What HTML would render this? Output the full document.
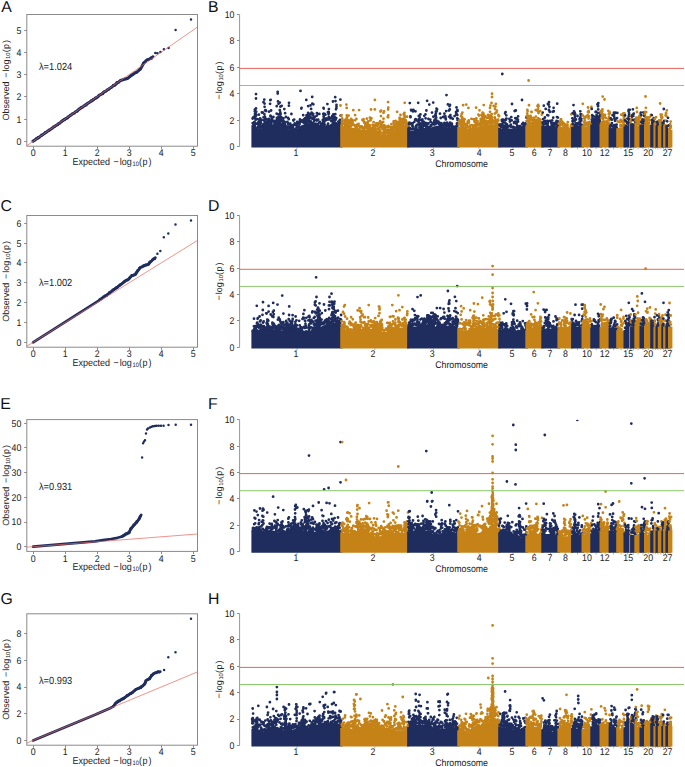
<!DOCTYPE html>
<html><head><meta charset="utf-8"><style>
html,body{margin:0;padding:0;background:#fff;}
svg{display:block;font-family:"Liberation Sans", sans-serif;}
text{text-rendering:geometricPrecision;}
</style></head><body>
<svg width="685" height="767" viewBox="0 0 685 767">
<rect width="685" height="767" fill="#fff"/>
<text x="1.2" y="12.35" font-size="15.8" fill="#111">A</text>
<text x="207.9" y="12.35" font-size="15.8" fill="#111">B</text>
<text x="0.6" y="210.6" font-size="15.8" fill="#111">C</text>
<text x="207.9" y="210.6" font-size="15.8" fill="#111">D</text>
<text x="0.2" y="408.8" font-size="15.8" fill="#111">E</text>
<text x="207.9" y="408.8" font-size="15.8" fill="#111">F</text>
<text x="0.5" y="603.6" font-size="15.8" fill="#111">G</text>
<text x="207.9" y="603.7" font-size="15.8" fill="#111">H</text>
<rect x="26.8" y="14.5" width="170.7" height="131.7" fill="none" stroke="#8a8a8a" stroke-width="1"/>
<line x1="24.2" y1="141.5" x2="26.8" y2="141.5" stroke="#8a8a8a" stroke-width="1"/>
<text transform="translate(21.3,144.7) scale(1,1.1)" font-size="8.8" text-anchor="end" fill="#222">0</text>
<line x1="24.2" y1="119.5" x2="26.8" y2="119.5" stroke="#8a8a8a" stroke-width="1"/>
<text transform="translate(21.3,122.5) scale(1,1.1)" font-size="8.8" text-anchor="end" fill="#222">1</text>
<line x1="24.2" y1="96.5" x2="26.8" y2="96.5" stroke="#8a8a8a" stroke-width="1"/>
<text transform="translate(21.3,100.2) scale(1,1.1)" font-size="8.8" text-anchor="end" fill="#222">2</text>
<line x1="24.2" y1="74.5" x2="26.8" y2="74.5" stroke="#8a8a8a" stroke-width="1"/>
<text transform="translate(21.3,78) scale(1,1.1)" font-size="8.8" text-anchor="end" fill="#222">3</text>
<line x1="24.2" y1="52.5" x2="26.8" y2="52.5" stroke="#8a8a8a" stroke-width="1"/>
<text transform="translate(21.3,55.8) scale(1,1.1)" font-size="8.8" text-anchor="end" fill="#222">4</text>
<line x1="24.2" y1="30.5" x2="26.8" y2="30.5" stroke="#8a8a8a" stroke-width="1"/>
<text transform="translate(21.3,33.5) scale(1,1.1)" font-size="8.8" text-anchor="end" fill="#222">5</text>
<line x1="33.5" y1="146.2" x2="33.5" y2="148.8" stroke="#8a8a8a" stroke-width="1"/>
<text transform="translate(33.1,156.4) scale(1,1.1)" font-size="8.8" text-anchor="middle" fill="#222">0</text>
<line x1="65.5" y1="146.2" x2="65.5" y2="148.8" stroke="#8a8a8a" stroke-width="1"/>
<text transform="translate(65.1,156.4) scale(1,1.1)" font-size="8.8" text-anchor="middle" fill="#222">1</text>
<line x1="97.5" y1="146.2" x2="97.5" y2="148.8" stroke="#8a8a8a" stroke-width="1"/>
<text transform="translate(97.1,156.4) scale(1,1.1)" font-size="8.8" text-anchor="middle" fill="#222">2</text>
<line x1="129.5" y1="146.2" x2="129.5" y2="148.8" stroke="#8a8a8a" stroke-width="1"/>
<text transform="translate(129.1,156.4) scale(1,1.1)" font-size="8.8" text-anchor="middle" fill="#222">3</text>
<line x1="161.5" y1="146.2" x2="161.5" y2="148.8" stroke="#8a8a8a" stroke-width="1"/>
<text transform="translate(161.1,156.4) scale(1,1.1)" font-size="8.8" text-anchor="middle" fill="#222">4</text>
<line x1="193.5" y1="146.2" x2="193.5" y2="148.8" stroke="#8a8a8a" stroke-width="1"/>
<text transform="translate(193.1,156.4) scale(1,1.1)" font-size="8.8" text-anchor="middle" fill="#222">5</text>
<text transform="translate(72.5,164.6) scale(1,1.1)" fill="#222"><tspan x="0" y="0" font-size="9.0">Expected</tspan><tspan x="41.1" y="0" font-size="9.0">&#8722;</tspan><tspan x="47.3" y="0" font-size="9.0">log</tspan><tspan x="60" y="1.3" font-size="5.8">10</tspan><tspan x="66.6" y="0" font-size="9.0">(</tspan><tspan x="70" y="0" font-size="9.0">p</tspan><tspan x="76" y="0" font-size="9.0">)</tspan></text>
<text transform="translate(8.7,120.6) rotate(-90)" fill="#222"><tspan x="0" y="0" font-size="9.0">Observed</tspan><tspan x="42.8" y="0" font-size="9.0">&#8722;</tspan><tspan x="49" y="0" font-size="9.0">log</tspan><tspan x="61.7" y="1.3" font-size="5.8">10</tspan><tspan x="68.3" y="0" font-size="9.0">(</tspan><tspan x="71.7" y="0" font-size="9.0">p</tspan><tspan x="77.7" y="0" font-size="9.0">)</tspan></text>
<text transform="translate(38.9,69.6) scale(1,1.1)" font-size="9.3" fill="#222">&#955;=1.024</text>
<path d="M33.1 141.3 115 84.7 120.3 80.7 123.8 79.4 128.1 78.1 132.5 74.6 136.9 72 140.4 68.9 142.1 65.8 143.9 63.2 146.1 60.6 148.3 59.4 150.9 58.4 153.1 56.6" fill="none" stroke="#1e2d5e" stroke-width="2.7" stroke-linecap="round" stroke-linejoin="round"/>
<path d="M32.9 141h0M34 140.4h0M34.6 140.2h0M34.9 139.8h0M35.7 139.2h0M36.4 138.4h0M37.5 138.5h0M38 137.4h0M39.2 137.6h0M39.9 136.6h0M41 135.7h0M41.6 135.5h0M41.7 134.8h0M42.6 134.9h0M43.2 134.2h0M44.4 133.5h0M45.1 132.7h0M45.4 132.3h0M46.7 132h0M47.1 131.6h0M47.9 130.8h0M49 130.7h0M49.2 130h0M50.2 129.8h0M51.2 128.8h0M52.1 128.1h0M52.4 128.2h0M52.9 127.4h0M53.5 127h0M54.9 126.4h0M55.8 125.7h0M56.4 125.4h0M57 124.8h0M58 124.7h0M58.4 124h0M58.8 123.5h0M60 123.2h0M60.9 122.1h0M61.3 121.9h0M61.7 121.2h0M62.6 120.4h0M63.2 120.4h0M64 119.5h0M65 119.5h0M65.5 118.6h0M66.6 118.5h0M67.6 118h0M67.9 117h0M68.7 116.9h0M70 115.8h0M70 115.3h0M70.8 115h0M71.9 114.3h0M72.1 114h0M73.2 113.6h0M74.5 113.2h0M74.8 112.6h0M75.7 111.6h0M76.6 111.7h0M77.4 111.2h0M77.7 110.3h0M78.2 110h0M78.9 109h0M79.7 108.6h0M80.6 108h0M81 107.5h0M81.9 107.2h0M82.6 107.2h0M83.8 106h0M84.3 105.7h0M85.1 104.9h0M86.3 105.2h0M86.7 104.2h0M87.1 103.4h0M88.1 103h0M89.2 102.4h0M89.3 102.6h0M90.5 101.4h0M91.2 100.7h0M91.9 101.1h0M93 100.3h0M93.2 99.5h0M93.9 99.4h0M94.9 98.8h0M95.5 97.8h0M96.7 98h0M97.4 97.3h0M98.2 96.8h0M98.4 96h0M99.2 95.1h0M99.7 94.8h0M100.6 94.6h0M102 93.9h0M102.7 93.9h0M103.5 92.8h0M103.6 92.2h0M104.3 91.6h0M105.4 91.7h0M106.4 90.9h0M106.9 90.6h0M107.2 90h0M108.7 89.6h0M109.3 88.8h0M109.5 88.6h0M110.4 88.1h0M111.7 87.2h0M111.9 87.2h0M113 85.9h0M113.2 85.4h0M114.6 85.5h0M114.7 85h0M116.2 84.3h0M116.4 83.6h0M116.9 82.5h0M118.5 82.5h0M118.8 82.2h0M119.5 81.6h0M120.6 80.4h0M121 80.2h0M121.8 80.1h0M122.7 79.7h0M123.5 79.8h0M124.7 79h0M126 79.1h0M127 78.8h0M128.1 78.1h0M128.9 77.1h0M129.5 76.6h0M129.9 76.6h0M130.7 75.7h0M132 75.2h0M132.3 74.6h0M133.4 74.3h0M133.9 73.6h0M134.9 72.8h0M136.3 72.5h0M137 72.2h0M138 71.3h0M138.4 70.8h0M139 70.3h0M139.7 69.5h0M140.4 69.3h0M141.1 68.2h0M141.9 66.6h0M142.2 66.2h0M143 64.6h0M143 64h0M143.5 63h0M144.2 62.5h0M145.6 61.8h0M145.8 60.8h0M147.3 59.7h0M148.6 59.8h0M148.9 59.5h0M149.9 58.7h0M151.3 58.7h0M151.3 57.7h0M152.4 57.1h0" stroke="#1e2d5e" stroke-width="2.8" stroke-linecap="round"/>
<path d="M155.3 53.1h0M157.5 53.3h0M160.4 52.1h0M163.9 49.2h0M168.6 48.1h0M175.6 30.1h0M191 19.5h0" stroke="#1e2d5e" stroke-width="2.5" stroke-linecap="round"/>
<line x1="26.8" y1="145.7" x2="197.5" y2="27" stroke="#e8645a" stroke-width="0.7"/>
<rect x="26.8" y="215.5" width="170.7" height="131.7" fill="none" stroke="#8a8a8a" stroke-width="1"/>
<line x1="24.2" y1="342.5" x2="26.8" y2="342.5" stroke="#8a8a8a" stroke-width="1"/>
<text transform="translate(21.3,345.7) scale(1,1.1)" font-size="8.8" text-anchor="end" fill="#222">0</text>
<line x1="24.2" y1="322.5" x2="26.8" y2="322.5" stroke="#8a8a8a" stroke-width="1"/>
<text transform="translate(21.3,325.9) scale(1,1.1)" font-size="8.8" text-anchor="end" fill="#222">1</text>
<line x1="24.2" y1="302.5" x2="26.8" y2="302.5" stroke="#8a8a8a" stroke-width="1"/>
<text transform="translate(21.3,306.1) scale(1,1.1)" font-size="8.8" text-anchor="end" fill="#222">2</text>
<line x1="24.2" y1="282.5" x2="26.8" y2="282.5" stroke="#8a8a8a" stroke-width="1"/>
<text transform="translate(21.3,286.2) scale(1,1.1)" font-size="8.8" text-anchor="end" fill="#222">3</text>
<line x1="24.2" y1="262.5" x2="26.8" y2="262.5" stroke="#8a8a8a" stroke-width="1"/>
<text transform="translate(21.3,266.4) scale(1,1.1)" font-size="8.8" text-anchor="end" fill="#222">4</text>
<line x1="24.2" y1="243.5" x2="26.8" y2="243.5" stroke="#8a8a8a" stroke-width="1"/>
<text transform="translate(21.3,246.6) scale(1,1.1)" font-size="8.8" text-anchor="end" fill="#222">5</text>
<line x1="24.2" y1="223.5" x2="26.8" y2="223.5" stroke="#8a8a8a" stroke-width="1"/>
<text transform="translate(21.3,226.7) scale(1,1.1)" font-size="8.8" text-anchor="end" fill="#222">6</text>
<line x1="33.5" y1="347.2" x2="33.5" y2="349.8" stroke="#8a8a8a" stroke-width="1"/>
<text transform="translate(33.1,357.4) scale(1,1.1)" font-size="8.8" text-anchor="middle" fill="#222">0</text>
<line x1="65.5" y1="347.2" x2="65.5" y2="349.8" stroke="#8a8a8a" stroke-width="1"/>
<text transform="translate(65.1,357.4) scale(1,1.1)" font-size="8.8" text-anchor="middle" fill="#222">1</text>
<line x1="97.5" y1="347.2" x2="97.5" y2="349.8" stroke="#8a8a8a" stroke-width="1"/>
<text transform="translate(97.1,357.4) scale(1,1.1)" font-size="8.8" text-anchor="middle" fill="#222">2</text>
<line x1="129.5" y1="347.2" x2="129.5" y2="349.8" stroke="#8a8a8a" stroke-width="1"/>
<text transform="translate(129.1,357.4) scale(1,1.1)" font-size="8.8" text-anchor="middle" fill="#222">3</text>
<line x1="161.5" y1="347.2" x2="161.5" y2="349.8" stroke="#8a8a8a" stroke-width="1"/>
<text transform="translate(161.1,357.4) scale(1,1.1)" font-size="8.8" text-anchor="middle" fill="#222">4</text>
<line x1="193.5" y1="347.2" x2="193.5" y2="349.8" stroke="#8a8a8a" stroke-width="1"/>
<text transform="translate(193.1,357.4) scale(1,1.1)" font-size="8.8" text-anchor="middle" fill="#222">5</text>
<text transform="translate(72.5,365.6) scale(1,1.1)" fill="#222"><tspan x="0" y="0" font-size="9.0">Expected</tspan><tspan x="41.1" y="0" font-size="9.0">&#8722;</tspan><tspan x="47.3" y="0" font-size="9.0">log</tspan><tspan x="60" y="1.3" font-size="5.8">10</tspan><tspan x="66.6" y="0" font-size="9.0">(</tspan><tspan x="70" y="0" font-size="9.0">p</tspan><tspan x="76" y="0" font-size="9.0">)</tspan></text>
<text transform="translate(8.7,321.7) rotate(-90)" fill="#222"><tspan x="0" y="0" font-size="9.0">Observed</tspan><tspan x="42.8" y="0" font-size="9.0">&#8722;</tspan><tspan x="49" y="0" font-size="9.0">log</tspan><tspan x="61.7" y="1.3" font-size="5.8">10</tspan><tspan x="68.3" y="0" font-size="9.0">(</tspan><tspan x="71.7" y="0" font-size="9.0">p</tspan><tspan x="77.7" y="0" font-size="9.0">)</tspan></text>
<text transform="translate(38.9,285.8) scale(1,1.1)" font-size="9.3" fill="#222">&#955;=1.002</text>
<path d="M33.1 342.3 100 299.8 107.3 294.7 113.9 289.6 121.9 283.7 125 280.9 128.5 279.2 132 275.7 135.2 274.5 136.7 272.2 138.4 270.1 140.5 267.2 142.5 266.6 144.9 265.1 148.4 264.6 150.7 261.7 153.6 259.1 155.4 257.6" fill="none" stroke="#1e2d5e" stroke-width="2.7" stroke-linecap="round" stroke-linejoin="round"/>
<path d="M99.8 299.5h0M100.9 298.8h0M101.7 298.5h0M102 298.1h0M102.8 297.5h0M103.7 296.6h0M104.8 296.7h0M105.3 295.6h0M106.6 295.7h0M107.4 294.6h0M108.5 293.7h0M109.1 293.4h0M109.2 292.7h0M110.1 292.7h0M110.7 291.9h0M111.8 291.2h0M112.5 290.3h0M112.8 289.9h0M114.1 289.5h0M114.5 289.1h0M115.3 288.3h0M116.3 288.2h0M116.6 287.5h0M117.6 287.3h0M118.5 286.2h0M119.4 285.5h0M119.6 285.5h0M120.1 284.8h0M120.8 284.4h0M122.1 283.8h0M123 282.8h0M123.6 282.4h0M124.3 281.6h0M125.3 281.3h0M125.9 280.6h0M126.4 280.2h0M127.8 280.1h0M128.8 279h0M129.1 278.7h0M129.5 277.8h0M130.3 276.8h0M130.9 276.6h0M131.7 275.5h0M133 275.6h0M133.8 274.9h0M135.2 274.8h0M136 274.1h0M136 272.9h0M136.6 272.5h0M137.7 271.2h0M137.5 270.6h0M138.2 270.1h0M139.2 268.9h0M139.4 268.1h0M140.4 267.3h0M141.9 267.1h0M142.5 266.7h0M143.5 265.7h0M144.5 265.9h0M145.2 265.4h0M146 264.8h0M146.9 264.9h0M148 264.2h0M148.7 263.6h0M149.4 262.7h0M149.7 262.1h0M150.3 261.6h0M151 261.4h0M152.3 260.1h0M152.7 259.6h0M153.5 258.8h0M154.8 258.8h0" stroke="#1e2d5e" stroke-width="2.8" stroke-linecap="round"/>
<path d="M157.4 253.8h0M160.3 250.9h0M163.8 237.3h0M168.3 233.4h0M175.5 224.6h0M191 220.5h0" stroke="#1e2d5e" stroke-width="2.5" stroke-linecap="round"/>
<line x1="26.8" y1="346.2" x2="197.5" y2="240.4" stroke="#e8645a" stroke-width="0.7"/>
<rect x="26.8" y="419.6" width="170.7" height="131.8" fill="none" stroke="#8a8a8a" stroke-width="1"/>
<line x1="24.2" y1="546.5" x2="26.8" y2="546.5" stroke="#8a8a8a" stroke-width="1"/>
<text transform="translate(21.3,550.1) scale(1,1.1)" font-size="8.8" text-anchor="end" fill="#222">0</text>
<line x1="24.2" y1="522.5" x2="26.8" y2="522.5" stroke="#8a8a8a" stroke-width="1"/>
<text transform="translate(21.3,525.4) scale(1,1.1)" font-size="8.8" text-anchor="end" fill="#222">10</text>
<line x1="24.2" y1="497.5" x2="26.8" y2="497.5" stroke="#8a8a8a" stroke-width="1"/>
<text transform="translate(21.3,500.8) scale(1,1.1)" font-size="8.8" text-anchor="end" fill="#222">20</text>
<line x1="24.2" y1="472.5" x2="26.8" y2="472.5" stroke="#8a8a8a" stroke-width="1"/>
<text transform="translate(21.3,476.1) scale(1,1.1)" font-size="8.8" text-anchor="end" fill="#222">30</text>
<line x1="24.2" y1="447.5" x2="26.8" y2="447.5" stroke="#8a8a8a" stroke-width="1"/>
<text transform="translate(21.3,451.4) scale(1,1.1)" font-size="8.8" text-anchor="end" fill="#222">40</text>
<line x1="24.2" y1="423.5" x2="26.8" y2="423.5" stroke="#8a8a8a" stroke-width="1"/>
<text transform="translate(21.3,426.7) scale(1,1.1)" font-size="8.8" text-anchor="end" fill="#222">50</text>
<line x1="33.5" y1="551.4" x2="33.5" y2="554" stroke="#8a8a8a" stroke-width="1"/>
<text transform="translate(33.1,561.6) scale(1,1.1)" font-size="8.8" text-anchor="middle" fill="#222">0</text>
<line x1="65.5" y1="551.4" x2="65.5" y2="554" stroke="#8a8a8a" stroke-width="1"/>
<text transform="translate(65.1,561.6) scale(1,1.1)" font-size="8.8" text-anchor="middle" fill="#222">1</text>
<line x1="97.5" y1="551.4" x2="97.5" y2="554" stroke="#8a8a8a" stroke-width="1"/>
<text transform="translate(97.1,561.6) scale(1,1.1)" font-size="8.8" text-anchor="middle" fill="#222">2</text>
<line x1="129.5" y1="551.4" x2="129.5" y2="554" stroke="#8a8a8a" stroke-width="1"/>
<text transform="translate(129.1,561.6) scale(1,1.1)" font-size="8.8" text-anchor="middle" fill="#222">3</text>
<line x1="161.5" y1="551.4" x2="161.5" y2="554" stroke="#8a8a8a" stroke-width="1"/>
<text transform="translate(161.1,561.6) scale(1,1.1)" font-size="8.8" text-anchor="middle" fill="#222">4</text>
<line x1="193.5" y1="551.4" x2="193.5" y2="554" stroke="#8a8a8a" stroke-width="1"/>
<text transform="translate(193.1,561.6) scale(1,1.1)" font-size="8.8" text-anchor="middle" fill="#222">5</text>
<text transform="translate(72.5,569.8) scale(1,1.1)" fill="#222"><tspan x="0" y="0" font-size="9.0">Expected</tspan><tspan x="41.1" y="0" font-size="9.0">&#8722;</tspan><tspan x="47.3" y="0" font-size="9.0">log</tspan><tspan x="60" y="1.3" font-size="5.8">10</tspan><tspan x="66.6" y="0" font-size="9.0">(</tspan><tspan x="70" y="0" font-size="9.0">p</tspan><tspan x="76" y="0" font-size="9.0">)</tspan></text>
<text transform="translate(8.7,525.8) rotate(-90)" fill="#222"><tspan x="0" y="0" font-size="9.0">Observed</tspan><tspan x="42.8" y="0" font-size="9.0">&#8722;</tspan><tspan x="49" y="0" font-size="9.0">log</tspan><tspan x="61.7" y="1.3" font-size="5.8">10</tspan><tspan x="68.3" y="0" font-size="9.0">(</tspan><tspan x="71.7" y="0" font-size="9.0">p</tspan><tspan x="77.7" y="0" font-size="9.0">)</tspan></text>
<text transform="translate(38.9,489.7) scale(1,1.1)" font-size="9.3" fill="#222">&#955;=0.931</text>
<path d="M33.1 546.7 95 541.4 103 540.2 111.1 539 117.5 537.8 122.3 536.5 125.5 534.5 129.1 532.5 130.3 529.7 132.8 526.5 136 522.9 138.8 519.3 140 517.3 141.2 514.9" fill="none" stroke="#1e2d5e" stroke-width="2.7" stroke-linecap="round" stroke-linejoin="round"/>
<path d="M122.1 536.2h0M123.2 535.6h0M123.9 535.4h0M124.3 535h0M125.1 534.4h0M126 533.6h0M127.2 533.8h0M127.9 532.8h0M129.2 532.9h0M129.6 531.5h0M130.3 530.2h0M130.6 529.5h0M130.6 528.6h0M131.4 528.4h0M131.9 527.4h0M132.9 526.4h0M133.5 525.4h0M133.7 524.8h0M134.9 524.3h0M135.2 523.7h0M136 522.7h0M136.8 522.4h0M136.9 521.5h0M137.7 521.1h0M138.4 519.8h0M139.2 519h0M139.3 518.5h0M139.7 517.3h0M140.2 516.3h0" stroke="#1e2d5e" stroke-width="2.8" stroke-linecap="round"/>
<path d="M142.1 457.4h0M143.1 443.3h0M144 441.5h0M145 440.3h0M146 433.5h0M147 429.6h0M148 428.4h0M149.9 427.6h0M151.5 426.8h0M153 426.3h0M154.8 426h0M156.5 425.8h0M158.7 425.7h0M161 425.7h0M163.6 425.7h0M168.5 425.1h0M175.7 424.7h0M191 424.7h0" stroke="#1e2d5e" stroke-width="2.5" stroke-linecap="round"/>
<line x1="26.8" y1="547.2" x2="197.5" y2="534" stroke="#e8645a" stroke-width="0.7"/>
<rect x="26.8" y="613.8" width="170.7" height="131.4" fill="none" stroke="#8a8a8a" stroke-width="1"/>
<line x1="24.2" y1="740.5" x2="26.8" y2="740.5" stroke="#8a8a8a" stroke-width="1"/>
<text transform="translate(21.3,743.8) scale(1,1.1)" font-size="8.8" text-anchor="end" fill="#222">0</text>
<line x1="24.2" y1="713.5" x2="26.8" y2="713.5" stroke="#8a8a8a" stroke-width="1"/>
<text transform="translate(21.3,717.1) scale(1,1.1)" font-size="8.8" text-anchor="end" fill="#222">2</text>
<line x1="24.2" y1="687.5" x2="26.8" y2="687.5" stroke="#8a8a8a" stroke-width="1"/>
<text transform="translate(21.3,690.4) scale(1,1.1)" font-size="8.8" text-anchor="end" fill="#222">4</text>
<line x1="24.2" y1="660.5" x2="26.8" y2="660.5" stroke="#8a8a8a" stroke-width="1"/>
<text transform="translate(21.3,663.8) scale(1,1.1)" font-size="8.8" text-anchor="end" fill="#222">6</text>
<line x1="24.2" y1="633.5" x2="26.8" y2="633.5" stroke="#8a8a8a" stroke-width="1"/>
<text transform="translate(21.3,637.1) scale(1,1.1)" font-size="8.8" text-anchor="end" fill="#222">8</text>
<line x1="33.5" y1="745.2" x2="33.5" y2="747.8" stroke="#8a8a8a" stroke-width="1"/>
<text transform="translate(33.1,755.4) scale(1,1.1)" font-size="8.8" text-anchor="middle" fill="#222">0</text>
<line x1="65.5" y1="745.2" x2="65.5" y2="747.8" stroke="#8a8a8a" stroke-width="1"/>
<text transform="translate(65.1,755.4) scale(1,1.1)" font-size="8.8" text-anchor="middle" fill="#222">1</text>
<line x1="97.5" y1="745.2" x2="97.5" y2="747.8" stroke="#8a8a8a" stroke-width="1"/>
<text transform="translate(97.1,755.4) scale(1,1.1)" font-size="8.8" text-anchor="middle" fill="#222">2</text>
<line x1="129.5" y1="745.2" x2="129.5" y2="747.8" stroke="#8a8a8a" stroke-width="1"/>
<text transform="translate(129.1,755.4) scale(1,1.1)" font-size="8.8" text-anchor="middle" fill="#222">3</text>
<line x1="161.5" y1="745.2" x2="161.5" y2="747.8" stroke="#8a8a8a" stroke-width="1"/>
<text transform="translate(161.1,755.4) scale(1,1.1)" font-size="8.8" text-anchor="middle" fill="#222">4</text>
<line x1="193.5" y1="745.2" x2="193.5" y2="747.8" stroke="#8a8a8a" stroke-width="1"/>
<text transform="translate(193.1,755.4) scale(1,1.1)" font-size="8.8" text-anchor="middle" fill="#222">5</text>
<text transform="translate(72.5,763.6) scale(1,1.1)" fill="#222"><tspan x="0" y="0" font-size="9.0">Expected</tspan><tspan x="41.1" y="0" font-size="9.0">&#8722;</tspan><tspan x="47.3" y="0" font-size="9.0">log</tspan><tspan x="60" y="1.3" font-size="5.8">10</tspan><tspan x="66.6" y="0" font-size="9.0">(</tspan><tspan x="70" y="0" font-size="9.0">p</tspan><tspan x="76" y="0" font-size="9.0">)</tspan></text>
<text transform="translate(8.7,719.8) rotate(-90)" fill="#222"><tspan x="0" y="0" font-size="9.0">Observed</tspan><tspan x="42.8" y="0" font-size="9.0">&#8722;</tspan><tspan x="49" y="0" font-size="9.0">log</tspan><tspan x="61.7" y="1.3" font-size="5.8">10</tspan><tspan x="68.3" y="0" font-size="9.0">(</tspan><tspan x="71.7" y="0" font-size="9.0">p</tspan><tspan x="77.7" y="0" font-size="9.0">)</tspan></text>
<text transform="translate(38.9,683.6) scale(1,1.1)" font-size="9.3" fill="#222">&#955;=0.993</text>
<path d="M33.1 740.4 95 714.8 110 708.2 113.5 706.4 115.5 703.6 118.8 701 123.1 698.8 127.5 695.7 131.9 692.7 136.3 689.2 140.6 687.4 145 683.9 146.3 680.4 149.4 678.6 151.6 675.6 154.7 673 157.7 672.1 160.3 671.6" fill="none" stroke="#1e2d5e" stroke-width="2.7" stroke-linecap="round" stroke-linejoin="round"/>
<path d="M113.3 706.1h0M114.3 705.1h0M114.9 704.4h0M115.1 703.6h0M115.9 702.9h0M116.8 701.9h0M117.9 701.9h0M118.5 700.8h0M119.8 701h0M120.6 700h0M121.8 699.3h0M122.6 699.1h0M122.8 698.5h0M123.8 698.5h0M124.6 697.6h0M125.9 696.8h0M126.7 695.9h0M127.1 695.4h0M128.5 695h0M129.1 694.6h0M130.1 693.7h0M131.3 693.5h0M131.7 692.8h0M132.7 692.5h0M133.6 691.3h0M134.5 690.6h0M134.8 690.6h0M135.3 689.8h0M135.9 689.4h0M137.4 688.9h0M138.4 688.3h0M139.1 688.2h0M139.8 687.7h0M140.9 687.8h0M141.3 687h0M141.7 686.4h0M142.9 686.1h0M143.8 684.9h0M144.2 684.6h0M144.6 683.9h0M145 682.7h0M145.3 682.4h0M145.6 681h0M146.2 680.7h0M147 679.8h0M148.4 679.5h0M149.7 678.9h0M149.8 677.8h0M150.4 677.4h0M151.5 676h0M151.3 675.4h0M152.1 674.9h0M153.2 674.1h0M153.5 673.6h0M154.6 673.1h0M156.1 672.9h0M156.7 672.5h0M157.9 671.7h0M159.4 672.1h0" stroke="#1e2d5e" stroke-width="2.8" stroke-linecap="round"/>
<path d="M164.1 670.1h0M168.3 657.2h0M175.5 652.3h0M191 618.8h0" stroke="#1e2d5e" stroke-width="2.5" stroke-linecap="round"/>
<line x1="26.8" y1="743" x2="197.5" y2="671.9" stroke="#e8645a" stroke-width="0.7"/>
<line x1="239.6" y1="146.4" x2="239.6" y2="14.6" stroke="#8a8a8a" stroke-width="0.9"/>
<line x1="237.0" y1="146.5" x2="239.6" y2="146.5" stroke="#8a8a8a" stroke-width="1"/>
<text transform="translate(234.5,149.8) scale(1,1.1)" font-size="8.8" text-anchor="end" fill="#222">0</text>
<line x1="237.0" y1="120.5" x2="239.6" y2="120.5" stroke="#8a8a8a" stroke-width="1"/>
<text transform="translate(234.5,123.5) scale(1,1.1)" font-size="8.8" text-anchor="end" fill="#222">2</text>
<line x1="237.0" y1="93.5" x2="239.6" y2="93.5" stroke="#8a8a8a" stroke-width="1"/>
<text transform="translate(234.5,97.1) scale(1,1.1)" font-size="8.8" text-anchor="end" fill="#222">4</text>
<line x1="237.0" y1="67.5" x2="239.6" y2="67.5" stroke="#8a8a8a" stroke-width="1"/>
<text transform="translate(234.5,70.7) scale(1,1.1)" font-size="8.8" text-anchor="end" fill="#222">6</text>
<line x1="237.0" y1="40.5" x2="239.6" y2="40.5" stroke="#8a8a8a" stroke-width="1"/>
<text transform="translate(234.5,44.4) scale(1,1.1)" font-size="8.8" text-anchor="end" fill="#222">8</text>
<line x1="237.0" y1="14.5" x2="239.6" y2="14.5" stroke="#8a8a8a" stroke-width="1"/>
<text transform="translate(234.5,18) scale(1,1.1)" font-size="8.8" text-anchor="end" fill="#222">10</text>
<text transform="translate(221.6,99.5) rotate(-90)" fill="#222"><tspan x="0" y="0" font-size="9.0">&#8722;</tspan><tspan x="6.2" y="0" font-size="9.0">log</tspan><tspan x="18.9" y="1.3" font-size="5.8">10</tspan><tspan x="25.5" y="0" font-size="9.0">(</tspan><tspan x="28.9" y="0" font-size="9.0">p</tspan><tspan x="34.9" y="0" font-size="9.0">)</tspan></text>
<line x1="297" y1="147.3" x2="297" y2="149.3" stroke="#999" stroke-width="0.7"/>
<line x1="374.9" y1="147.3" x2="374.9" y2="149.3" stroke="#999" stroke-width="0.7"/>
<line x1="433.4" y1="147.3" x2="433.4" y2="149.3" stroke="#999" stroke-width="0.7"/>
<line x1="478.9" y1="147.3" x2="478.9" y2="149.3" stroke="#999" stroke-width="0.7"/>
<line x1="513" y1="147.3" x2="513" y2="149.3" stroke="#999" stroke-width="0.7"/>
<line x1="534.5" y1="147.3" x2="534.5" y2="149.3" stroke="#999" stroke-width="0.7"/>
<line x1="550.5" y1="147.3" x2="550.5" y2="149.3" stroke="#999" stroke-width="0.7"/>
<line x1="565.4" y1="147.3" x2="565.4" y2="149.3" stroke="#999" stroke-width="0.7"/>
<line x1="577.5" y1="147.3" x2="577.5" y2="149.3" stroke="#999" stroke-width="0.7"/>
<line x1="587.1" y1="147.3" x2="587.1" y2="149.3" stroke="#999" stroke-width="0.7"/>
<line x1="596.1" y1="147.3" x2="596.1" y2="149.3" stroke="#999" stroke-width="0.7"/>
<line x1="605.2" y1="147.3" x2="605.2" y2="149.3" stroke="#999" stroke-width="0.7"/>
<line x1="613.6" y1="147.3" x2="613.6" y2="149.3" stroke="#999" stroke-width="0.7"/>
<line x1="621.1" y1="147.3" x2="621.1" y2="149.3" stroke="#999" stroke-width="0.7"/>
<line x1="627.5" y1="147.3" x2="627.5" y2="149.3" stroke="#999" stroke-width="0.7"/>
<line x1="630.8" y1="147.3" x2="630.8" y2="149.3" stroke="#999" stroke-width="0.7"/>
<line x1="633.4" y1="147.3" x2="633.4" y2="149.3" stroke="#999" stroke-width="0.7"/>
<line x1="638.1" y1="147.3" x2="638.1" y2="149.3" stroke="#999" stroke-width="0.7"/>
<line x1="643" y1="147.3" x2="643" y2="149.3" stroke="#999" stroke-width="0.7"/>
<line x1="648.3" y1="147.3" x2="648.3" y2="149.3" stroke="#999" stroke-width="0.7"/>
<line x1="653" y1="147.3" x2="653" y2="149.3" stroke="#999" stroke-width="0.7"/>
<line x1="655.7" y1="147.3" x2="655.7" y2="149.3" stroke="#999" stroke-width="0.7"/>
<line x1="657.9" y1="147.3" x2="657.9" y2="149.3" stroke="#999" stroke-width="0.7"/>
<line x1="660.8" y1="147.3" x2="660.8" y2="149.3" stroke="#999" stroke-width="0.7"/>
<line x1="663.4" y1="147.3" x2="663.4" y2="149.3" stroke="#999" stroke-width="0.7"/>
<line x1="665.5" y1="147.3" x2="665.5" y2="149.3" stroke="#999" stroke-width="0.7"/>
<line x1="667.9" y1="147.3" x2="667.9" y2="149.3" stroke="#999" stroke-width="0.7"/>
<line x1="670.2" y1="147.3" x2="670.2" y2="149.3" stroke="#999" stroke-width="0.7"/>
<text transform="translate(296,156) scale(1,1.1)" font-size="8.8" text-anchor="middle" fill="#222">1</text>
<text transform="translate(372.9,156) scale(1,1.1)" font-size="8.8" text-anchor="middle" fill="#222">2</text>
<text transform="translate(432.2,156) scale(1,1.1)" font-size="8.8" text-anchor="middle" fill="#222">3</text>
<text transform="translate(479.2,156) scale(1,1.1)" font-size="8.8" text-anchor="middle" fill="#222">4</text>
<text transform="translate(511.9,156) scale(1,1.1)" font-size="8.8" text-anchor="middle" fill="#222">5</text>
<text transform="translate(534.3,156) scale(1,1.1)" font-size="8.8" text-anchor="middle" fill="#222">6</text>
<text transform="translate(550,156) scale(1,1.1)" font-size="8.8" text-anchor="middle" fill="#222">7</text>
<text transform="translate(565.4,156) scale(1,1.1)" font-size="8.8" text-anchor="middle" fill="#222">8</text>
<text transform="translate(587,156) scale(1,1.1)" font-size="8.8" text-anchor="middle" fill="#222">10</text>
<text transform="translate(604.7,156) scale(1,1.1)" font-size="8.8" text-anchor="middle" fill="#222">12</text>
<text transform="translate(628.2,156) scale(1,1.1)" font-size="8.8" text-anchor="middle" fill="#222">15</text>
<text transform="translate(648.2,156) scale(1,1.1)" font-size="8.8" text-anchor="middle" fill="#222">20</text>
<text transform="translate(667.6,156) scale(1,1.1)" font-size="8.8" text-anchor="middle" fill="#222">27</text>
<text transform="translate(461.6,166.7) scale(1,1.1)" font-size="8.8" text-anchor="middle" fill="#222">Chromosome</text>
<path d="M251.4 147.6 251.4 125.3 252.6 125.3 253.6 125.3 254.6 126.1 255.6 126.1 256.6 126.9 257.6 127.7 258.6 128.5 259.6 129.3 260.6 128.6 261.6 128.6 262.6 127.9 263.6 127.3 264.6 126.6 265.6 126 266.6 126 267.6 126 268.6 126 269.6 125.8 270.6 125.8 271.6 125.7 272.6 125.6 273.6 124.1 274.6 124 275.6 122.7 276.6 121.4 277.6 121.1 278.6 119.8 279.6 120.8 280.6 121.9 281.6 122.9 282.6 124 283.6 125 284.6 125 285.6 126.1 286.6 127.2 287.6 128.2 288.6 129.3 289.6 129.3 290.6 129.3 291.6 129.3 292.6 129.3 293.6 129.3 294.6 129.3 295.6 129.3 296.6 128.5 297.6 128.5 298.6 127.7 299.6 126.9 300.6 126.1 301.6 125.3 302.6 124.8 303.6 124.8 304.6 124.3 305.6 123.7 306.6 123.2 307.6 122.7 308.6 123.5 309.6 123.5 310.6 124.3 311.6 125 312.6 125.8 313.6 126.6 314.6 126.6 315.6 126.6 316.6 126.6 317.6 126.6 318.6 126.6 319.6 126.6 320.6 126.6 321.6 126.4 322.6 126.4 323.6 126.1 324.6 125.8 325.6 125.6 326.6 125.3 327.6 125.3 328.6 124.7 329.6 124.7 330.6 124 331.6 123.3 332.6 122.7 333.6 122 334.6 122 335.6 122 336.6 122 337.6 122.7 338.6 122.7 339.6 123.4 340.6 124.2 341.4 124.9 342.6 124.9 342.6 147.6Z" fill="#1e2d5e"/>
<path d="M252.7 123.2h0M253 123.5h0M252.6 118.5h0M253.4 125.2h0M253.1 117.9h0M253.6 117.2h0M254.3 123.5h0M254.2 122.2h0M255 115.5h0M254.8 125.4h0M254.6 125.4h0M254.8 125.6h0M254.6 122.4h0M255.6 119.8h0M255.2 117.5h0M256.7 123.7h0M257.3 119.1h0M257.8 126.8h0M258.2 126.7h0M258.2 122.3h0M258.9 114.7h0M258.8 125.6h0M259.2 121.7h0M259.2 127.7h0M259.6 126.7h0M259.7 125.8h0M259.7 129h0M260.2 124.4h0M260.2 118.5h0M260.6 122.2h0M260.6 125.4h0M260.9 122.9h0M261.6 120.1h0M262 127.4h0M261.9 112.5h0M261.8 126.7h0M262.6 126.7h0M263 127.5h0M263 127h0M262.8 126.1h0M262.6 126h0M263.3 125.1h0M263.5 117.4h0M263.3 124.4h0M263.3 125.2h0M263.9 120.4h0M264.1 117.1h0M264.3 120.2h0M264.5 126.3h0M264.3 124.5h0M265.2 122.1h0M265.4 121.6h0M265.5 122h0M265.1 123.5h0M265.1 125.9h0M265.7 110.1h0M266 111.1h0M266.3 123.3h0M266.6 119.1h0M266.7 124.6h0M266.9 121.7h0M267 124h0M267.1 125h0M268.1 124.1h0M268 123.7h0M268.4 125.2h0M268.5 119.8h0M268.4 125.9h0M268.6 121.4h0M269 123.6h0M269 111.7h0M269.7 124.9h0M270.7 115.9h0M271 120.7h0M271 123.1h0M270.8 121h0M270.7 125.3h0M271.4 123h0M271.4 125.5h0M271.4 124.8h0M271.1 124.2h0M271.8 117.4h0M271.8 125.3h0M271.9 119.1h0M272 117.5h0M272.8 121h0M273.4 117h0M273.8 120.8h0M274.4 121.5h0M274.4 123.5h0M274.8 122.3h0M274.7 122.4h0M275.2 120.8h0M275.3 121.6h0M275.6 121.2h0M276.2 121.2h0M276.7 106.2h0M276.9 118h0M276.7 113.7h0M277.1 119.7h0M278.3 118.4h0M278.5 103.8h0M278.3 114.3h0M278.6 117h0M279 119.9h0M279.5 120.8h0M279.5 120.5h0M279.3 120h0M279.8 110.2h0M279.8 102.6h0M279.7 118.9h0M279.8 119.2h0M279.9 118.6h0M280.4 106.7h0M280.3 116.4h0M280.3 112.5h0M280.6 114h0M281 120.1h0M281 118.9h0M280.7 121.5h0M281.1 121h0M281.9 117.9h0M282 117.9h0M281.7 105.8h0M283.1 123.8h0M283.3 120.6h0M283.4 118.3h0M283.3 122.7h0M283.7 121.9h0M283.7 121.4h0M283.8 123.4h0M284.4 124h0M285 125.5h0M284.7 122h0M284.9 123.8h0M285.6 126h0M285.1 113.2h0M285.9 117h0M287.3 122h0M287.1 127.5h0M287.4 127h0M288 122.8h0M288.6 127h0M288.1 124.2h0M288.1 118h0M288.7 118.9h0M288.8 119.2h0M288.7 127.8h0M289.9 127.3h0M290.1 129h0M290.6 125.6h0M290.3 123.7h0M290.7 125.5h0M291.5 127.7h0M291.4 114h0M291.6 127h0M291.1 128.4h0M292 127.5h0M291.7 126.7h0M292.4 127.7h0M292.3 125.5h0M293.1 127.9h0M292.9 128.5h0M293 128.4h0M293.2 125.8h0M293.3 129.2h0M293.3 120.2h0M293.1 129.1h0M293.4 120.6h0M293.9 124.8h0M294.2 119.6h0M294.7 123.3h0M295.4 124.6h0M295.8 128.9h0M295.8 129.1h0M296.3 128.4h0M296.7 126.8h0M296.8 124.2h0M297.2 122h0M297.4 125.8h0M297.4 123.2h0M298.5 127h0M299.6 123.9h0M299.3 126.3h0M299.9 120.6h0M300 119.5h0M299.6 122.2h0M300.4 122h0M301.3 108.5h0M301.4 120.3h0M301.6 107.8h0M301.8 120.4h0M302.4 121.6h0M303.1 120.3h0M303.2 115.2h0M303.5 122.6h0M303.6 122.2h0M304.1 119.1h0M304.8 123.5h0M304.6 120.7h0M305.1 122.8h0M305.4 119.4h0M305.4 118.2h0M305.4 123h0M306.5 115.4h0M306.5 120.6h0M306.6 116.7h0M306.9 115.1h0M307.6 114.8h0M307.4 122.6h0M307.2 120.9h0M308 117.7h0M308 119.5h0M307.6 119.2h0M308.1 112.9h0M308.4 118.8h0M308.2 106.2h0M308.3 114.9h0M308.9 118.1h0M309.6 115.7h0M309.3 120.4h0M310 123.6h0M309.9 120.9h0M309.9 121.7h0M309.8 123.9h0M310.7 113.6h0M310.8 121.5h0M310.9 122.2h0M310.8 117.5h0M311.1 108.9h0M311.6 122.8h0M311.2 123.7h0M311.1 124.8h0M311.3 118.1h0M311.5 124.4h0M311.6 112.7h0M312.3 125.7h0M312.6 118.9h0M312.7 122.8h0M312.7 125.8h0M313.2 113.8h0M314.1 124.6h0M313.7 116.5h0M313.7 125.3h0M313.9 118.4h0M314.3 120.7h0M314.2 125h0M314.6 117h0M314.7 123.7h0M314.6 125.8h0M315.2 124.2h0M315.1 126.6h0M315.7 123.9h0M315.8 124.9h0M316.4 125.1h0M316.5 119.6h0M316.2 123.8h0M316.9 120.6h0M316.9 113.2h0M317 124.4h0M316.6 115.8h0M317.1 125.7h0M317.4 124.4h0M317.8 114h0M317.7 124.1h0M318.2 119.6h0M319.2 122.6h0M319.3 113.9h0M319.2 126.6h0M319.7 126h0M319.8 121.8h0M321.2 124.2h0M321.3 126.3h0M321.4 126.6h0M322.5 124.9h0M322.3 125.9h0M322.8 120h0M322.7 122.7h0M323.3 121.4h0M323.9 115.6h0M323.6 120.9h0M323.8 118.4h0M324.3 125.5h0M324.6 124.5h0M324.3 119.4h0M325.2 120.2h0M325.4 114.7h0M325.3 118.9h0M326 120.2h0M326.5 118.3h0M326.7 119.4h0M327.4 104.1h0M327.7 125h0M328.1 123.7h0M327.9 119.5h0M328.8 119.2h0M329.3 119.4h0M330.3 117.8h0M331.3 118h0M331.1 118.2h0M331.3 121.2h0M332 117.3h0M332.3 115.9h0M332.9 121.6h0M332.8 119.1h0M333 121.9h0M333.3 118.8h0M333.2 122.6h0M333.6 116.2h0M334.4 120.3h0M334.5 119.7h0M335 117.4h0M335.1 120.5h0M335.4 119.2h0M335.7 119.5h0M336.2 118.2h0M338.3 121.7h0M339.5 120.7h0M339.2 122.1h0M340 122.8h0M340 120h0M340.2 122.5h0M340.4 99.6h0M340.2 124h0M340.6 124.1h0M340.6 115.6h0M341.1 122.9h0M254.6 117.2h0M255.5 112.8h0M254.8 118.3h0M255.4 114.6h0M254.8 111.2h0M255 113.8h0M324.3 122h0M323.6 120.8h0M323.4 121.9h0M323.8 123h0M265.3 118.8h0M265 116.8h0M264.7 122.2h0M265.1 110.5h0M259.1 119.5h0M259.5 120.2h0M260.1 122.8h0M258.9 122.9h0M259.8 121.9h0M259.2 121.5h0M336.5 106.4h0M335.5 101.1h0M335.4 117.6h0M335.3 114.2h0M336.4 108.2h0M336 109.3h0M335.5 118.4h0M335.2 97.2h0M336.5 104.8h0M323.5 108h0M323.7 108.5h0M323.7 119.9h0M323.3 114h0M323.6 116.6h0M254.5 116.6h0M255.2 113.6h0M254.9 116.9h0M254.3 117.1h0M333.4 116.1h0M333.4 117.2h0M333.3 114.5h0M268.2 120.1h0M268.3 123.1h0M268.1 119.8h0M269.1 119h0M270.1 103.8h0M270.7 99.8h0M270.3 100.2h0M271.1 110.5h0M270.4 116h0M312.5 115.1h0M312.2 96.9h0M312.5 103.9h0M312.3 103.7h0M313.4 104.3h0M328 112.2h0M328.9 109.1h0M328.9 113.6h0M328.5 114h0M328.8 116.8h0M328.7 112.1h0M255.6 113.3h0M254.9 109.6h0M256.2 114.9h0M255.2 111.6h0M256.2 111.7h0M256 115.7h0M264.4 114.3h0M264.6 103.6h0M264.3 99.6h0M264.6 106.8h0M264.4 120.5h0M263.5 102.2h0M323.8 113.7h0M324.5 118.9h0M324.4 121.5h0M324.3 114.3h0M324.8 119.3h0M324.7 113.8h0" stroke="#1e2d5e" stroke-width="2.8" stroke-linecap="round"/>
<path d="M340.2 147.6 340.2 124.9 341.4 124.9 342.4 124.9 343.4 125.6 344.4 125.6 345.4 125.6 346.4 125.6 347.4 126 348.4 126.4 349.4 126.8 350.4 127.3 351.4 127.3 352.4 127.7 353.4 127.7 354.4 127.7 355.4 127.7 356.4 127.7 357.4 128.1 358.4 128.5 359.4 128.9 360.4 129.4 361.4 129.4 362.4 129.8 363.4 129.8 364.4 129.8 365.4 129.8 366.4 129.7 367.4 129.5 368.4 129.5 369.4 129.4 370.4 129.3 371.4 129.1 372.4 129.1 373.4 129.1 374.4 129.1 375.4 129.1 376.4 129.1 377.4 130.4 378.4 131.6 379.4 131.6 380.4 132.9 381.4 134.1 382.4 135.3 383.4 135.3 384.4 135.3 385.4 135.3 386.4 134.4 387.4 133.4 388.4 132.4 389.4 131.4 390.4 131.4 391.4 130.5 392.4 130.5 393.4 130.5 394.4 130.5 395.4 129.3 396.4 128.2 397.4 128.2 398.4 127.1 399.4 126 400.4 124.9 401.4 124.9 402.4 124.9 403.4 124.9 404.4 124.9 405.4 126 406.4 127.1 407.4 128.2 408.3 128.2 409.5 128.2 409.5 147.6Z" fill="#c58216"/>
<path d="M341.4 115.7h0M341.8 124.3h0M341.6 115.1h0M342.2 118.5h0M342 123.6h0M341.9 121.5h0M342.7 120.5h0M343.1 123.5h0M344.8 124.1h0M344.6 120.9h0M344.6 122.9h0M345.1 125.3h0M345.2 119.8h0M345.6 124h0M345.8 121.8h0M346.1 120.5h0M346.2 120.7h0M346.8 117.9h0M347.3 125.2h0M347.6 116.3h0M347.7 124.7h0M348.1 123.4h0M348.2 121.8h0M348.4 126.3h0M348.6 115.6h0M348.5 124.7h0M348.6 120.2h0M348.8 121.1h0M350.3 125.6h0M349.9 122.5h0M350.3 126.6h0M351.1 125.9h0M351.2 118.9h0M352.6 122.1h0M353.8 124.6h0M354.6 125.1h0M355.3 126.5h0M355.2 120.3h0M355.1 115.1h0M355.3 125.9h0M356.4 118.9h0M356.9 127.6h0M357 126.9h0M357.1 124.7h0M357.1 124.7h0M358.1 126.1h0M358.6 123.9h0M359.1 110.1h0M359.6 128.8h0M360.1 126.8h0M360.3 126.3h0M361.8 126.4h0M362.4 119.9h0M362.7 128.8h0M362.4 128.2h0M363.2 128.7h0M363.1 128h0M363.4 129.7h0M363.1 128.4h0M363.6 121.2h0M363.5 119.2h0M364.4 123.1h0M364 129.5h0M364.3 127.3h0M365.2 125.9h0M365.2 127h0M365.7 122.6h0M365.5 123.7h0M366.3 127.4h0M366.1 127.5h0M366.7 128.4h0M366.8 118.7h0M366.6 128.3h0M367.3 123.8h0M367.3 122.9h0M367.2 127.6h0M367 125.3h0M367.5 123.4h0M367.5 127.5h0M367.8 127.4h0M368.3 128.9h0M367.9 124h0M368 124h0M368.1 121.4h0M368.8 126.7h0M369.8 129.1h0M369.9 117.7h0M369.5 128.4h0M369.8 125.4h0M369.7 126.7h0M370.4 120.4h0M370.7 120.1h0M371.4 118.4h0M371.7 129.1h0M371.7 128.2h0M372.6 125h0M372.9 126.2h0M373.6 122.2h0M373.9 128.9h0M373.8 128.8h0M374.2 127h0M374.4 129h0M374.9 128.3h0M374.8 109.4h0M374.9 99.9h0M375.3 129h0M375.1 124.8h0M376.2 124.8h0M376.3 123.3h0M376.8 126.2h0M377.2 125h0M377.6 123.5h0M377.8 128.8h0M378 124.7h0M378.9 131.2h0M378.8 123.6h0M379.3 129.5h0M378.9 130.8h0M378.9 127.7h0M379.9 132.1h0M380 132.6h0M380.3 130.6h0M380.1 132.6h0M380.4 132.6h0M381 127.3h0M382.4 132.8h0M381.9 126.7h0M382.7 129h0M382.9 134.4h0M382.8 133.3h0M382.9 135.2h0M383.8 125.3h0M383.5 112.8h0M384.1 111.4h0M384.2 127.6h0M384.2 132.3h0M384.6 133.2h0M385.4 129.5h0M385 134.8h0M385.5 132.5h0M385.9 127h0M386.2 130.1h0M386.5 130.3h0M386.6 132.5h0M386.6 130.4h0M387 132.1h0M387 132.5h0M387.1 130.6h0M387.7 132.7h0M387.5 126.9h0M387.9 132.5h0M388 127.6h0M388.2 117.3h0M388.2 131.5h0M388.2 132.1h0M388 130.1h0M388.1 131.9h0M388.7 132.3h0M389.8 130.4h0M389.9 127.3h0M390 130.1h0M390.2 130.4h0M390 126.8h0M390.6 130.2h0M391.1 129.4h0M391.1 127.9h0M391.2 129.6h0M391 129.3h0M391.4 124.1h0M392.5 126.8h0M392.5 130.3h0M392.8 128.9h0M393.2 130.4h0M392.9 128.9h0M393 127h0M393.1 129.2h0M393.6 121.5h0M393.4 130h0M393.7 122.9h0M394.3 128.2h0M394.5 128.5h0M394.4 126.2h0M394.6 125.1h0M395.6 120.8h0M395.7 128.5h0M395.8 125.7h0M395.8 128.4h0M396.1 126.2h0M396.6 125.1h0M396.6 125.1h0M397.4 126.9h0M397.1 126.6h0M397.3 122.3h0M397.1 128.2h0M397.1 111.8h0M397.9 121.9h0M397.4 126.6h0M398.3 125.8h0M398 124.9h0M398.2 124.8h0M398.8 122.6h0M399 123.2h0M399.2 125.6h0M399.6 123.2h0M399.7 126h0M400.2 123.4h0M400 121h0M399.9 122.4h0M400.9 124.4h0M400.5 115h0M401.4 123.5h0M401.5 124.3h0M402.1 118.8h0M402.3 121.6h0M402.5 122.2h0M402.6 120.6h0M402.9 124.2h0M403 123.5h0M403.4 123h0M403.8 113.8h0M403.4 122.8h0M404.7 102.8h0M404.7 117.5h0M404.6 120.4h0M404.6 122.6h0M404.9 120.6h0M405.6 125.1h0M405.8 121.4h0M406.2 123.4h0M406.2 124.6h0M406 126.7h0M405.9 120.3h0M406.8 126.3h0M406.8 125.7h0M407.4 127.1h0M407 116.7h0M407.9 125.6h0M407.4 128.2h0M407.7 122.8h0M404.4 115.2h0M404.2 119.3h0M404.5 112.8h0M404.2 118.8h0M404 115.6h0M404.5 115.3h0M403.8 121.7h0M403.8 114.7h0M346.4 104.6h0M346.5 119.1h0M346.8 115.5h0M346.7 107.9h0M345.5 120.4h0M394.2 127.2h0M395.5 123.7h0M394.4 124.7h0M394.3 121.8h0M384 131.1h0M384.4 125.4h0M384.2 127.2h0M383.9 128.3h0M383.5 118.7h0M384.6 126.8h0M383.2 121.9h0M383.5 128.3h0M384.4 126.7h0M388.1 109.5h0M388.3 107.6h0M388.3 125.9h0M388.3 115.4h0M387.5 126.4h0M388.1 102.1h0M387.7 116.9h0M381 116.1h0M381.1 110.7h0M380.5 122.3h0M380.4 111.5h0M399.8 119.5h0M399.6 118.7h0M399.6 117.9h0M399.8 122.6h0M351.9 124h0M350.6 121.1h0M351.8 123.8h0M381.3 126h0M381 123.6h0M381.9 123.3h0M352.1 121.5h0M352.7 120.3h0M352.6 121.4h0M352.8 124.3h0M352.4 122.8h0M353.3 124.8h0M380.1 121.2h0M381 125.4h0M381 125.5h0M380 121.4h0M380.4 126.3h0M381.2 122.5h0" stroke="#c58216" stroke-width="2.8" stroke-linecap="round"/>
<path d="M407.1 147.6 407.1 128.2 408.3 128.2 409.3 129.3 410.3 130.5 411.3 130.5 412.3 130.5 413.3 130.5 414.3 130 415.3 129.5 416.3 128.9 417.3 128.4 418.3 128.4 419.3 127.9 420.3 127.9 421.3 127.9 422.3 127.9 423.3 127.9 424.3 127.9 425.3 127.9 426.3 127.9 427.3 127.9 428.3 127.9 429.3 127.9 430.3 127.9 431.3 127.5 432.3 127.1 433.3 126.6 434.3 126.2 435.3 126.2 436.3 125.7 437.3 125.7 438.3 125.7 439.3 125.7 440.3 125.7 441.3 125.7 442.3 125.7 443.3 125.7 444.3 126.4 445.3 126.4 446.3 127.1 447.3 127.8 448.3 128.4 449.3 129.1 450.3 129.1 451.3 129.1 452.3 129.1 453.3 129.1 454.3 129.1 455.3 128.4 456.3 128.4 457.3 127.8 458.3 127.1 458.4 127.1 459.6 127.1 459.6 147.6Z" fill="#1e2d5e"/>
<path d="M408.7 128.7h0M408.7 129.2h0M409.3 128.9h0M409.3 127.7h0M409.1 124.2h0M408.8 127.9h0M409.5 122.7h0M409.4 129.3h0M410.1 124h0M409.8 103.1h0M410.8 128.6h0M411.7 129.2h0M412.2 125.8h0M411.9 128.9h0M412.3 123.2h0M412.7 123.7h0M413 111.4h0M413.1 128.9h0M412.9 126.5h0M413.4 109.8h0M414.5 129.2h0M415.8 127.9h0M415.6 128.4h0M415.5 111.3h0M415.6 127.4h0M416.1 126.1h0M416.5 128.1h0M416.5 126h0M416.8 124.8h0M417.4 120.9h0M418.2 124.4h0M418.2 102.8h0M417.9 120.3h0M418.5 121.8h0M418.8 116h0M418.8 119.1h0M419.5 125.1h0M419.4 127.6h0M419.8 117.5h0M419.5 126h0M420.1 120.1h0M419.9 127.4h0M419.9 123.4h0M420.5 126.7h0M420.4 114.5h0M420.6 125.1h0M421.1 127.8h0M422 127.8h0M422 124h0M422 126.2h0M422.2 127.3h0M422.4 123.3h0M422.5 127.6h0M422.4 119.4h0M422.9 126.8h0M423 123.8h0M423.7 122.8h0M424.3 115.8h0M424.3 125.9h0M425 123h0M425.3 123.9h0M425.6 118.3h0M425.5 114.3h0M426.4 126.3h0M426.6 124.4h0M426.6 126.5h0M426.3 127.2h0M426.4 110.5h0M426.5 123.2h0M427.2 123.5h0M427.1 100.8h0M428.1 126.9h0M428.4 123.5h0M428.4 119h0M429.3 104.6h0M429.4 127.9h0M429.8 127.1h0M430.3 119.6h0M430.6 121.8h0M430.5 126.5h0M431.2 126h0M430.9 125.2h0M432 112.6h0M432.5 123.1h0M432.7 124h0M433.2 102.6h0M433.4 116.7h0M434 122.5h0M434.2 121.2h0M434.3 124.6h0M434.7 119.7h0M435.4 124.2h0M436 120.8h0M436.2 123.6h0M436.2 117.7h0M436.5 108.7h0M437.1 109.3h0M437 122.9h0M437.4 120.9h0M438.5 121.6h0M439.1 124.3h0M439.7 123h0M440.1 123.5h0M439.8 125.1h0M440.1 123.8h0M440 113.7h0M440.7 118h0M440.5 124.5h0M441.2 123.9h0M441.3 124.5h0M441.3 123.1h0M442.3 125h0M443 116.9h0M443.8 125.5h0M443.4 125h0M444 123.7h0M444.7 117.4h0M444.4 113.7h0M445.3 117.3h0M445 125.1h0M445.5 125.4h0M445.8 119.4h0M445.8 118.6h0M446.2 126.4h0M446.2 111.1h0M446.3 126.6h0M446.1 125.5h0M446.1 123.1h0M446.2 126.5h0M446.6 125.5h0M446.5 95.1h0M447.1 122.7h0M447.7 125.8h0M447.5 123.6h0M448.6 128.1h0M449.2 126.7h0M448.8 124.4h0M449.3 126.6h0M449.2 127.8h0M449.2 125.4h0M449 110.5h0M449.3 127.7h0M449.4 125.4h0M450.1 122.6h0M450 104.8h0M450 124.2h0M450.5 118.2h0M451.2 128.6h0M451.2 117.5h0M451.2 129.1h0M451.9 126.4h0M451.8 125.3h0M451.9 123.7h0M452.8 128.7h0M452.4 128.8h0M452.8 118.8h0M453.3 126.6h0M454 128.3h0M454.6 116.1h0M455 127.7h0M455 126.9h0M455.5 128h0M456.2 128.2h0M455.8 126.3h0M457.4 119.1h0M457.5 123.7h0M457.5 127.6h0M458.2 124.2h0M457.9 125.1h0M445.4 116.3h0M444.8 116.6h0M444.5 122.8h0M444 116.6h0M422.4 122.1h0M422.6 122.1h0M423.3 121.6h0M422.4 120.4h0M422.4 121h0M423.6 121.6h0M423.6 122.7h0M422.9 122.8h0M422.3 119.7h0M436.4 111.2h0M435.6 118.8h0M435.7 115.7h0M435.4 115h0M435.9 113.6h0M435.5 121.6h0M436.6 111.3h0M435.9 111.8h0M457.2 118.4h0M457 125h0M458.1 123.9h0M457.6 120.2h0M457.8 123.6h0M457 123.4h0M457.8 120.2h0M458.1 119.1h0M414.4 121.8h0M415.5 119.4h0M415.2 119.7h0M415.7 119.1h0M449.1 116.7h0M449.8 109.5h0M449.5 106.2h0M450.4 115.1h0M456.5 107.4h0M456.1 111.8h0M457.6 110.9h0M456.3 113.5h0M456.1 112.5h0M456.2 114.2h0M457.3 115h0M457.4 110h0M456.7 114.3h0M410.5 117.2h0M410.4 116.3h0M410.4 123.3h0M410.5 116.9h0M411.2 110.4h0M411.1 109.8h0" stroke="#1e2d5e" stroke-width="2.8" stroke-linecap="round"/>
<path d="M457.2 147.6 457.2 127.1 458.4 127.1 459.4 126.4 460.4 125.7 461.4 125.7 462.4 125.7 463.4 125.7 464.4 126.4 465.4 127.1 466.4 127.8 467.4 128.4 468.4 128.4 469.4 129.1 470.4 129.1 471.4 129.1 472.4 129.1 473.4 129.1 474.4 129.1 475.4 128.4 476.4 127.8 477.4 127.1 478.4 126.4 479.4 126.4 480.4 125.7 481.4 125.7 482.4 125.7 483.4 125.7 484.4 125.7 485.4 125.7 486.4 125.4 487.4 125.1 488.4 124.8 489.4 124.5 490.4 124.5 491.4 124.3 492.4 124.3 493.4 124.3 494.4 124.3 495.4 124.3 496.4 125.1 497.4 126 498.4 126.9 499.4 127.7 500.6 127.7 500.6 147.6Z" fill="#c58216"/>
<path d="M458.9 124.6h0M459.3 121.6h0M459.6 123.1h0M459.5 120.1h0M461 122.6h0M461.3 125.3h0M461.5 124.6h0M462.2 120.3h0M461.9 117h0M462 120h0M462.3 117.9h0M462.8 125h0M463 123.5h0M463.3 125.1h0M463.1 105.2h0M463.2 125h0M463.2 123.7h0M463.8 121.7h0M463.7 121.5h0M463.5 123.2h0M464 119.1h0M464.7 119.3h0M465.2 124h0M465.2 125.3h0M465.2 125.1h0M465.8 125.8h0M465.9 126.8h0M466.2 104.6h0M466.3 125.8h0M466.2 126.6h0M466.8 125.5h0M466.6 127.6h0M466.6 123.9h0M467.7 121.4h0M468.4 107.9h0M468.6 123.2h0M468.7 120.4h0M468.8 126.8h0M469.3 126.7h0M469.1 126.6h0M469 121.8h0M469.6 127.2h0M469.5 128.3h0M470.2 125.8h0M470 128.5h0M470.1 125.8h0M470.8 128.9h0M470.4 129.1h0M471.8 125.1h0M471.4 118.8h0M472.8 127.4h0M473 126.2h0M473 126.2h0M473 128.3h0M473.7 119.5h0M474.3 127h0M474.4 121.5h0M474.4 119.3h0M474.5 124.9h0M475.4 126.2h0M475.2 125.2h0M475.5 119.4h0M475.7 121.7h0M475.6 128.2h0M476.2 119.4h0M476.1 126.3h0M476.1 123.6h0M476.1 107.7h0M476.6 122.3h0M477.1 125.6h0M477.5 121.6h0M477.8 124.1h0M478.4 114.6h0M478.9 124.7h0M479 115.6h0M479 125.3h0M479.5 110.3h0M479.6 123.6h0M479.7 123.4h0M480.3 125h0M480 123.3h0M480 123.3h0M480.7 118.9h0M480.6 121.1h0M480.7 122.3h0M481.1 124h0M481.2 122.2h0M480.9 121.7h0M481.4 122.7h0M481.4 125.1h0M481.5 115h0M481.8 124.1h0M482.1 116.3h0M482.5 117.9h0M482.7 122.6h0M483 118.8h0M483.4 123.7h0M483.4 113.4h0M483.3 119.4h0M483.6 122.6h0M483.5 118.1h0M483.7 105.1h0M484.3 120.7h0M484 125h0M484 124.2h0M484.6 121.8h0M485.3 116.2h0M485.8 124.9h0M485.9 125.1h0M486.2 121h0M485.9 123.8h0M486.7 117.8h0M486.6 122.7h0M487.1 125h0M487.2 121.5h0M487.6 123.8h0M488.1 114.9h0M488 117.7h0M488.9 123h0M489 120.8h0M489.6 123.4h0M489.6 115.6h0M489.4 117.1h0M490.1 122h0M490 111.8h0M490.1 123h0M490.2 123.6h0M489.9 120.8h0M490.4 105.6h0M490.7 119.5h0M490.6 122.5h0M490.6 118h0M490.4 121.7h0M491.4 120h0M491.4 123.1h0M491.7 119h0M491.7 123.7h0M491.7 114.1h0M492 117.4h0M491.9 121.6h0M492.2 123.5h0M492.6 120.4h0M493.7 106h0M494.1 120.8h0M494.8 113.6h0M494.5 122.2h0M494.8 117.3h0M494.4 122.4h0M495.3 119.2h0M494.9 118.4h0M495.5 106.6h0M495.4 125h0M495.8 123.4h0M496.4 125h0M496.8 123.4h0M497.3 124.2h0M497 125.8h0M497.1 125.5h0M498.2 119.7h0M498 120.7h0M498.2 125.6h0M498.3 115.3h0M498.5 123.8h0M498.4 120.5h0M498.4 114.9h0M499.1 124.3h0M499.1 116.2h0M499.2 124.7h0M483.4 120.5h0M483.8 116.8h0M484 118.1h0M483.8 115.4h0M482.9 119.3h0M482.7 117.5h0M482.6 120.8h0M483.1 117.3h0M495.9 112.8h0M495.6 119.9h0M495.9 103.8h0M496.9 121.8h0M496.6 112h0M496.9 110.7h0M462.4 122.3h0M462 118h0M461 121.2h0M462.2 121.1h0M462.4 112.6h0M461 116.1h0M461.7 113.9h0M489.9 117.6h0M490.4 119.3h0M491.2 115.7h0M490.9 120.1h0M489.8 118.6h0M490 107.9h0M482.2 116.6h0M482.6 112.6h0M483.3 113.6h0M482.7 120.9h0M483.5 116.6h0M483.9 122.7h0M483.3 122h0M483.9 118.6h0M484 120.6h0M484.2 119.9h0M484.4 122.2h0M476.2 120h0M476.4 118.5h0M476.1 121.3h0M477.5 121.1h0M476.3 122.9h0" stroke="#c58216" stroke-width="2.8" stroke-linecap="round"/>
<path d="M498.2 147.6 498.2 127.7 499.4 127.7 500.4 127.7 501.4 128.6 502.4 128.6 503.4 128.6 504.4 128.6 505.4 128.6 506.4 128.6 507.4 128.6 508.4 128.6 509.4 128.6 510.4 128.6 511.4 128.6 512.4 128.6 513.4 128.6 514.4 128.6 515.4 128.6 516.4 128.6 517.4 128.6 518.4 128.6 519.4 128.6 520.4 128.6 521.4 128.6 522.4 128.6 523.4 127.9 524.4 127.3 525.4 127.3 526.4 126.6 526.5 126.6 527.7 126.6 527.7 147.6Z" fill="#1e2d5e"/>
<path d="M499.5 124.9h0M499.8 125.7h0M500.2 125.7h0M500 125.4h0M500.4 125.5h0M500.9 126.7h0M501.1 124.5h0M502 125.7h0M502.6 127.6h0M502.5 124.4h0M502.8 119.9h0M502.8 125.8h0M503.2 126.5h0M503.4 126.1h0M503.2 122h0M503.2 127.3h0M503.2 119.6h0M503.9 126.5h0M503.7 125.8h0M504.1 128.1h0M504.3 127h0M504.8 120.2h0M505.2 127.3h0M504.9 128.3h0M505.6 123.7h0M505.9 127.7h0M506.5 118.6h0M506.5 124.1h0M506.8 126.4h0M506.9 124.8h0M507.3 127.8h0M507.1 124.3h0M507.9 126.1h0M508.7 126.3h0M509.4 119h0M509.9 121.5h0M510.8 124.6h0M510.9 126.7h0M510.6 120.7h0M510.5 125.3h0M511 120.3h0M511.3 117.1h0M511.7 120.4h0M512.9 126.9h0M513.1 126.9h0M513.6 127.9h0M513.9 127.3h0M514 123.1h0M514.2 122.1h0M515.2 127.6h0M515.7 122h0M516.1 122.4h0M516 122.6h0M516.1 122.4h0M516.5 123.9h0M517.4 128.5h0M516.9 122.7h0M517.3 125.7h0M517.9 119.6h0M517.7 127.4h0M517.5 128.2h0M517.6 126.1h0M518.1 121.6h0M518.1 116.4h0M518.3 128.4h0M518.5 127.6h0M519.8 126.3h0M519.5 128.6h0M520 126.2h0M520.6 128.4h0M520.7 127.3h0M521.4 127.6h0M522.3 128h0M522.1 124.2h0M522.6 127.2h0M523.1 123h0M523.4 127.9h0M523.3 127.8h0M523.5 125.1h0M524.1 124.4h0M524.1 126.1h0M525.4 126.2h0M525.6 125.3h0M525.5 123.3h0M526.1 125.3h0M526.4 117.5h0M516.6 119h0M515.5 121.7h0M515.5 118.3h0M502.6 119.9h0M502.8 121.4h0M501.8 120h0M502.9 122.6h0M502.4 119.6h0M501.9 121.1h0M501.9 124.7h0M506.3 115.3h0M505.2 125.9h0M505.4 123h0M505.6 112.1h0M505.1 113.4h0M506.1 118.8h0M506 119.7h0M516.4 118.4h0M515.3 118.2h0M515.8 110.5h0" stroke="#1e2d5e" stroke-width="2.8" stroke-linecap="round"/>
<path d="M525.3 147.6 525.3 126.6 526.5 126.6 527.5 126 528.5 125.3 529.5 125.3 530.5 125.3 531.5 125.3 532.5 125.3 533.5 125.3 534.5 125.3 535.5 125.3 536.5 125.3 537.5 125.3 538.5 125.3 539.5 125.4 540.5 125.5 541.5 125.5 542.5 125.5 543.7 125.5 543.7 147.6Z" fill="#c58216"/>
<path d="M526.6 121h0M526.6 116.2h0M526.9 125.9h0M527.3 109.8h0M527.1 113.6h0M527.6 111.3h0M528 124.6h0M528.5 122.8h0M528.2 124.6h0M528.8 125h0M528.9 120.7h0M529 122.4h0M528.9 119.3h0M529 105.2h0M528.5 124.7h0M528.6 120.5h0M529.4 121.7h0M529.4 125.3h0M529.4 124.1h0M529.4 123.8h0M529.9 123.3h0M530.1 118.1h0M530.9 119.2h0M530.9 116.8h0M531.2 124.4h0M531.4 111.8h0M531.5 123.5h0M531.7 124.3h0M531.6 112h0M532.2 119.7h0M532.1 124.7h0M532.7 121h0M532.8 123h0M532.9 122.7h0M533.5 117.9h0M534 122.6h0M533.8 123.5h0M533.8 118.4h0M533.9 123.8h0M534.2 125.2h0M534.5 119.7h0M534.7 122.1h0M534.6 122.8h0M534.8 123.1h0M535 123.2h0M535.3 119.8h0M535.9 116.6h0M535.8 119.8h0M535.8 124.7h0M535.7 110.1h0M536.2 125.1h0M536.3 124.2h0M537 121.8h0M536.8 124.5h0M537.4 120.7h0M537.9 124.9h0M537.8 124.7h0M537.7 124.1h0M537.8 122.6h0M538 123.7h0M538.3 120.2h0M538.1 118.4h0M538.8 123.5h0M539.4 119.1h0M539 124.9h0M539.6 121.1h0M539.8 122.9h0M540.3 122.4h0M540.2 111.1h0M540.5 119.7h0M540.2 122.6h0M540.7 123.6h0M541.3 122.2h0M541.8 114.6h0M541.7 125.3h0M542.2 125.5h0M530.3 118.4h0M530.6 117.7h0M530.7 120.1h0M530.8 117h0M530.6 115.9h0M531.4 119.8h0M527.9 118.5h0M528.1 115.6h0M528.6 117.6h0M528.3 120.8h0M528.5 120.8h0M538.1 118.7h0M538 108.8h0M538.2 104.9h0M537.5 105.9h0M538.5 113.1h0M538.2 106.4h0M538.6 106.1h0M538.5 112.7h0M537.6 111h0" stroke="#c58216" stroke-width="2.8" stroke-linecap="round"/>
<path d="M541.3 147.6 541.3 125.5 542.5 125.5 543.5 125.6 544.5 125.7 545.5 125.7 546.5 125.7 547.5 125.7 548.5 125.7 549.5 125.7 550.5 125.7 551.5 125.7 552.5 125.7 553.5 125.7 554.5 125.7 555.5 126.4 556.5 126.4 557.5 127.1 558.5 127.8 558.6 127.8 559.8 127.8 559.8 147.6Z" fill="#1e2d5e"/>
<path d="M542.7 112.6h0M542.7 122.9h0M542.9 122.3h0M543.2 119.2h0M543.5 124.6h0M543.8 105.7h0M544.5 121h0M544.9 117.5h0M545.3 122.5h0M545.5 121h0M545.3 124.2h0M545.7 108.9h0M546.1 124h0M546.9 122.8h0M546.7 123h0M547.3 124.7h0M547.5 120.9h0M547.3 115.1h0M547.1 123.7h0M547.8 123.3h0M547.8 125.5h0M547.7 121.7h0M548.2 115.4h0M549.1 121.1h0M550 120.9h0M551.3 121.6h0M551.3 123.2h0M551.7 125.2h0M551.7 125.4h0M552.3 123.7h0M552.2 120.3h0M552.4 123.8h0M552.6 125.4h0M552.6 124.8h0M552.8 123.9h0M553.5 123.2h0M554.4 125.2h0M555.1 123.4h0M555.1 123.9h0M555.7 123.9h0M555.9 122.4h0M556.1 123.2h0M556.8 127h0M556.7 124.7h0M556.6 121h0M557.3 122.3h0M557.1 126.1h0M557 117.1h0M557.2 103.7h0M557.9 117.6h0M557.8 121.5h0M558.4 125.5h0M558.6 123.5h0M549.8 111.9h0M549.6 111.4h0M548.9 109.9h0M549.4 106.8h0M549 102.2h0M548.6 104.7h0M547.9 104h0M553.6 107.8h0M553.7 111.4h0M552.7 111.7h0M553.7 111.1h0M553.2 117.7h0" stroke="#1e2d5e" stroke-width="2.8" stroke-linecap="round"/>
<path d="M557.4 147.6 557.4 127.8 558.6 127.8 559.6 128.4 560.6 129.1 561.6 129.1 562.6 129.1 563.6 129.1 564.6 129.1 565.6 129.1 566.6 129.1 567.6 129.1 568.6 128.4 569.6 128.4 570.6 127.8 571.6 127.1 572.2 127.1 573.4 127.1 573.4 147.6Z" fill="#c58216"/>
<path d="M558.8 123.6h0M559.5 123.5h0M559.4 127.1h0M559.6 127.5h0M560.1 124.8h0M560.4 124.2h0M560.7 128.4h0M561.1 119.3h0M561.6 128.6h0M561.4 128.5h0M562.1 125h0M562.9 122.3h0M563.5 124.4h0M563.8 123.5h0M563.6 127.5h0M564.3 124.2h0M565 126.5h0M565 126.4h0M565 128.9h0M565.1 126.7h0M565.4 126.8h0M565.2 128.5h0M565.3 126.6h0M565.6 128.6h0M565.6 124.7h0M565.8 125.1h0M567.3 125.1h0M567.6 127.4h0M567.6 125.1h0M567.9 128.3h0M567.6 128h0M567.8 122.2h0M568.4 128.6h0M570.8 126.8h0M571.3 114.3h0M571.3 124.8h0M572 125.7h0M572 126.9h0M560.5 122.6h0M560.7 120.8h0M561.9 123.7h0M561.8 124.3h0M561.7 123.7h0M561.3 122.9h0M561.6 121.1h0M561.5 124.2h0M560.7 124.5h0M561 124.9h0M560.6 124.3h0M560.8 119.3h0M560.1 122h0M560.2 123.6h0M560.3 121.3h0M560.3 124.3h0" stroke="#c58216" stroke-width="2.8" stroke-linecap="round"/>
<path d="M571 147.6 571 127.1 572.2 127.1 573.2 126.4 574.2 125.7 575.2 125.7 576.2 125.7 577.2 125.7 578.2 125.7 579.2 125.9 580.2 125.9 581.2 126.1 582.2 126.3 582.7 126.3 583.9 126.3 583.9 147.6Z" fill="#1e2d5e"/>
<path d="M572.5 121.2h0M572.3 118.3h0M572.7 113.1h0M572.7 123.9h0M573.5 105.1h0M573.7 119.7h0M574 111.4h0M574.6 124.6h0M574.6 125.4h0M575.3 119.4h0M576 119.5h0M576.4 123.4h0M576.5 124.4h0M576.4 125.7h0M576.8 123.9h0M577.4 125.1h0M577.3 124h0M577.5 116h0M577.3 125.1h0M578.5 122.8h0M579.5 118.9h0M579.8 120.7h0M580 123.8h0M580.2 120h0M579.8 124.4h0M580.3 111.3h0M580.3 117.3h0M580.3 125.9h0M580.9 115.4h0M580.9 126.1h0M581.4 118.8h0M581.8 124.9h0M582.2 125.6h0M582.2 125.2h0M580.5 114.3h0M581.3 120.6h0M581.3 114.3h0M580.2 122.8h0M574.7 120.4h0M573.7 113.8h0M574.2 111.7h0M574.9 116.9h0M574.7 115.1h0M574.6 121.4h0M575 119.9h0M574.7 112.9h0M575.2 114.1h0" stroke="#1e2d5e" stroke-width="2.8" stroke-linecap="round"/>
<path d="M581.5 147.6 581.5 126.3 582.7 126.3 583.7 126.4 584.7 126.6 585.7 126.6 586.7 126.6 587.7 126.6 588.7 125.9 589.7 125.2 590.7 124.4 591.5 124.4 592.7 124.4 592.7 147.6Z" fill="#c58216"/>
<path d="M582.7 115.4h0M582.9 126.4h0M582.8 103.8h0M583.7 125.9h0M584 122h0M583.8 125.5h0M584.7 125.4h0M584.6 124.3h0M584.3 118.6h0M585.3 124.1h0M585.7 124.5h0M586 116.7h0M587.2 124.9h0M587.1 122.6h0M587.6 125.9h0M587.7 124.2h0M587.9 122.9h0M587.9 123.9h0M588.6 118.6h0M589.2 116.9h0M588.7 110.9h0M589.3 124.4h0M589.4 122h0M590.3 122.7h0M590.9 123.9h0M591.4 106.9h0M585.3 116.8h0M584.5 116.8h0M584.9 120.1h0M585.1 118.5h0M584.6 122.1h0M584.5 122.7h0M588.6 117.4h0M588 112h0M588 107.5h0M587.7 115.2h0M589.1 116.5h0M588.8 112.3h0M588 112.1h0" stroke="#c58216" stroke-width="2.8" stroke-linecap="round"/>
<path d="M590.3 147.6 590.3 124.4 591.5 124.4 592.5 123.7 593.5 122.9 594.5 122.9 595.5 122.9 596.5 122.9 597.5 123.2 598.5 123.2 599.5 123.5 600.5 123.7 600.7 123.7 601.9 123.7 601.9 147.6Z" fill="#1e2d5e"/>
<path d="M591.7 108.9h0M591.8 119.5h0M592.2 115.2h0M592.4 122.5h0M592.4 116.9h0M592.2 121.2h0M593 120.3h0M592.7 120h0M592.8 122h0M592.8 121.1h0M593.8 122.8h0M593.6 116.4h0M593.9 119.3h0M593.9 122.7h0M595.5 122.1h0M595 121.3h0M595.5 121h0M595.1 118.8h0M595.6 112h0M596 119.9h0M595.9 117h0M596 111.7h0M596.1 117.3h0M597 122.6h0M596.5 121.2h0M596.6 115.1h0M597.9 120.8h0M597.7 112.9h0M598.2 116.7h0M599 120.7h0M598.8 122.8h0M599.2 121h0M599.3 123.4h0M599.1 121.2h0M599.6 119.9h0M600 113h0M600.2 121.6h0M600.6 122.7h0M597.6 118.4h0M598.2 120.3h0M598.3 103.1h0M598 106.3h0M598.1 105.3h0M597.4 104.3h0M598.2 109.4h0M598.1 117.7h0M600.5 115.6h0M600.1 114.3h0M599.9 116.2h0M600.1 117.1h0M600.4 117.7h0M599.8 116.5h0M600.3 116.6h0M600.4 115h0" stroke="#1e2d5e" stroke-width="2.8" stroke-linecap="round"/>
<path d="M599.5 147.6 599.5 123.7 600.7 123.7 601.7 124 602.7 124.3 603.7 124.3 604.7 124.3 605.7 124.3 606.7 125.2 607.7 126.2 608.7 127.2 609.7 127.2 609.8 127.2 611 127.2 611 147.6Z" fill="#c58216"/>
<path d="M600.7 111.6h0M601.4 122.9h0M602 115.8h0M601.8 113h0M602.5 123.8h0M602.5 124h0M602.8 122.5h0M603.1 119.5h0M603.1 114.4h0M603.5 116.1h0M603.7 122.8h0M604.6 117.2h0M604.5 122h0M604.4 121.6h0M604.3 124.2h0M605 115h0M605.2 122h0M606 118.1h0M606.7 124.7h0M606.8 122.3h0M606.7 121.3h0M607.9 124.8h0M608.2 123.9h0M608.2 123.7h0M608.7 123.4h0M608.6 123.2h0M608.9 126.7h0M609 124.9h0M608.8 119.9h0M609.6 118.1h0M602 112.6h0M600.9 113h0M602.3 111.1h0M601.5 117.9h0M602.4 109.5h0M602.2 110.9h0M602.3 118.1h0M601.2 110.9h0M608.3 110.8h0M609.5 120.3h0M608.8 120.2h0M609.5 112h0M608.9 116.8h0M609.8 113.1h0M608.8 113.9h0M608.5 119.1h0M609.4 114.1h0" stroke="#c58216" stroke-width="2.8" stroke-linecap="round"/>
<path d="M608.6 147.6 608.6 127.2 609.8 127.2 610.8 128.2 611.8 129.1 612.8 129.1 613.8 129.1 614.8 129.1 615.8 128.7 616.8 128.3 617.4 128.3 618.6 128.3 618.6 147.6Z" fill="#1e2d5e"/>
<path d="M610.1 125.9h0M610.7 126.5h0M611.3 124.6h0M610.8 118.5h0M611.9 119.7h0M611.9 123.2h0M612.3 129.1h0M612.6 126h0M612.6 115.2h0M613.8 128.1h0M614.1 126.3h0M614.2 125.2h0M614.3 129h0M614.7 126.3h0M615 129h0M615 125.3h0M615.8 125.5h0M615.8 128.4h0M615.4 127.3h0M616 127.3h0M615.9 125h0M616.7 127.5h0M616.6 124.7h0M617 118.2h0M617.3 112.9h0M614.1 114.4h0M613.9 112.7h0M614.4 118.4h0M614.2 125.5h0M615.4 112.7h0M615.4 119.9h0M613.9 115.3h0M614.2 116.8h0M615 120.8h0" stroke="#1e2d5e" stroke-width="2.8" stroke-linecap="round"/>
<path d="M616.2 147.6 616.2 128.3 617.4 128.3 618.4 127.9 619.4 127.6 620.4 127.2 621.4 127.2 622.4 127.2 623.4 126.9 624.4 126.6 624.7 126.6 625.9 126.6 625.9 147.6Z" fill="#c58216"/>
<path d="M617.6 121.4h0M619.1 122.1h0M620.4 121.5h0M620.5 126h0M620.6 119.8h0M620.5 124.9h0M621.3 114.7h0M621.6 120.5h0M621.6 125.9h0M622.3 125.4h0M622.5 125.8h0M622.7 122.3h0M623.7 123.4h0M623.8 125.4h0M623.9 121.5h0M624.4 124.7h0M624.6 126.5h0M624.1 113.7h0M624.1 117.2h0M624.6 118.8h0M624.8 121.2h0M623.9 118.5h0M623.7 115.8h0M623.3 115.8h0M623.4 113.5h0M624.6 113.5h0" stroke="#c58216" stroke-width="2.8" stroke-linecap="round"/>
<path d="M623.5 147.6 623.5 126.6 624.7 126.6 625.7 126.3 626.7 126 627.7 125.2 628.7 124.6 629.7 124 630.2 124 631.4 124 631.4 147.6Z" fill="#1e2d5e"/>
<path d="M625.1 115.4h0M624.9 120.3h0M625.8 125.8h0M625.7 121.1h0M626.7 122.1h0M627.4 118.6h0M627.2 123.3h0M628.3 118.5h0M628.7 124.5h0M628.3 122h0M628.7 119.5h0M629.1 114.7h0M628.7 116.3h0M629.3 122.9h0M629.6 123.9h0M629.3 119.2h0M629 113h0M628.5 111h0M629.3 115.3h0M629.8 109.8h0M628.7 109.9h0M629.1 114.8h0" stroke="#1e2d5e" stroke-width="2.8" stroke-linecap="round"/>
<path d="M629 147.6 629 124 630.2 124 631.2 123.5 631.3 123.5 632.5 123.5 632.5 147.6Z" fill="#c58216"/>
<path d="M630.4 123.8h0M630.9 123.3h0M631.1 115.9h0M631 121.4h0M631 120.8h0M631.2 119.1h0" stroke="#c58216" stroke-width="2.8" stroke-linecap="round"/>
<path d="M630.1 147.6 630.1 123.5 631.3 123.5 632.3 122.9 633.3 123.5 634.3 124 635.3 124.6 635.5 124.6 636.7 124.6 636.7 147.6Z" fill="#1e2d5e"/>
<path d="M632 116.7h0M632.4 115h0M632.9 119.9h0M633.8 113.6h0M633.6 120.2h0M635 119.7h0M634.9 124h0M635.4 121.9h0M633.5 113.9h0M632.9 109.3h0M633.2 114.8h0M633.3 115.9h0" stroke="#1e2d5e" stroke-width="2.8" stroke-linecap="round"/>
<path d="M634.3 147.6 634.3 124.6 635.5 124.6 636.5 125.2 637.5 125.4 638.5 125.4 639.5 125.1 640.5 124.8 640.7 124.8 641.9 124.8 641.9 147.6Z" fill="#c58216"/>
<path d="M635.6 120.4h0M635.7 123.9h0M635.6 123.8h0M636.3 120.8h0M636.4 124.3h0M636.3 117.7h0M636.8 107.9h0M637 112h0M636.9 119.1h0M637.4 121.9h0M638 123.3h0M637.6 120h0M637.7 118.2h0M638.5 122.7h0M638.2 124.3h0M638.8 122.1h0M638.8 117.5h0M638.6 121.6h0M639.2 116.2h0M640 113.9h0M639.6 124.4h0M639.7 117.3h0M640.4 117.4h0M640.4 124.8h0M639.6 118.4h0M639 118h0M640.3 117.1h0M639.4 121.8h0M639.3 116.7h0M640.3 120.8h0M640.6 115.9h0" stroke="#c58216" stroke-width="2.8" stroke-linecap="round"/>
<path d="M639.5 147.6 639.5 124.8 640.7 124.8 641.7 124.5 642.7 124.3 643.7 124.3 644.7 124.3 645.2 124.3 646.4 124.3 646.4 147.6Z" fill="#1e2d5e"/>
<path d="M640.9 112.6h0M641.3 122.1h0M641.3 115.1h0M642.7 121h0M642.5 119.4h0M642.7 119.8h0M642.2 122.9h0M643 120.6h0M643.1 119.6h0M643.4 121h0M643.3 123.1h0M643.5 112.4h0M643.8 123.2h0M644.1 115.9h0M644.4 121.4h0M644.5 115.2h0M644.8 120.2h0M645 120h0M644.7 114h0" stroke="#1e2d5e" stroke-width="2.8" stroke-linecap="round"/>
<path d="M644 147.6 644 124.3 645.2 124.3 646.2 124.3 647.2 124.3 648.2 124.3 649.2 124.5 650.2 124.5 651.2 124.8 651.4 124.8 652.6 124.8 652.6 147.6Z" fill="#c58216"/>
<path d="M645.4 122.8h0M645.5 96.5h0M645.3 118h0M645.9 120h0M645.9 107.8h0M645.9 122.3h0M646.6 118h0M646.6 117.1h0M647 124.2h0M647 120.6h0M647.1 122.9h0M647.6 123.3h0M647.2 120.8h0M648 119.6h0M648.2 123.6h0M648.7 123.6h0M648.5 117.6h0M648.6 117.8h0M649 122.9h0M649.8 120.3h0M649.8 117.1h0M650.9 115h0M644.9 114.3h0M646.2 112.1h0M644.8 111.9h0" stroke="#c58216" stroke-width="2.8" stroke-linecap="round"/>
<path d="M650.2 147.6 650.2 124.8 651.4 124.8 652.4 125.1 653.4 125.4 654.4 125.7 654.6 125.7 655.8 125.7 655.8 147.6Z" fill="#1e2d5e"/>
<path d="M651.8 115.2h0M652.1 123.4h0M652.3 121.8h0M652.1 119.9h0M652.7 121.7h0M652.5 122.8h0M652.9 125.4h0M653.5 121h0M653.9 124.5h0M653.5 123.4h0M653.8 118.1h0M653.6 121.5h0M654 122.2h0M654 119.5h0M654.6 122.5h0" stroke="#1e2d5e" stroke-width="2.8" stroke-linecap="round"/>
<path d="M653.4 147.6 653.4 125.7 654.6 125.7 655.6 125.7 656.6 125.7 656.7 125.7 657.9 125.7 657.9 147.6Z" fill="#c58216"/>
<path d="M655 124.7h0M654.7 124h0M654.7 124.8h0M654.7 119h0M655.4 122.9h0M656.1 117.2h0M656.4 124.2h0" stroke="#c58216" stroke-width="2.8" stroke-linecap="round"/>
<path d="M655.5 147.6 655.5 125.7 656.7 125.7 657.7 125.7 658.7 125.7 659 125.7 660.2 125.7 660.2 147.6Z" fill="#1e2d5e"/>
<path d="M656.8 121.8h0M657.6 124.1h0M657.5 125.4h0M657.9 123.1h0M657.8 121.7h0M657.9 124.4h0M658.9 125.5h0M658.9 125.5h0" stroke="#1e2d5e" stroke-width="2.8" stroke-linecap="round"/>
<path d="M657.8 147.6 657.8 125.7 659 125.7 660 125.7 661 125.7 662 125.7 662.5 125.7 663.7 125.7 663.7 147.6Z" fill="#c58216"/>
<path d="M659.1 120.4h0M659.9 122.4h0M660 125.4h0M660.1 103.5h0M660.1 125.2h0M661.8 122.2h0M661.7 114.7h0M662.3 117.3h0M662.3 123.6h0M662.5 124.6h0M660.6 114.6h0M661.9 118.2h0M661.1 117h0M661 120.1h0" stroke="#c58216" stroke-width="2.8" stroke-linecap="round"/>
<path d="M661.3 147.6 661.3 125.7 662.5 125.7 663.5 125.7 664.3 125.7 665.5 125.7 665.5 147.6Z" fill="#1e2d5e"/>
<path d="M663 123.8h0M662.9 125.1h0M662.6 123.1h0M662.9 124.7h0M663.4 124.6h0M663.9 125.4h0M663.6 123.4h0M663.8 109h0M664.1 120.9h0" stroke="#1e2d5e" stroke-width="2.8" stroke-linecap="round"/>
<path d="M663.1 147.6 663.1 125.7 664.3 125.7 665.3 125.7 666.3 126.5 666.6 126.5 667.8 126.5 667.8 147.6Z" fill="#c58216"/>
<path d="M664.7 125.1h0M666.3 125.9h0M666.5 125.8h0M666.2 113.7h0M666.8 110.4h0M666 113.2h0M666 120.6h0M666.3 116.1h0M665.6 115.3h0" stroke="#c58216" stroke-width="2.8" stroke-linecap="round"/>
<path d="M665.4 147.6 665.4 126.5 666.6 126.5 667.6 127.3 668.6 128.2 669.2 128.2 670.4 128.2 670.4 147.6Z" fill="#1e2d5e"/>
<path d="M666.7 126.3h0M667.2 121.3h0M668 117.8h0M668.6 125.5h0M668.7 125.6h0" stroke="#1e2d5e" stroke-width="2.8" stroke-linecap="round"/>
<path d="M668 147.6 668 128.2 669.2 128.2 670.2 129 671.2 129.8 672.4 129.8 672.4 147.6Z" fill="#c58216"/>
<path d="M670 128.6h0M670.1 127.3h0M670.1 127.2h0M670 128h0M669.8 128.3h0M670.2 124.1h0M670.7 127.7h0M670.9 126.1h0M670.7 121.6h0" stroke="#c58216" stroke-width="2.8" stroke-linecap="round"/>
<path d="M502.3 74h0M512 104h0M522 100h0M514.7 111h0M256 94.1h0M256 98.5h0M256 108.5h0M277.7 91.9h0M277.7 93.5h0M278 101.4h0M300.5 90.9h0M289 102.8h0M288.9 105.7h0M306.3 99.9h0M310.5 105.4h0M333 101.5h0M263 112.6h0M284.3 109.1h0M447.9 104.4h0" stroke="#1e2d5e" stroke-width="2.8" stroke-linecap="round"/>
<path d="M528.6 80.5h0M492 93.7h0M492 97h0M491.5 103h0M495 109h0M340.5 105.5h0M602.7 96.6h0M604.5 99.5h0M353.3 110.2h0M371 109.5h0" stroke="#c58216" stroke-width="2.8" stroke-linecap="round"/>
<line x1="239.6" y1="68.4" x2="684" y2="68.4" stroke="#e8645a" stroke-width="1"/>
<line x1="239.6" y1="85.5" x2="684" y2="85.5" stroke="#8cc96a" stroke-width="1"/>
<line x1="239.6" y1="347.3" x2="239.6" y2="215.5" stroke="#8a8a8a" stroke-width="0.9"/>
<line x1="237.0" y1="347.5" x2="239.6" y2="347.5" stroke="#8a8a8a" stroke-width="1"/>
<text transform="translate(234.5,350.7) scale(1,1.1)" font-size="8.8" text-anchor="end" fill="#222">0</text>
<line x1="237.0" y1="320.5" x2="239.6" y2="320.5" stroke="#8a8a8a" stroke-width="1"/>
<text transform="translate(234.5,324.4) scale(1,1.1)" font-size="8.8" text-anchor="end" fill="#222">2</text>
<line x1="237.0" y1="294.5" x2="239.6" y2="294.5" stroke="#8a8a8a" stroke-width="1"/>
<text transform="translate(234.5,298) scale(1,1.1)" font-size="8.8" text-anchor="end" fill="#222">4</text>
<line x1="237.0" y1="268.5" x2="239.6" y2="268.5" stroke="#8a8a8a" stroke-width="1"/>
<text transform="translate(234.5,271.6) scale(1,1.1)" font-size="8.8" text-anchor="end" fill="#222">6</text>
<line x1="237.0" y1="241.5" x2="239.6" y2="241.5" stroke="#8a8a8a" stroke-width="1"/>
<text transform="translate(234.5,245.3) scale(1,1.1)" font-size="8.8" text-anchor="end" fill="#222">8</text>
<line x1="237.0" y1="215.5" x2="239.6" y2="215.5" stroke="#8a8a8a" stroke-width="1"/>
<text transform="translate(234.5,218.9) scale(1,1.1)" font-size="8.8" text-anchor="end" fill="#222">10</text>
<text transform="translate(221.6,300.4) rotate(-90)" fill="#222"><tspan x="0" y="0" font-size="9.0">&#8722;</tspan><tspan x="6.2" y="0" font-size="9.0">log</tspan><tspan x="18.9" y="1.3" font-size="5.8">10</tspan><tspan x="25.5" y="0" font-size="9.0">(</tspan><tspan x="28.9" y="0" font-size="9.0">p</tspan><tspan x="34.9" y="0" font-size="9.0">)</tspan></text>
<line x1="297" y1="348.2" x2="297" y2="350.2" stroke="#999" stroke-width="0.7"/>
<line x1="374.9" y1="348.2" x2="374.9" y2="350.2" stroke="#999" stroke-width="0.7"/>
<line x1="433.4" y1="348.2" x2="433.4" y2="350.2" stroke="#999" stroke-width="0.7"/>
<line x1="478.9" y1="348.2" x2="478.9" y2="350.2" stroke="#999" stroke-width="0.7"/>
<line x1="513" y1="348.2" x2="513" y2="350.2" stroke="#999" stroke-width="0.7"/>
<line x1="534.5" y1="348.2" x2="534.5" y2="350.2" stroke="#999" stroke-width="0.7"/>
<line x1="550.5" y1="348.2" x2="550.5" y2="350.2" stroke="#999" stroke-width="0.7"/>
<line x1="565.4" y1="348.2" x2="565.4" y2="350.2" stroke="#999" stroke-width="0.7"/>
<line x1="577.5" y1="348.2" x2="577.5" y2="350.2" stroke="#999" stroke-width="0.7"/>
<line x1="587.1" y1="348.2" x2="587.1" y2="350.2" stroke="#999" stroke-width="0.7"/>
<line x1="596.1" y1="348.2" x2="596.1" y2="350.2" stroke="#999" stroke-width="0.7"/>
<line x1="605.2" y1="348.2" x2="605.2" y2="350.2" stroke="#999" stroke-width="0.7"/>
<line x1="613.6" y1="348.2" x2="613.6" y2="350.2" stroke="#999" stroke-width="0.7"/>
<line x1="621.1" y1="348.2" x2="621.1" y2="350.2" stroke="#999" stroke-width="0.7"/>
<line x1="627.5" y1="348.2" x2="627.5" y2="350.2" stroke="#999" stroke-width="0.7"/>
<line x1="630.8" y1="348.2" x2="630.8" y2="350.2" stroke="#999" stroke-width="0.7"/>
<line x1="633.4" y1="348.2" x2="633.4" y2="350.2" stroke="#999" stroke-width="0.7"/>
<line x1="638.1" y1="348.2" x2="638.1" y2="350.2" stroke="#999" stroke-width="0.7"/>
<line x1="643" y1="348.2" x2="643" y2="350.2" stroke="#999" stroke-width="0.7"/>
<line x1="648.3" y1="348.2" x2="648.3" y2="350.2" stroke="#999" stroke-width="0.7"/>
<line x1="653" y1="348.2" x2="653" y2="350.2" stroke="#999" stroke-width="0.7"/>
<line x1="655.7" y1="348.2" x2="655.7" y2="350.2" stroke="#999" stroke-width="0.7"/>
<line x1="657.9" y1="348.2" x2="657.9" y2="350.2" stroke="#999" stroke-width="0.7"/>
<line x1="660.8" y1="348.2" x2="660.8" y2="350.2" stroke="#999" stroke-width="0.7"/>
<line x1="663.4" y1="348.2" x2="663.4" y2="350.2" stroke="#999" stroke-width="0.7"/>
<line x1="665.5" y1="348.2" x2="665.5" y2="350.2" stroke="#999" stroke-width="0.7"/>
<line x1="667.9" y1="348.2" x2="667.9" y2="350.2" stroke="#999" stroke-width="0.7"/>
<line x1="670.2" y1="348.2" x2="670.2" y2="350.2" stroke="#999" stroke-width="0.7"/>
<text transform="translate(296,356.9) scale(1,1.1)" font-size="8.8" text-anchor="middle" fill="#222">1</text>
<text transform="translate(372.9,356.9) scale(1,1.1)" font-size="8.8" text-anchor="middle" fill="#222">2</text>
<text transform="translate(432.2,356.9) scale(1,1.1)" font-size="8.8" text-anchor="middle" fill="#222">3</text>
<text transform="translate(479.2,356.9) scale(1,1.1)" font-size="8.8" text-anchor="middle" fill="#222">4</text>
<text transform="translate(511.9,356.9) scale(1,1.1)" font-size="8.8" text-anchor="middle" fill="#222">5</text>
<text transform="translate(534.3,356.9) scale(1,1.1)" font-size="8.8" text-anchor="middle" fill="#222">6</text>
<text transform="translate(550,356.9) scale(1,1.1)" font-size="8.8" text-anchor="middle" fill="#222">7</text>
<text transform="translate(565.4,356.9) scale(1,1.1)" font-size="8.8" text-anchor="middle" fill="#222">8</text>
<text transform="translate(587,356.9) scale(1,1.1)" font-size="8.8" text-anchor="middle" fill="#222">10</text>
<text transform="translate(604.7,356.9) scale(1,1.1)" font-size="8.8" text-anchor="middle" fill="#222">12</text>
<text transform="translate(628.2,356.9) scale(1,1.1)" font-size="8.8" text-anchor="middle" fill="#222">15</text>
<text transform="translate(648.2,356.9) scale(1,1.1)" font-size="8.8" text-anchor="middle" fill="#222">20</text>
<text transform="translate(667.6,356.9) scale(1,1.1)" font-size="8.8" text-anchor="middle" fill="#222">27</text>
<text transform="translate(461.6,367.6) scale(1,1.1)" font-size="8.8" text-anchor="middle" fill="#222">Chromosome</text>
<path d="M251.4 348.5 251.4 330.8 252.6 330.8 253.6 330.8 254.6 330.8 255.6 330.4 256.6 330.4 257.6 330 258.6 329.6 259.6 329.2 260.6 328.8 261.6 328.8 262.6 328.8 263.6 328.8 264.6 328.8 265.6 328.8 266.6 328.8 267.6 328.8 268.6 328.8 269.6 328.8 270.6 328.8 271.6 329.1 272.6 329.4 273.6 329.6 274.6 329.6 275.6 329.9 276.6 330.2 277.6 330.2 278.6 330.2 279.6 330.2 280.6 330.2 281.6 330.2 282.6 330.2 283.6 329.9 284.6 329.9 285.6 329.6 286.6 329.4 287.6 329.1 288.6 328.8 289.6 328.8 290.6 328.8 291.6 328.8 292.6 328.8 293.6 328.8 294.6 328.8 295.6 328.8 296.6 328.8 297.6 329.7 298.6 329.7 299.6 330.5 300.6 331.3 301.6 332.1 302.6 332.9 303.6 332.9 304.6 332.9 305.6 332.9 306.6 332.9 307.6 332.9 308.6 331.7 309.6 331.7 310.6 330.4 311.6 329.1 312.6 327.9 313.6 326.6 314.6 326.6 315.6 326.6 316.6 326.6 317.6 326.6 318.6 326.6 319.6 326.6 320.6 326.6 321.6 326.6 322.6 325.8 323.6 325.8 324.6 325 325.6 324.2 326.6 323.3 327.6 322.5 328.6 322.5 329.6 322.5 330.6 322.5 331.6 322.5 332.6 322.5 333.6 322.5 334.6 322.5 335.6 322.5 336.6 322.5 337.6 324.3 338.6 324.3 339.6 326.1 340.6 327.9 341.4 329.7 342.6 329.7 342.6 348.5Z" fill="#1e2d5e"/>
<path d="M252.7 330.8h0M253.9 326.3h0M254.1 329.3h0M254 318.7h0M254.6 328.7h0M254.4 330.7h0M255 326.2h0M254.7 329.1h0M255.1 327.2h0M255.4 328.1h0M255.7 328.3h0M255.8 328h0M255.6 327.9h0M256.6 330.1h0M256.1 326.8h0M256.8 325.8h0M257.5 326.5h0M257.8 318.2h0M258.6 327.5h0M258.5 326.6h0M258.5 325.5h0M258.6 327.6h0M259.3 327.1h0M259.6 316.5h0M260 321.4h0M260.2 324.9h0M260.6 328.2h0M260.8 324.8h0M260.8 327.5h0M260.7 320.5h0M261.6 327.1h0M262.5 314.8h0M262.6 326.2h0M263 322.7h0M262.8 310h0M263.4 328.4h0M263.7 321.5h0M263.9 326.1h0M264.5 328.3h0M264.2 327.2h0M265.7 328.7h0M266.6 313.5h0M266.5 328h0M266.2 313.3h0M267.1 324.4h0M267.1 327.6h0M266.8 327.1h0M266.6 323.1h0M267.3 319.7h0M267.3 321.9h0M267.9 324.1h0M268.2 326.2h0M268.3 320.7h0M268.6 311.6h0M268.9 328h0M269.8 326.7h0M270.4 328h0M270.7 314.5h0M271.4 327.3h0M271.4 328.6h0M271.8 328.8h0M272.4 329h0M272.5 324h0M272.9 327.1h0M272.8 326h0M273.2 324.4h0M273.4 317h0M273.2 328.4h0M273.9 324h0M273.8 310.7h0M274.2 326.9h0M275.2 325.9h0M275.4 326.7h0M275.6 329h0M277.2 328.9h0M277.1 326.6h0M277.2 327.8h0M277.4 329.9h0M277.8 329.8h0M277.9 319.7h0M277.7 326.4h0M278.1 328.4h0M278.5 325.5h0M278.7 317.7h0M279.3 328.9h0M279.2 325.8h0M279.1 324.8h0M280 329.6h0M279.8 329.7h0M279.8 319.3h0M280.2 321.4h0M280.2 326.6h0M280.8 327.2h0M281.2 323.2h0M281.5 326h0M282.1 326.4h0M282.6 322.3h0M282.7 328h0M282.6 329.1h0M283.4 322.2h0M283.1 323.7h0M283.4 313.6h0M283.4 326.8h0M283.9 328.3h0M284.3 329h0M284.5 324.9h0M285.6 328.1h0M286 327.6h0M286.2 320.9h0M286.2 329.3h0M287.6 326.3h0M287.3 323.3h0M287.5 323.5h0M287.5 326.5h0M287.3 323.2h0M288.1 326.6h0M287.8 327h0M287.8 328h0M288.1 327.8h0M288.5 326.7h0M288.1 328h0M288.8 325.2h0M288.7 319.1h0M289.1 315h0M289.6 320.7h0M289.8 328.3h0M290.1 324.4h0M290.1 328.3h0M290.5 326.4h0M290.8 322.1h0M291.3 323h0M291.2 324.2h0M291.9 328.5h0M291.9 323.7h0M292.5 327.2h0M292.1 322.7h0M292.9 326.8h0M292.6 315.2h0M293.4 328.1h0M293.5 326.5h0M293.8 327h0M294.3 327.9h0M295 328.7h0M294.9 326.5h0M295.6 316.5h0M295.4 324h0M295.4 321.8h0M295.5 324.8h0M296 326.3h0M296.4 320.3h0M296.3 328.2h0M297 325.3h0M298.4 329.6h0M298.5 329h0M299 330h0M299.1 329.6h0M299.4 328.7h0M299.2 320.8h0M299.8 325.4h0M300 329.9h0M300.4 330.9h0M300.7 327.5h0M301 330.8h0M300.7 328.5h0M300.7 330.2h0M300.7 331.3h0M300.8 327.2h0M302 329.1h0M302.2 331.1h0M302.5 318.9h0M302.6 327.7h0M303.2 332h0M303.5 332.6h0M303.4 332.1h0M304.6 332.2h0M304.4 310.2h0M305 320.7h0M304.8 328.1h0M305.2 321.1h0M306.3 332.9h0M306.3 331.4h0M306.2 331.7h0M306.3 317.8h0M306.7 327.6h0M308.4 332.1h0M309 328.4h0M309 331.5h0M309 329.9h0M309.2 324.3h0M309.3 329.6h0M310 327.9h0M310.4 322.1h0M310.9 323.4h0M311 327.5h0M311.4 319.9h0M312.2 312.4h0M312.5 311.3h0M312.8 327.8h0M313 321.7h0M313.8 317.9h0M313.7 324.3h0M314.1 323.4h0M314.6 325.6h0M315.5 320.6h0M315.6 320.8h0M315.3 324.1h0M315.4 312.7h0M316 323.9h0M316.2 324.9h0M316.9 325h0M317 326.4h0M316.9 322.2h0M317.4 320h0M317.1 325.9h0M317.9 325.8h0M317.8 325.8h0M317.8 324.5h0M318.5 326h0M318.2 325h0M318.2 321.5h0M318.6 326.6h0M318.8 324.4h0M319.3 319.2h0M319.6 325.8h0M320.1 319.1h0M319.8 317.9h0M319.8 314.7h0M319.8 310.7h0M320.3 321.3h0M320.6 321.8h0M320.8 323.7h0M320.7 324.5h0M321.2 322.7h0M322 323h0M321.9 324.1h0M321.6 319.6h0M321.8 313.2h0M323.5 322.3h0M323.8 323.5h0M323.9 323.7h0M323.7 324.3h0M324.9 320.8h0M325.6 322.2h0M325.3 321.4h0M325.3 310.5h0M325.5 320.2h0M326.4 320.6h0M326.6 322.8h0M326.8 319.1h0M327.7 321.1h0M328.4 320.4h0M328.8 322.1h0M328.8 321.4h0M329 309.2h0M328.9 305.4h0M329.1 321.4h0M329.2 318h0M329.6 322.2h0M329.8 305.5h0M331.1 319.2h0M331.5 315.2h0M331.9 322h0M332 319.8h0M332 321.4h0M332.1 318.1h0M331.8 319.2h0M332 319h0M332.5 322.4h0M332.8 306.3h0M332.9 321.5h0M333.7 307.4h0M333.7 320.5h0M334.3 319.4h0M334.3 320.4h0M335.1 317.7h0M334.7 321.1h0M334.8 311.8h0M335 316.2h0M335.4 310.8h0M335.7 321.1h0M335.8 318.5h0M335.7 312.5h0M336.4 322.1h0M337 318.4h0M337.7 320.5h0M337.6 323.3h0M337.9 310.7h0M337.9 324h0M337.9 322.8h0M338.1 317.7h0M338.5 320.9h0M338.3 323.6h0M338.7 323h0M339.2 325.4h0M340 323.4h0M340.5 321.2h0M340.2 321.4h0M340.4 319.1h0M340.3 325.6h0M340.8 321.3h0M341.3 329h0M341.2 328.6h0M341.1 315h0M341.1 319.8h0M332.4 308h0M331.6 302.4h0M332.4 312.2h0M332.3 304.7h0M331.5 293.7h0M333 312.3h0M332 313.7h0M331.8 301.6h0M287.1 324.3h0M286.7 322.7h0M287.3 325.5h0M287.3 326.4h0M286.5 326.3h0M286.9 322.8h0M287.5 324h0M286.3 323.4h0M318.5 309h0M318.6 317.2h0M317.2 309.7h0M318.5 314.3h0M317.7 315.8h0M318.5 314.6h0M318.2 323.3h0M315.7 313.3h0M314.9 302.4h0M315.6 301.4h0M315.7 305.4h0M314.9 304.8h0M314.7 316.9h0M315 311.9h0M305.9 326.1h0M304.7 326.3h0M305.5 323.9h0M334.2 303.8h0M334.1 303.1h0M334.5 301.7h0M333.8 314.6h0M334.1 302.1h0M333.7 306.6h0M333.7 316.6h0M333.3 319.3h0M333.7 309.1h0M309.3 319.8h0M308.8 327.7h0M309.3 316h0M309.6 317h0M308.9 325.3h0M308.6 316.5h0M308.4 320.4h0M309.5 326.9h0M318.6 311h0M318 307.6h0M317.6 312.5h0M318.6 313h0M318.7 322.2h0M318 317.6h0M317.3 315.6h0M317.5 310h0M318.6 313.6h0M293.2 325.7h0M292.4 320.9h0M292.7 319h0M273.7 314.2h0M272.9 312h0M273.2 302.9h0M272.2 316.4h0M272.4 322.7h0M317.8 320.1h0M318.8 314.9h0M318.8 316.9h0M319.1 322.8h0M318.1 315.6h0M319.3 315.7h0M268.6 305.9h0M267.8 319.9h0M267.9 324.6h0M257.7 323.9h0M256.9 323.3h0M257.2 322.7h0M257.6 318.8h0M303.3 317.6h0M304.2 327.1h0M303.7 318h0M303.4 313.9h0" stroke="#1e2d5e" stroke-width="2.8" stroke-linecap="round"/>
<path d="M340.2 348.5 340.2 329.7 341.4 329.7 342.4 329.7 343.4 331.5 344.4 331.5 345.4 331.5 346.4 331.5 347.4 331.5 348.4 331.5 349.4 331.5 350.4 331.5 351.4 331.5 352.4 331 353.4 330.4 354.4 330.4 355.4 329.9 356.4 329.4 357.4 328.8 358.4 328.8 359.4 328.8 360.4 328.8 361.4 328.8 362.4 328.8 363.4 329.2 364.4 329.2 365.4 329.6 366.4 330 367.4 330.4 368.4 330.8 369.4 330.8 370.4 330.8 371.4 330.8 372.4 330.8 373.4 330.8 374.4 330.8 375.4 330.8 376.4 330.8 377.4 331.1 378.4 331.4 379.4 331.4 380.4 331.6 381.4 331.9 382.4 332.1 383.4 332.1 384.4 332.1 385.4 332.1 386.4 332.1 387.4 332.1 388.4 332.1 389.4 332.1 390.4 332.1 391.4 331.2 392.4 330.3 393.4 330.3 394.4 329.4 395.4 328.5 396.4 327.5 397.4 327.5 398.4 327.5 399.4 327.5 400.4 327.5 401.4 327.5 402.4 327.5 403.4 327.5 404.4 327.5 405.4 327.3 406.4 327.2 407.4 327 408.3 327 409.5 327 409.5 348.5Z" fill="#c58216"/>
<path d="M341.7 325h0M341.6 328.9h0M341.6 321.2h0M342.3 327h0M342 327.5h0M342.9 330.8h0M342.5 326.7h0M343.1 324.7h0M343.1 330.3h0M343 312h0M343 329.8h0M343.7 326h0M343.7 330.7h0M343.5 330.6h0M344.3 330.7h0M344.6 323.1h0M344.6 330.5h0M344.6 331.1h0M344.6 326.6h0M345.3 326.1h0M345.5 327.3h0M347 330.6h0M347 331.4h0M347 318.7h0M347 330.6h0M347.3 329.3h0M347.2 330.1h0M347.4 326.8h0M348 328.4h0M348.3 329.3h0M348.9 331.5h0M349.1 323.3h0M349.7 321.6h0M350.7 329.3h0M350.6 331.3h0M350.7 325.1h0M351.1 330.6h0M351.3 323.4h0M351.1 317.2h0M351.2 323.1h0M351.5 330.7h0M351.5 329.9h0M352.8 319.3h0M353.3 324.7h0M353.2 325.6h0M353.6 325h0M353.6 329.4h0M354 329.8h0M354 327.5h0M354.3 326.9h0M354.6 328.7h0M355.4 323.3h0M355.7 322.7h0M355.6 327.3h0M356 328.8h0M356.5 328.6h0M356.4 325.2h0M357.5 327.9h0M357.7 310.4h0M358.1 326.1h0M358.1 327.4h0M358.2 324.9h0M358.3 326.5h0M359.6 325.6h0M360 327.9h0M359.9 328.2h0M360.5 321.7h0M360.6 326.1h0M361.1 325.4h0M361.2 326.3h0M361 322.3h0M361.6 315.8h0M362.5 322.6h0M362.7 314.6h0M363.3 327.9h0M363.7 328.6h0M364.3 322.1h0M364 317.2h0M364.9 317.2h0M364.6 323.3h0M364.6 328.8h0M365.1 325.1h0M365.2 328.4h0M365.6 326.8h0M365.5 323.9h0M365.6 328.7h0M366 324.9h0M366.8 324.7h0M366.8 329.6h0M366.9 326.4h0M367.9 323.8h0M367.8 330.3h0M368.2 317.5h0M368.1 324.2h0M368 327.5h0M368.6 329.3h0M368.7 321.4h0M369.5 327.7h0M370.4 330.2h0M370.5 325.3h0M371.6 326.3h0M372.2 330.2h0M372.9 328.9h0M373.4 326.2h0M373.6 321.1h0M374.4 330.6h0M374.3 324.5h0M374.2 322.1h0M373.9 328.8h0M374.5 328.6h0M374.9 325.4h0M374.6 327.3h0M375.2 318.1h0M374.9 322.3h0M375.5 329.2h0M376.1 326.2h0M376.7 330.4h0M377.2 328.2h0M377 331h0M377.3 325.9h0M378.4 327.6h0M378.1 330.7h0M378.5 329.2h0M378.5 330.9h0M378.5 324.6h0M378.5 327.9h0M378.5 329.3h0M378.9 329.6h0M378.5 315.9h0M378.9 331.3h0M379.3 328.6h0M379.7 331.3h0M380.4 322.4h0M380.6 322.9h0M380.8 331.5h0M380.6 327h0M381.4 330.5h0M381.3 328.5h0M381.9 328.6h0M381.6 323.8h0M381.8 319.8h0M382.3 327.5h0M382.4 329.3h0M382.1 328.1h0M382.1 324.9h0M382.8 329.9h0M384 330.8h0M384.6 330.4h0M386.3 329.4h0M386 328.6h0M386.2 329.2h0M387.4 330.3h0M387.2 322.9h0M387.8 330.8h0M387.9 331.1h0M387.7 331.5h0M387.6 329.7h0M388.2 327.7h0M388.5 323.2h0M388.4 326.4h0M388.7 331.7h0M388.7 328.6h0M389.2 328.4h0M389.9 322.9h0M389.7 330.8h0M389.4 326h0M390.3 332h0M390.3 324.6h0M390.4 331.7h0M391 328.2h0M391 329.2h0M392.2 330.7h0M392.1 329.3h0M392.4 328h0M392.7 324.1h0M392.8 316.2h0M393 321.5h0M393.3 330.3h0M393.5 316.5h0M394.3 328.1h0M394 329.3h0M394.5 329.2h0M395.2 324.4h0M395.4 319.5h0M395.2 325.3h0M395.3 322.7h0M395.2 328h0M395.2 324.5h0M396.2 311.2h0M396.5 327.4h0M397.3 326.3h0M397 326.1h0M397.4 327.3h0M397.2 326.2h0M398.8 318.5h0M398.6 325.9h0M398.8 325h0M398.5 326.8h0M398.4 321.9h0M399.5 310.2h0M400.1 322.3h0M400.7 325.2h0M400.4 324.5h0M401.1 324.8h0M401 323.8h0M401.7 325.7h0M401.9 325.8h0M402.3 307.1h0M402.4 319.5h0M402.2 324.5h0M402.6 325h0M403.3 323.1h0M403.6 325.6h0M403.7 326.6h0M404 318.2h0M404.5 327.4h0M404.6 317.8h0M404.4 324.9h0M404.9 321.7h0M405.3 327h0M405 324.9h0M405 320.7h0M405.1 327.2h0M405.2 326.7h0M405.1 325h0M405.7 319.7h0M405.6 325.3h0M406 326.1h0M406 322.7h0M407.1 315.1h0M407.3 313.7h0M407.9 324.9h0M407.4 311.4h0M408.2 326.6h0M390.4 316.8h0M391.3 325.5h0M389.9 316.8h0M376.6 325.1h0M377 323.1h0M376.8 327.4h0M376.4 324.9h0M377 322.2h0M376.3 322.9h0M376.7 324.8h0M376.6 324.1h0M398.6 320.4h0M398.2 318.5h0M398 317.7h0M370.9 325.1h0M370.6 325.3h0M370.8 321.4h0M370.8 320.3h0M344.4 324.1h0M343.5 324.9h0M343.6 325h0M344.5 323.1h0M344.2 323.3h0M343.7 325.6h0M344.3 328.7h0M344.1 322.2h0M343.5 325.5h0M380.9 326.2h0M380.7 320.7h0M381.1 320.9h0M379.7 323.6h0M380.3 322.2h0M380 324.8h0M379.5 313.2h0M379.6 308.7h0M378.9 306.6h0M379.3 306.6h0M379.5 309.6h0M360.6 319.6h0M361.2 311.2h0M360.6 311.3h0M359.6 308.2h0M361.1 312.6h0M360 311.1h0M360.1 317.3h0M372.1 325.9h0M372.6 327h0M372.4 325.8h0M372.6 325.6h0M372 322.1h0M373.3 324.7h0M345.1 316.5h0M344 306.6h0M344.1 313.7h0M380.6 325.3h0M379.5 327.5h0M380.3 323.2h0M380.3 325.6h0M379.7 328.2h0M380.8 327.1h0M380.7 322.8h0M380.9 324.2h0" stroke="#c58216" stroke-width="2.8" stroke-linecap="round"/>
<path d="M407.1 348.5 407.1 327 408.3 327 409.3 326.8 410.3 326.6 411.3 326.6 412.3 326.6 413.3 326.6 414.3 326.6 415.3 326.6 416.3 326.6 417.3 326.5 418.3 326.3 419.3 326.2 420.3 326.1 421.3 326.1 422.3 325.9 423.3 325.9 424.3 325.9 425.3 325.9 426.3 325.9 427.3 325.9 428.3 325.9 429.3 325.9 430.3 325.9 431.3 326.1 432.3 326.2 433.3 326.3 434.3 326.5 435.3 326.5 436.3 326.6 437.3 326.6 438.3 326.6 439.3 326.6 440.3 326.6 441.3 326.6 442.3 326.6 443.3 326.6 444.3 326.3 445.3 326.3 446.3 326.1 447.3 325.8 448.3 325.6 449.3 325.3 450.3 325.3 451.3 325.3 452.3 325.3 453.3 325.3 454.3 325.3 455.3 326.3 456.3 326.3 457.3 327.2 458.3 328.2 458.4 328.2 459.6 328.2 459.6 348.5Z" fill="#1e2d5e"/>
<path d="M408.7 326h0M409.2 322.6h0M409.1 324.9h0M409.6 323.4h0M409.8 323h0M410.5 324.9h0M410.7 325.7h0M410.9 319.9h0M411 325.4h0M410.8 320.6h0M411.1 319.8h0M411.6 324.1h0M411.9 325.4h0M412.2 325.4h0M412.1 326.3h0M412.5 309.1h0M412.4 324h0M412.4 321.5h0M413.1 319.6h0M413.9 324.5h0M414.5 320.3h0M414.3 310.8h0M414.7 319.8h0M414.5 323.7h0M414.9 315.1h0M415.3 318.1h0M416.2 324.9h0M416.7 323.3h0M416.8 323.4h0M417.3 322h0M417.1 317.3h0M417.7 324h0M417.6 321.8h0M417.6 325.8h0M417.7 323.2h0M418.1 326.1h0M418.3 316.3h0M419.2 322.4h0M420.2 325.6h0M420 324.6h0M420.5 325.7h0M420.4 319.6h0M421.2 325.9h0M421.4 325h0M421.8 318.7h0M421.8 324.5h0M421.9 325.9h0M422.3 325.8h0M422.7 322.9h0M422.3 325.4h0M423 325h0M423.2 324.6h0M423.3 321.1h0M424 320h0M423.8 324.6h0M424.7 325.6h0M424.3 323.9h0M424.7 323h0M424.4 318.6h0M424.6 324.7h0M424.5 323.8h0M425.1 319.9h0M424.9 323.7h0M425 322h0M425 325.8h0M425.6 322.6h0M425.7 322.9h0M425.6 322.9h0M426.2 319.4h0M426.8 325.6h0M427.1 325.8h0M426.8 321.6h0M428.2 317.7h0M428.1 325.2h0M428.4 325.8h0M428.7 325.5h0M429.1 323.6h0M429.3 319.7h0M429.4 315.8h0M429.8 325.6h0M430.8 324.1h0M431 324.9h0M431.3 312.8h0M431.6 326h0M432 325.9h0M432.1 325.2h0M431.9 323.7h0M432.6 316.9h0M432.7 320.5h0M432.7 312.8h0M432.8 320.4h0M432.9 325.4h0M433.2 323.5h0M433.7 322.6h0M434.2 319.3h0M434.2 323.7h0M434.3 317.2h0M433.8 326.1h0M433.8 315.3h0M434.6 323.5h0M434.9 323h0M435.5 323.5h0M435.8 317.3h0M436.8 319.1h0M436.9 308.1h0M437.3 326.5h0M437.7 316.4h0M437.5 322.9h0M438.2 320.7h0M437.9 324.8h0M438.4 325.4h0M438.5 322.1h0M438.3 325.8h0M438.4 325h0M439.3 326.4h0M439 324.1h0M439.2 322.5h0M439.6 323h0M440.2 308.1h0M440.1 324.6h0M440.6 325.3h0M440.5 324.8h0M440.7 319h0M441.2 325.4h0M441.2 318.5h0M441.5 318.1h0M442.2 326.1h0M442.2 325.9h0M441.9 326h0M442.1 326.3h0M442.6 324.8h0M443.4 316.8h0M443.4 325.3h0M443.6 309h0M443.5 318.1h0M444.2 316.9h0M444.3 325.1h0M444.4 312.6h0M444.4 326.1h0M444.7 318.7h0M444.8 323.6h0M445 323.2h0M445.2 326.2h0M445.4 323.6h0M446.1 322h0M446.2 324.3h0M446.8 323.6h0M447 319.3h0M447.4 320.8h0M447.5 316h0M447.8 321.2h0M448 323h0M448.7 319.8h0M449 318h0M449 323.4h0M449.2 323.9h0M449 316.6h0M449.6 320.3h0M450.2 315.5h0M450 323.9h0M450.4 324.9h0M451.2 319.2h0M451.2 319.2h0M452.7 324.8h0M452.5 324.4h0M452.7 318.1h0M452.6 322h0M453.3 323h0M453.5 320.9h0M453.8 324h0M454 320.6h0M454.3 311.1h0M454.4 319.7h0M454.7 321.7h0M454.9 296.8h0M455.7 323.7h0M456.2 325.1h0M456.1 323.5h0M456.3 324.7h0M456.2 321.7h0M456.1 323.9h0M456.6 324.3h0M456.4 324.8h0M456.8 326.6h0M456.4 320.6h0M456.4 318.5h0M457.1 326.1h0M457.8 319.9h0M457.6 323.8h0M431.5 316.8h0M430.4 317.7h0M430.1 319.4h0M430.2 319.1h0M431.2 317.3h0M430.5 321.8h0M430.1 318.2h0M431.1 318.6h0M431.2 320.8h0M417.5 317.2h0M417.4 319.1h0M417.1 316.1h0M417.5 323.6h0M417.1 317.7h0M417.4 320h0M416.6 318h0M417.5 316.6h0M449.3 316.2h0M449.3 303.7h0M448.5 308.5h0M449 311h0M449.5 300.3h0M448.7 303.9h0M448.2 318h0M449.7 316.8h0M449.1 301.9h0M427.3 315.4h0M428.5 322.8h0M427.3 319.9h0M427.3 322.2h0M428.4 319.6h0M428.3 315.4h0M427.3 317.3h0M428.4 319.6h0M428 321.5h0M433.5 315.7h0M434 316.2h0M433.1 320.3h0M433.7 319.8h0M456.1 311.8h0M455.5 308.2h0M456.2 316.9h0M456.3 301.1h0M456.2 321.9h0M455.9 316.6h0M457.7 313.1h0M458 320.1h0M458 321.7h0M457.3 319.1h0M434.3 318.6h0M435.5 322.5h0M435.6 315.2h0M434.7 314.4h0M434.6 322.1h0M435.4 320.3h0M435.1 316.5h0" stroke="#1e2d5e" stroke-width="2.8" stroke-linecap="round"/>
<path d="M457.2 348.5 457.2 328.2 458.4 328.2 459.4 329.2 460.4 330.2 461.4 330.2 462.4 330.2 463.4 330.2 464.4 330.2 465.4 330.2 466.4 330.2 467.4 330.2 468.4 329.6 469.4 329.1 470.4 328.6 471.4 328.1 472.4 328.1 473.4 327.5 474.4 327.5 475.4 327.5 476.4 327.5 477.4 327.5 478.4 327.5 479.4 327.5 480.4 327.5 481.4 327.5 482.4 327.5 483.4 327.5 484.4 327.5 485.4 327.5 486.4 327.5 487.4 327.5 488.4 327.5 489.4 327.5 490.4 327.5 491.4 327.5 492.4 327.5 493.4 327.5 494.4 327.5 495.4 327.5 496.4 328.2 497.4 328.8 498.4 329.5 499.4 330.2 500.6 330.2 500.6 348.5Z" fill="#c58216"/>
<path d="M459.4 329.1h0M459.4 328.8h0M460 323.3h0M460.4 323.3h0M460.9 329.1h0M461.6 319.4h0M462.2 329.7h0M462.4 329.1h0M462.5 323.8h0M463.5 324.7h0M463.6 327.8h0M464.1 322.5h0M464.5 326.4h0M465.3 329.1h0M465.2 329.4h0M465.6 328.3h0M465.4 328.3h0M465.5 329.6h0M465.9 322.7h0M466.1 320.1h0M467.1 324.4h0M468.4 322.6h0M468 323.2h0M468.6 325.1h0M468.4 322.4h0M469.3 325.2h0M469 320.7h0M469.7 329.1h0M469.5 324.4h0M470.4 323h0M470.2 310.2h0M470.2 320.7h0M470.8 326.1h0M471.5 327.7h0M472.6 327.5h0M472.5 317.7h0M473.1 324.7h0M473.3 316.1h0M473.2 326h0M473.7 324.3h0M473.5 321.5h0M473.9 303.5h0M473.4 323.6h0M474.9 326h0M474.5 324.6h0M474.9 325.3h0M475.3 324.7h0M475.2 326.2h0M475.4 323.4h0M476.3 317.7h0M476.6 321.1h0M476.5 324.1h0M476.6 327.3h0M477.9 304.2h0M478.5 325.3h0M478.9 318.5h0M478.5 321.7h0M478.8 323.3h0M478.6 326.7h0M478.5 323.1h0M478.5 327.2h0M478.8 326.3h0M479 323.4h0M479.8 326.5h0M479.9 327.1h0M480 321.7h0M480.1 327.1h0M480.5 321.1h0M480.4 326.4h0M480.7 322h0M481.8 326.4h0M481.5 322.9h0M482.2 297.7h0M482.2 323.8h0M482.6 322.5h0M483 326.9h0M483.3 319.8h0M483.3 315.3h0M483.5 321.1h0M483.7 325.9h0M483.9 326.6h0M484.3 323.4h0M484.8 319.3h0M485.5 325.3h0M486.8 327.3h0M486.5 319.2h0M487.1 324.8h0M487 323.1h0M488.3 322.4h0M488.3 327.3h0M488.8 316.4h0M488.4 326.9h0M488.6 319.5h0M489.7 320.1h0M489.6 326.8h0M490.3 320.8h0M490.4 327.1h0M490 325.8h0M490.6 322.4h0M490.5 317.2h0M491.1 325.2h0M491.9 327.4h0M491.4 323.7h0M491.9 313.5h0M492.1 315.8h0M492.3 320.7h0M492.8 307.5h0M493.2 324.5h0M493.9 319.4h0M493.6 327.4h0M494.8 324.9h0M494.7 315.9h0M494.7 325.4h0M494.6 326.3h0M494.8 326.7h0M494.8 315.8h0M495.4 318.8h0M495.1 324.8h0M495.8 314.7h0M495.9 327.8h0M496.3 314.6h0M496 323.6h0M496.5 326.6h0M497.3 322.7h0M498.2 323.3h0M498.7 327h0M499.1 328.1h0M490.8 320.5h0M491 322.4h0M491.2 315.3h0M491 317.8h0M490.1 304.4h0M490 302.6h0M489.9 324h0M490.2 313h0M490 301.6h0M489.6 301.4h0M490.1 300.9h0M465.1 324.3h0M465.1 325.8h0M463.7 308.3h0M473.6 319.8h0M473.7 319.5h0M474.3 320h0M473.3 315.9h0M474 320.3h0M474 315.9h0M473.9 318.5h0M474.4 311.6h0M461.1 306.2h0M461.6 311.4h0M460.7 314.8h0M499.4 315.3h0M499.5 319h0M498.6 314.9h0M499.7 321.9h0M499.6 324.9h0M498.3 315.8h0M498.3 313.3h0M498.5 314h0M493 304.5h0M491.9 306h0M492 319.3h0M492.4 316h0M492.1 320.4h0M492.5 309.5h0" stroke="#c58216" stroke-width="2.8" stroke-linecap="round"/>
<path d="M498.2 348.5 498.2 330.2 499.4 330.2 500.4 330.2 501.4 330.8 502.4 330.8 503.4 330.8 504.4 330.8 505.4 330.8 506.4 330.8 507.4 330.8 508.4 330.8 509.4 330.8 510.4 330.8 511.4 331.1 512.4 331.4 513.4 331.6 514.4 331.9 515.4 331.9 516.4 332.1 517.4 332.1 518.4 332.1 519.4 332.1 520.4 332.1 521.4 332.1 522.4 332.1 523.4 331.5 524.4 330.8 525.4 330.8 526.4 330.2 526.5 330.2 527.7 330.2 527.7 348.5Z" fill="#1e2d5e"/>
<path d="M499.7 330h0M499.7 325.2h0M499.8 328.6h0M501.1 325.3h0M501.1 327.3h0M501 323.5h0M501.9 330.4h0M502.3 322.6h0M502.3 327.9h0M502 325h0M502.1 327.2h0M502.7 330.6h0M502.9 330h0M503.7 313.3h0M504.1 324.4h0M504.2 329.9h0M504.1 330.1h0M504.5 325.1h0M504.7 330.6h0M504.4 324.4h0M504.5 330.2h0M505.3 328.7h0M505 325.5h0M505 329.5h0M505.4 330.2h0M505.7 328h0M505.8 326.6h0M506.2 323.9h0M506.3 323.3h0M506.5 311.8h0M506.7 330.6h0M507.3 329h0M506.9 329.4h0M507.2 325.8h0M507.8 330.2h0M509.2 329.8h0M510 330.3h0M510.5 328.8h0M510.8 327.9h0M511 303.8h0M511.1 329h0M510.9 330.6h0M511.7 330.7h0M512.8 331.2h0M513.1 331h0M513.1 322h0M513.2 327.1h0M513.7 322.5h0M513.5 330.3h0M514.2 328.7h0M514 328.4h0M514.7 330.4h0M514.6 324h0M515.6 331.4h0M516.3 326.4h0M516.8 327.5h0M517 327.7h0M517.2 320.7h0M518.2 331h0M518.7 324.6h0M518.6 331.8h0M518.9 325.9h0M520.4 331.2h0M520 331.3h0M520 331.4h0M521.4 326.4h0M521.8 331.1h0M521.4 331h0M522.2 327.3h0M522.9 329h0M522.8 321.1h0M523.2 331.1h0M523.6 329.9h0M523.5 331h0M524.2 330.4h0M524.1 330.7h0M525 323.4h0M525.3 330.2h0M525.5 325.6h0M526.1 328.1h0M512.1 325.2h0M512 322.3h0M513 328h0M512.8 323h0M512.3 322.2h0M512.4 324.6h0M512.7 323.3h0M512 324.7h0M520.1 326.3h0M520.5 324.3h0M520.2 322.9h0M520.5 324.5h0M519.9 322.5h0M521.4 329.1h0M513.4 311.2h0M512.7 323.2h0M513.9 322.2h0M514.1 311.2h0M512.8 314.5h0M512.7 313.5h0M513.7 315.3h0M513.8 314.3h0M513.4 319.7h0M527.1 303.4h0M526.8 323.1h0M526.9 309.4h0M527 305.8h0M527 306h0M525.8 303.7h0" stroke="#1e2d5e" stroke-width="2.8" stroke-linecap="round"/>
<path d="M525.3 348.5 525.3 330.2 526.5 330.2 527.5 329.5 528.5 328.8 529.5 328.8 530.5 328.8 531.5 328.8 532.5 328.8 533.5 328.8 534.5 328.8 535.5 328.8 536.5 328.8 537.5 328.8 538.5 328.8 539.5 329.1 540.5 329.4 541.5 329.6 542.5 329.6 543.7 329.6 543.7 348.5Z" fill="#c58216"/>
<path d="M526.9 328.5h0M526.8 328.4h0M527.1 323.7h0M527.3 326.4h0M527.9 323.5h0M527.7 327.1h0M527.7 323.1h0M527.9 325.7h0M528.3 327.7h0M528.9 325.6h0M528.7 321.8h0M528.9 324.8h0M529.3 325.1h0M529.3 321.2h0M529.6 326.5h0M529.9 324.1h0M529.9 328.5h0M530 327.5h0M530.9 323.7h0M530.6 326h0M531.5 328.2h0M531.1 314.4h0M531.2 324.9h0M531 326.6h0M531.3 324.1h0M531.6 323.9h0M532.1 325.3h0M532.6 317.1h0M532.6 328.6h0M533.6 324.5h0M534.3 326.6h0M534.4 319.8h0M534.3 328.3h0M534.3 316.9h0M534.1 324.2h0M534.8 328.8h0M535.3 328.1h0M535.4 326.7h0M535.2 322h0M535.6 327.7h0M535.6 310.1h0M535.6 324.9h0M536.2 323.1h0M536.4 325.8h0M537.5 328.3h0M537 323.6h0M537.6 327.8h0M537.6 326.1h0M538 327.4h0M538.3 322.7h0M538.1 325.5h0M539 329h0M539.1 322.2h0M539.4 325.8h0M539.7 327.7h0M540.5 320.2h0M540.3 324.4h0M540.4 326.5h0M540.5 318.7h0M540.8 329.2h0M541.2 327.5h0M541.2 321.6h0M541.8 326.7h0M541.8 326.9h0M542 328.8h0M542.5 328.7h0M539.9 321.5h0M540.3 319.2h0M540.4 317h0M540 322.7h0M540.4 321.3h0M540.5 324.4h0M540.2 320.1h0M540.5 325.7h0M540.9 317.9h0M526.9 325h0M526.8 324.6h0M526.8 326.5h0M527.8 324.4h0" stroke="#c58216" stroke-width="2.8" stroke-linecap="round"/>
<path d="M541.3 348.5 541.3 329.6 542.5 329.6 543.5 329.9 544.5 330.2 545.5 330.2 546.5 330.2 547.5 330.2 548.5 330.2 549.5 330.2 550.5 330.2 551.5 330.2 552.5 330.2 553.5 330.2 554.5 330.2 555.5 329.9 556.5 329.9 557.5 329.6 558.5 329.4 558.6 329.4 559.8 329.4 559.8 348.5Z" fill="#1e2d5e"/>
<path d="M542.7 327.9h0M543.2 328.5h0M543.6 329.6h0M543.6 309.6h0M543.8 327.3h0M544.3 326.5h0M544 326.1h0M544.3 329.8h0M544.5 309.9h0M544.8 323h0M545.2 317.3h0M545.1 312h0M545.8 330h0M546.3 324.5h0M546.7 330h0M546.6 309.9h0M547.3 325h0M547.2 325.8h0M547.4 325.1h0M547 330h0M547.6 330h0M547.8 325.9h0M548.3 329.7h0M548.4 326.2h0M548.4 327.4h0M548.8 327.2h0M549 315.1h0M549.4 326.1h0M549.3 329.7h0M549.8 323.2h0M549.8 326.6h0M549.7 324h0M550.7 325.5h0M551.3 329.9h0M552.2 327.3h0M553.1 330h0M553.4 329.9h0M553.4 329.6h0M553.3 325.8h0M553.1 328.9h0M553.5 321.4h0M554.4 328.4h0M554.3 327.3h0M555.3 329.3h0M555.7 329.5h0M555.5 316.5h0M556.1 327h0M556.5 329.6h0M556.7 318.5h0M556.5 320.2h0M557.3 328.2h0M557.2 324.4h0M557.5 324.7h0M557.2 329.6h0M557.2 328.3h0M557.5 328.2h0M557.7 319.3h0M545.8 320.5h0M545.6 317.7h0M546.4 321h0M547.4 321.4h0M547.4 319h0M548.6 322h0M548.3 319h0M548.3 317.2h0M548 323.9h0M547.7 321.7h0M547 318.4h0M547.8 321.6h0M548.2 323.8h0M546.7 322.9h0M547.9 318.5h0M548.2 324.2h0" stroke="#1e2d5e" stroke-width="2.8" stroke-linecap="round"/>
<path d="M557.4 348.5 557.4 329.4 558.6 329.4 559.6 329.1 560.6 328.8 561.6 328.8 562.6 328.8 563.6 328.8 564.6 328.8 565.6 328.8 566.6 328.8 567.6 328.8 568.6 328.4 569.6 328.4 570.6 328 571.6 327.5 572.2 327.5 573.4 327.5 573.4 348.5Z" fill="#c58216"/>
<path d="M558.6 327.8h0M559.2 328.2h0M559.2 324h0M559.3 318.5h0M559.2 322.6h0M560 328.4h0M560.5 323.4h0M560.9 323.9h0M561.1 322.9h0M561.1 326.5h0M562.2 320.4h0M562.6 328.5h0M564 317.2h0M563.8 324.8h0M564.5 323.3h0M564.1 328.2h0M564.3 322.8h0M564.5 325.7h0M564.8 328.3h0M565.5 317.8h0M565.3 327.5h0M565.6 325.9h0M566.1 327.8h0M566.4 328.5h0M566.3 328.5h0M567.1 320.9h0M567.1 312.5h0M567.4 328.5h0M568.3 327.8h0M568.7 323.6h0M569.9 327.7h0M570 326.7h0M570.4 313.5h0M570.2 323.2h0M570.7 324h0M570.8 322.1h0M570.7 324h0M571.6 326.2h0M571.9 326h0M571.9 327.3h0M564.5 321.7h0M564.8 322.2h0M564.7 320.1h0M566.7 318.5h0M567.1 321.7h0M566.5 321.6h0M565.9 321.8h0M566.1 323.1h0" stroke="#c58216" stroke-width="2.8" stroke-linecap="round"/>
<path d="M571 348.5 571 327.5 572.2 327.5 573.2 327.1 574.2 326.6 575.2 326.6 576.2 326.6 577.2 326.6 578.2 326.6 579.2 326.4 580.2 326.4 581.2 326.2 582.2 326 582.7 326 583.9 326 583.9 348.5Z" fill="#1e2d5e"/>
<path d="M572.4 325h0M572.4 327.1h0M572.8 319.1h0M573.4 322.8h0M573.8 325.5h0M574.1 324.2h0M574.6 326.4h0M574.6 315h0M575.1 324.9h0M575.5 325.4h0M575.5 325.3h0M575.5 304.7h0M576.1 324h0M576 321h0M576.3 323.4h0M577.2 323.3h0M577.7 324.7h0M577.5 322.7h0M578.1 323.7h0M577.9 323.2h0M578.6 325h0M578.3 324.6h0M578.6 323.8h0M579.1 314.9h0M579.1 322.5h0M579.5 325.7h0M581.8 321h0M582 324.9h0M582.6 324.7h0M573 324h0M571.7 319.2h0M572.7 323h0M572.1 320.1h0M582.4 316.3h0M582.9 304.7h0M581.8 304.7h0M582.2 319.1h0M582.2 308.7h0" stroke="#1e2d5e" stroke-width="2.8" stroke-linecap="round"/>
<path d="M581.5 348.5 581.5 326 582.7 326 583.7 325.8 584.7 325.6 585.7 325.6 586.7 325.6 587.7 325.6 588.7 326.3 589.7 327.1 590.7 327.9 591.5 327.9 592.7 327.9 592.7 348.5Z" fill="#c58216"/>
<path d="M582.9 321.3h0M582.9 324.8h0M583.7 323.7h0M583.7 320.7h0M583.6 314.6h0M583.9 325.4h0M584.6 323.6h0M585.5 319.9h0M585.7 316.8h0M585.3 322.2h0M586.6 325.3h0M586.3 312.5h0M587.1 319.3h0M587.1 324h0M586.8 325h0M587.4 323.2h0M587.5 322h0M587.4 323.8h0M587.9 322.5h0M588.2 324.1h0M587.9 325.4h0M588.8 325h0M589.6 319.9h0M589.3 326.8h0M589.9 321.3h0M590 326.3h0M590 318.5h0M590.1 325.4h0M590.5 321.5h0M591 327.8h0M591.5 326.3h0M591.5 321.2h0M584.7 306.2h0M584.8 305.2h0M585.7 310.3h0M584.7 308.1h0M584.6 311.9h0M584.8 308.5h0M585 314.8h0M584.8 307.9h0M585.5 311.9h0" stroke="#c58216" stroke-width="2.8" stroke-linecap="round"/>
<path d="M590.3 348.5 590.3 327.9 591.5 327.9 592.5 328.7 593.5 329.5 594.5 329.5 595.5 329.5 596.5 329.5 597.5 328.7 598.5 328.7 599.5 327.8 600.5 327 600.7 327 601.9 327 601.9 348.5Z" fill="#1e2d5e"/>
<path d="M591.9 324.5h0M592.3 327.5h0M592 327.9h0M592.2 326.5h0M592.6 327.2h0M593.2 329.1h0M593.1 328.9h0M593.9 319.5h0M594 320.6h0M594.2 326.1h0M594.7 327.8h0M594.6 320.2h0M594.9 328.7h0M595.7 326.2h0M595.7 322h0M595.7 328.8h0M596.1 329h0M596.8 328.1h0M597.1 326.5h0M597.5 328.6h0M597.2 329.3h0M598 324.7h0M597.8 324.9h0M597.9 328.1h0M598.3 322.7h0M598.2 327.5h0M598.5 326.7h0M598.3 326.5h0M598.6 327.1h0M598.6 320.4h0M599 327h0M598.8 326.5h0M598.7 316.3h0M599.3 320.9h0M599.1 325.7h0M600 319.3h0M598 313.8h0M597.8 322.8h0M598.7 320.4h0M598.9 315.1h0M598.5 314.3h0M598.9 315.2h0" stroke="#1e2d5e" stroke-width="2.8" stroke-linecap="round"/>
<path d="M599.5 348.5 599.5 327 600.7 327 601.7 326.1 602.7 325.3 603.7 325.3 604.7 325.3 605.7 325.3 606.7 326 607.7 326.7 608.7 327.4 609.7 327.4 609.8 327.4 611 327.4 611 348.5Z" fill="#c58216"/>
<path d="M602.2 325.2h0M601.9 324.1h0M602.4 322.9h0M603.2 319.8h0M602.8 314.7h0M603.1 319.7h0M602.8 324.7h0M603.4 309.2h0M604.5 306.8h0M604.3 324h0M605.1 319.9h0M605.2 323.2h0M606 324.9h0M606.3 323.3h0M606.3 324.6h0M606.9 318.5h0M606.8 325.3h0M607.5 319.8h0M607.5 322.1h0M608 322.7h0M608.1 324.2h0M607.9 326.1h0M608.2 323.7h0M608.8 325.9h0M609.2 321.7h0M601.4 320.3h0M600.9 320.4h0M600.9 314.1h0M602.2 316.4h0M601.4 314.7h0M602.3 316.4h0M601.9 315.5h0M601.5 317h0M601 319.5h0" stroke="#c58216" stroke-width="2.8" stroke-linecap="round"/>
<path d="M608.6 348.5 608.6 327.4 609.8 327.4 610.8 328.1 611.8 328.8 612.8 328.8 613.8 328.8 614.8 328.8 615.8 329.5 616.8 330.2 617.4 330.2 618.6 330.2 618.6 348.5Z" fill="#1e2d5e"/>
<path d="M609.8 326.6h0M609.9 323.5h0M610.6 320.1h0M610.3 326.1h0M612.2 328.5h0M612.7 328.6h0M613.2 328.6h0M613.7 317.7h0M613.5 328.3h0M613.5 328.8h0M613.4 326.9h0M613.9 325.1h0M613.9 325.8h0M615.3 325.4h0M615.7 328.8h0M616.1 326.2h0M616.7 329.6h0M617.2 326.8h0M617.3 327.8h0M617.2 324.3h0M617.1 329.9h0M617.3 328.1h0M611.6 319.4h0M610.8 319.8h0M610.7 323.2h0M611.1 322h0M610.6 322.7h0M611.4 318.8h0M614.8 322.8h0M614.2 324.3h0M615.2 321.9h0M615.1 320.8h0M615.5 321.7h0" stroke="#1e2d5e" stroke-width="2.8" stroke-linecap="round"/>
<path d="M616.2 348.5 616.2 330.2 617.4 330.2 618.4 330.8 619.4 331.5 620.4 332.1 621.4 332.1 622.4 332.1 623.4 331 624.4 329.9 624.7 329.9 625.9 329.9 625.9 348.5Z" fill="#c58216"/>
<path d="M617.5 326.9h0M618.2 330h0M618.6 330.4h0M618.6 330.1h0M618.5 330.5h0M619 330.5h0M619.4 329.2h0M619.5 329.4h0M619.4 329.1h0M619.4 327.9h0M619.8 330.7h0M620.2 328.6h0M620.1 319h0M620.2 330.7h0M620.7 331.1h0M620.9 325.3h0M621 322.1h0M621 325.3h0M621.1 309.9h0M621.2 331.9h0M621.6 331.5h0M621.5 329.4h0M621.5 320.8h0M622.1 325.8h0M622.7 323.8h0M623.4 318.6h0M623.6 316.8h0M624.4 322.4h0M624.5 322.7h0M617.2 317.7h0M617.3 315.5h0M617.2 315.2h0" stroke="#c58216" stroke-width="2.8" stroke-linecap="round"/>
<path d="M623.5 348.5 623.5 329.9 624.7 329.9 625.7 328.8 626.7 327.7 627.7 326.6 628.7 326.6 629.7 326.6 630.2 326.6 631.4 326.6 631.4 348.5Z" fill="#1e2d5e"/>
<path d="M625 327.8h0M625.4 320.9h0M626.1 328.6h0M626 328.6h0M626.3 315.8h0M626.7 327h0M626.3 324h0M626.5 323.6h0M626.3 322.7h0M627.1 325.9h0M627 327.1h0M626.8 326.4h0M626.9 326.9h0M627.4 327.2h0M627.6 324.8h0M627.6 327.7h0M627.3 318.9h0M627.4 326.8h0M627.8 325.2h0M628.1 324.6h0M628.2 325h0M628.3 323.4h0M628.6 319.8h0M629.1 323.4h0M628.8 324.9h0M629 326.4h0M628.8 302.8h0M629.2 325.3h0M629.3 322.6h0M629.6 323h0M629.4 324.9h0M629.2 315.7h0M629.9 324.4h0M629.8 320.7h0M629.6 317.3h0M629 318.5h0" stroke="#1e2d5e" stroke-width="2.8" stroke-linecap="round"/>
<path d="M629 348.5 629 326.6 630.2 326.6 631.2 326.6 631.3 326.6 632.5 326.6 632.5 348.5Z" fill="#c58216"/>
<path d="M630.7 320.3h0M630.7 314.4h0M631 322.6h0" stroke="#c58216" stroke-width="2.8" stroke-linecap="round"/>
<path d="M630.1 348.5 630.1 326.6 631.3 326.6 632.3 326.6 633.3 326.2 634.3 325.8 635.3 325.4 635.5 325.4 636.7 325.4 636.7 348.5Z" fill="#1e2d5e"/>
<path d="M631.5 324.6h0M632.1 309.1h0M632.4 325.3h0M632.5 324.3h0M632.5 321.1h0M633.1 325.4h0M632.8 321.8h0M633.2 310.8h0M633.3 323.9h0M634.2 319.8h0M634.3 325.7h0M634.1 318.9h0M634.3 314.4h0M634.3 324.1h0M635.2 321.8h0M635.1 317.5h0M634.9 323.4h0M634.3 315.9h0M633.7 321.5h0M634.4 321.1h0M634.5 321.2h0M633.5 321.9h0M634 318.8h0M633.7 318.9h0M633.7 319.9h0" stroke="#1e2d5e" stroke-width="2.8" stroke-linecap="round"/>
<path d="M634.3 348.5 634.3 325.4 635.5 325.4 636.5 325 637.5 325 638.5 325 639.5 325.4 640.5 325.8 640.7 325.8 641.9 325.8 641.9 348.5Z" fill="#c58216"/>
<path d="M635.6 314.6h0M636 323h0M635.7 324h0M636.1 324.1h0M636.8 322.4h0M637.1 305.8h0M637.2 324.3h0M637.2 321.2h0M637.4 318.7h0M637.9 323.1h0M637.8 318.6h0M638.1 312.7h0M638.4 322.7h0M638.5 322.7h0M639 322.2h0M638.8 323.6h0M639.2 324.1h0M639.2 320h0M639.4 319.8h0M639.4 322.2h0M639.8 325.1h0M639.9 325.1h0M639.6 319.5h0M639.8 318.7h0M640.2 321.9h0M640.5 320.9h0M640.3 323.2h0M640.7 320.4h0" stroke="#c58216" stroke-width="2.8" stroke-linecap="round"/>
<path d="M639.5 348.5 639.5 325.8 640.7 325.8 641.7 326.2 642.7 326.3 643.7 326.1 644.7 325.8 645.2 325.8 646.4 325.8 646.4 348.5Z" fill="#1e2d5e"/>
<path d="M640.9 323.7h0M642.1 324.8h0M642.1 320.2h0M642.4 324h0M643 317.5h0M643.1 321.3h0M643.6 324.4h0M643.4 324.8h0M643.7 323.8h0M643.9 325.7h0M644 323h0M643.7 318h0M644.4 320.3h0M644.4 323.3h0M644.5 322h0M644.5 325.4h0M644.2 322.8h0M645 301.8h0M645.1 325.6h0" stroke="#1e2d5e" stroke-width="2.8" stroke-linecap="round"/>
<path d="M644 348.5 644 325.8 645.2 325.8 646.2 325.6 647.2 325.3 648.2 325.3 649.2 325.6 650.2 325.6 651.2 325.8 651.4 325.8 652.6 325.8 652.6 348.5Z" fill="#c58216"/>
<path d="M646.2 319.3h0M646 321h0M645.8 325.3h0M647.1 323.6h0M647 320.6h0M647.3 322h0M647.5 312.7h0M648.3 324.5h0M648.7 323.4h0M649.6 317.9h0M650 307.5h0M650.1 319.7h0M649.8 325.2h0M650.5 322.9h0M650.2 322.3h0M650.7 325.2h0M650.4 325.6h0M650.7 318.9h0M651 325.4h0M647.2 308.7h0M647.5 311.9h0M646 311.3h0M647 321.5h0" stroke="#c58216" stroke-width="2.8" stroke-linecap="round"/>
<path d="M650.2 348.5 650.2 325.8 651.4 325.8 652.4 326.1 653.4 326.3 654.4 326.6 654.6 326.6 655.8 326.6 655.8 348.5Z" fill="#1e2d5e"/>
<path d="M651.5 324.9h0M651.5 323.9h0M651.4 321.4h0M651.8 320.6h0M652.1 325.8h0M652.8 322.9h0M652.4 325.6h0M653.3 326.3h0M654.4 320.8h0M654.2 324.6h0M654.4 321.1h0M654.5 317.2h0" stroke="#1e2d5e" stroke-width="2.8" stroke-linecap="round"/>
<path d="M653.4 348.5 653.4 326.6 654.6 326.6 655.6 326.6 656.6 326.6 656.7 326.6 657.9 326.6 657.9 348.5Z" fill="#c58216"/>
<path d="M654.9 320.9h0M654.9 323.8h0M655.3 325h0M655.2 313.6h0M655.9 325.9h0M655.7 325.7h0M655.8 326.1h0M655.7 309.4h0M656.2 326.6h0" stroke="#c58216" stroke-width="2.8" stroke-linecap="round"/>
<path d="M655.5 348.5 655.5 326.6 656.7 326.6 657.7 326.6 658.7 326.6 659 326.6 660.2 326.6 660.2 348.5Z" fill="#1e2d5e"/>
<path d="M657 315.4h0M657.6 326.4h0M657.5 325.4h0M657.3 326.3h0M657.7 326.4h0M658.5 325.9h0M658.6 324.8h0M658.5 315.3h0M658.8 315.2h0M657.9 319.5h0M658.2 320.4h0M659.4 318.1h0M659.1 319.8h0M659.4 317.7h0M658.3 320.1h0M658.4 319.1h0M659.3 320.6h0M658 323.3h0" stroke="#1e2d5e" stroke-width="2.8" stroke-linecap="round"/>
<path d="M657.8 348.5 657.8 326.6 659 326.6 660 326.6 661 326.6 662 326.6 662.5 326.6 663.7 326.6 663.7 348.5Z" fill="#c58216"/>
<path d="M659.1 314.2h0M659.5 319.7h0M659.9 321.6h0M660.8 325.9h0M660.5 324.3h0M660.6 325.1h0M660.7 326.2h0M661.1 322.5h0M661.1 324.3h0M662.3 324.8h0M662.3 319.2h0M661.6 317.6h0M661.7 321.2h0M661.7 320.6h0M662 317h0M662.9 320.1h0M662.3 319.3h0M662.6 315.3h0M662.2 321.8h0" stroke="#c58216" stroke-width="2.8" stroke-linecap="round"/>
<path d="M661.3 348.5 661.3 326.6 662.5 326.6 663.5 326.6 664.3 326.6 665.5 326.6 665.5 348.5Z" fill="#1e2d5e"/>
<path d="M662.6 325.4h0M663.4 323.8h0M663.4 318.6h0M663.6 326.4h0M664 326.2h0M664.3 325.1h0" stroke="#1e2d5e" stroke-width="2.8" stroke-linecap="round"/>
<path d="M663.1 348.5 663.1 326.6 664.3 326.6 665.3 326.6 666.3 326.6 666.6 326.6 667.8 326.6 667.8 348.5Z" fill="#c58216"/>
<path d="M665.3 320.5h0M665.2 320.8h0M665.5 314.7h0M665.6 325.1h0M666 324.9h0M665.8 326.4h0M666.1 325.3h0" stroke="#c58216" stroke-width="2.8" stroke-linecap="round"/>
<path d="M665.4 348.5 665.4 326.6 666.6 326.6 667.6 326.6 668.6 326.6 669.2 326.6 670.4 326.6 670.4 348.5Z" fill="#1e2d5e"/>
<path d="M666.8 326.5h0M667 325.7h0M667 326.3h0M667.2 321.1h0M667.2 323.8h0M667.6 320.7h0M667.2 315.3h0M667.3 324h0M667.2 325.2h0M668.2 323.7h0M668.6 317.3h0M668.5 325.2h0M668.6 315.8h0M668.3 324.7h0M668.8 310.2h0M669.1 326.1h0M668.6 320.9h0M667.6 321.7h0M667.9 315.4h0M668.4 322.5h0M668.7 318.3h0M668.7 317.9h0M668.1 319.9h0M667.7 312.3h0M667.6 321.1h0M668.5 314.4h0" stroke="#1e2d5e" stroke-width="2.8" stroke-linecap="round"/>
<path d="M668 348.5 668 326.6 669.2 326.6 670.2 326.6 671.2 326.6 672.4 326.6 672.4 348.5Z" fill="#c58216"/>
<path d="M669.6 321.8h0M670.3 321.8h0M670.7 315.5h0M670.8 324.4h0" stroke="#c58216" stroke-width="2.8" stroke-linecap="round"/>
<path d="M316.1 277.3h0M457.2 286.1h0M447.9 291h0M282.2 295.6h0M263 302.2h0M256.8 305.8h0M277.5 304.6h0M316.5 297h0M329.5 297h0M329.5 301.8h0M319.5 303.3h0M324 304.5h0M289.2 306.4h0M417.5 297.1h0M420.7 295.4h0M505.3 299.3h0M641.9 293.4h0M663.5 302.8h0" stroke="#1e2d5e" stroke-width="2.8" stroke-linecap="round"/>
<path d="M492.6 266.1h0M492.6 274.7h0M492.6 288h0M492.6 293h0M492.6 297h0M492.8 301h0M492.4 305h0M492.6 309h0M645.6 268.6h0M398.4 295.3h0M344.8 305.1h0M368.7 305.1h0M392.3 305.1h0M533.7 292.1h0M537.9 303.3h0M637.3 296.5h0M637.8 301h0M600.7 304.5h0M669.5 303h0" stroke="#c58216" stroke-width="2.8" stroke-linecap="round"/>
<line x1="239.6" y1="269.3" x2="684" y2="269.3" stroke="#e8645a" stroke-width="1"/>
<line x1="239.6" y1="286.4" x2="684" y2="286.4" stroke="#8cc96a" stroke-width="1"/>
<line x1="239.6" y1="551.6" x2="239.6" y2="419.8" stroke="#8a8a8a" stroke-width="0.9"/>
<line x1="237.0" y1="551.5" x2="239.6" y2="551.5" stroke="#8a8a8a" stroke-width="1"/>
<text transform="translate(234.5,555) scale(1,1.1)" font-size="8.8" text-anchor="end" fill="#222">0</text>
<line x1="237.0" y1="525.5" x2="239.6" y2="525.5" stroke="#8a8a8a" stroke-width="1"/>
<text transform="translate(234.5,528.6) scale(1,1.1)" font-size="8.8" text-anchor="end" fill="#222">2</text>
<line x1="237.0" y1="498.5" x2="239.6" y2="498.5" stroke="#8a8a8a" stroke-width="1"/>
<text transform="translate(234.5,502.3) scale(1,1.1)" font-size="8.8" text-anchor="end" fill="#222">4</text>
<line x1="237.0" y1="472.5" x2="239.6" y2="472.5" stroke="#8a8a8a" stroke-width="1"/>
<text transform="translate(234.5,475.9) scale(1,1.1)" font-size="8.8" text-anchor="end" fill="#222">6</text>
<line x1="237.0" y1="446.5" x2="239.6" y2="446.5" stroke="#8a8a8a" stroke-width="1"/>
<text transform="translate(234.5,449.6) scale(1,1.1)" font-size="8.8" text-anchor="end" fill="#222">8</text>
<line x1="237.0" y1="419.5" x2="239.6" y2="419.5" stroke="#8a8a8a" stroke-width="1"/>
<text transform="translate(234.5,423.2) scale(1,1.1)" font-size="8.8" text-anchor="end" fill="#222">10</text>
<text transform="translate(221.6,504.7) rotate(-90)" fill="#222"><tspan x="0" y="0" font-size="9.0">&#8722;</tspan><tspan x="6.2" y="0" font-size="9.0">log</tspan><tspan x="18.9" y="1.3" font-size="5.8">10</tspan><tspan x="25.5" y="0" font-size="9.0">(</tspan><tspan x="28.9" y="0" font-size="9.0">p</tspan><tspan x="34.9" y="0" font-size="9.0">)</tspan></text>
<line x1="297" y1="552.5" x2="297" y2="554.5" stroke="#999" stroke-width="0.7"/>
<line x1="374.9" y1="552.5" x2="374.9" y2="554.5" stroke="#999" stroke-width="0.7"/>
<line x1="433.4" y1="552.5" x2="433.4" y2="554.5" stroke="#999" stroke-width="0.7"/>
<line x1="478.9" y1="552.5" x2="478.9" y2="554.5" stroke="#999" stroke-width="0.7"/>
<line x1="513" y1="552.5" x2="513" y2="554.5" stroke="#999" stroke-width="0.7"/>
<line x1="534.5" y1="552.5" x2="534.5" y2="554.5" stroke="#999" stroke-width="0.7"/>
<line x1="550.5" y1="552.5" x2="550.5" y2="554.5" stroke="#999" stroke-width="0.7"/>
<line x1="565.4" y1="552.5" x2="565.4" y2="554.5" stroke="#999" stroke-width="0.7"/>
<line x1="577.5" y1="552.5" x2="577.5" y2="554.5" stroke="#999" stroke-width="0.7"/>
<line x1="587.1" y1="552.5" x2="587.1" y2="554.5" stroke="#999" stroke-width="0.7"/>
<line x1="596.1" y1="552.5" x2="596.1" y2="554.5" stroke="#999" stroke-width="0.7"/>
<line x1="605.2" y1="552.5" x2="605.2" y2="554.5" stroke="#999" stroke-width="0.7"/>
<line x1="613.6" y1="552.5" x2="613.6" y2="554.5" stroke="#999" stroke-width="0.7"/>
<line x1="621.1" y1="552.5" x2="621.1" y2="554.5" stroke="#999" stroke-width="0.7"/>
<line x1="627.5" y1="552.5" x2="627.5" y2="554.5" stroke="#999" stroke-width="0.7"/>
<line x1="630.8" y1="552.5" x2="630.8" y2="554.5" stroke="#999" stroke-width="0.7"/>
<line x1="633.4" y1="552.5" x2="633.4" y2="554.5" stroke="#999" stroke-width="0.7"/>
<line x1="638.1" y1="552.5" x2="638.1" y2="554.5" stroke="#999" stroke-width="0.7"/>
<line x1="643" y1="552.5" x2="643" y2="554.5" stroke="#999" stroke-width="0.7"/>
<line x1="648.3" y1="552.5" x2="648.3" y2="554.5" stroke="#999" stroke-width="0.7"/>
<line x1="653" y1="552.5" x2="653" y2="554.5" stroke="#999" stroke-width="0.7"/>
<line x1="655.7" y1="552.5" x2="655.7" y2="554.5" stroke="#999" stroke-width="0.7"/>
<line x1="657.9" y1="552.5" x2="657.9" y2="554.5" stroke="#999" stroke-width="0.7"/>
<line x1="660.8" y1="552.5" x2="660.8" y2="554.5" stroke="#999" stroke-width="0.7"/>
<line x1="663.4" y1="552.5" x2="663.4" y2="554.5" stroke="#999" stroke-width="0.7"/>
<line x1="665.5" y1="552.5" x2="665.5" y2="554.5" stroke="#999" stroke-width="0.7"/>
<line x1="667.9" y1="552.5" x2="667.9" y2="554.5" stroke="#999" stroke-width="0.7"/>
<line x1="670.2" y1="552.5" x2="670.2" y2="554.5" stroke="#999" stroke-width="0.7"/>
<text transform="translate(296,561.2) scale(1,1.1)" font-size="8.8" text-anchor="middle" fill="#222">1</text>
<text transform="translate(372.9,561.2) scale(1,1.1)" font-size="8.8" text-anchor="middle" fill="#222">2</text>
<text transform="translate(432.2,561.2) scale(1,1.1)" font-size="8.8" text-anchor="middle" fill="#222">3</text>
<text transform="translate(479.2,561.2) scale(1,1.1)" font-size="8.8" text-anchor="middle" fill="#222">4</text>
<text transform="translate(511.9,561.2) scale(1,1.1)" font-size="8.8" text-anchor="middle" fill="#222">5</text>
<text transform="translate(534.3,561.2) scale(1,1.1)" font-size="8.8" text-anchor="middle" fill="#222">6</text>
<text transform="translate(550,561.2) scale(1,1.1)" font-size="8.8" text-anchor="middle" fill="#222">7</text>
<text transform="translate(565.4,561.2) scale(1,1.1)" font-size="8.8" text-anchor="middle" fill="#222">8</text>
<text transform="translate(587,561.2) scale(1,1.1)" font-size="8.8" text-anchor="middle" fill="#222">10</text>
<text transform="translate(604.7,561.2) scale(1,1.1)" font-size="8.8" text-anchor="middle" fill="#222">12</text>
<text transform="translate(628.2,561.2) scale(1,1.1)" font-size="8.8" text-anchor="middle" fill="#222">15</text>
<text transform="translate(648.2,561.2) scale(1,1.1)" font-size="8.8" text-anchor="middle" fill="#222">20</text>
<text transform="translate(667.6,561.2) scale(1,1.1)" font-size="8.8" text-anchor="middle" fill="#222">27</text>
<text transform="translate(461.6,571.9) scale(1,1.1)" font-size="8.8" text-anchor="middle" fill="#222">Chromosome</text>
<path d="M251.4 552.8 251.4 530.6 252.6 530.6 253.6 530.6 254.6 530.6 255.6 530.6 256.6 530.6 257.6 530.6 258.6 530.6 259.6 530.6 260.6 530.6 261.6 530.9 262.6 530.9 263.6 531.2 264.6 531.5 265.6 531.8 266.6 532.1 267.6 532.1 268.6 532.1 269.6 532.1 270.6 532.1 271.6 532.1 272.6 532.1 273.6 532.1 274.6 532.1 275.6 532.2 276.6 532.2 277.6 532.4 278.6 532.5 279.6 532.6 280.6 532.8 281.6 532.8 282.6 532.8 283.6 532.8 284.6 532.8 285.6 532.8 286.6 532.8 287.6 532.8 288.6 532.8 289.6 532.3 290.6 531.9 291.6 531.5 292.6 531.5 293.6 531.1 294.6 530.6 295.6 530.6 296.6 530.6 297.6 530.6 298.6 530.6 299.6 530.6 300.6 530.6 301.6 530.6 302.6 530.6 303.6 530.6 304.6 530.6 305.6 530.9 306.6 530.9 307.6 531.2 308.6 531.5 309.6 531.8 310.6 532.1 311.6 532.1 312.6 532.1 313.6 532.1 314.6 532.1 315.6 532.1 316.6 532.1 317.6 532.1 318.6 532.1 319.6 532.1 320.6 532.1 321.6 531.8 322.6 531.5 323.6 531.2 324.6 531.2 325.6 530.9 326.6 530.6 327.6 530.6 328.6 530.6 329.6 530.6 330.6 530.6 331.6 530.6 332.6 530.6 333.6 530.6 334.6 530.6 335.6 530.6 336.6 530.6 337.6 531.1 338.6 531.1 339.6 531.5 340.6 531.9 341.4 532.3 342.6 532.3 342.6 552.8Z" fill="#1e2d5e"/>
<path d="M253.1 530.2h0M252.9 528.2h0M252.9 530.5h0M253.1 527.8h0M253.3 529.4h0M253.4 530.3h0M253.7 530.5h0M254.2 524.2h0M254.4 510.4h0M254.6 518h0M255.3 518.5h0M255.2 523.3h0M255.3 528.2h0M255.8 529.7h0M256.6 529.9h0M256.8 527.4h0M257.1 528.7h0M257.5 527.7h0M258.1 530.1h0M257.8 515.1h0M258.4 528.7h0M258.5 528.8h0M259 528h0M258.7 529.3h0M258.9 523.2h0M258.7 524.2h0M259.1 520.1h0M259.1 528.4h0M259.6 527.1h0M260 508.5h0M260.5 529.7h0M260.5 530.5h0M260.9 529.8h0M261.3 526.3h0M261.7 521.8h0M262.8 528.8h0M263.3 516.7h0M263.6 530.5h0M264.2 530.2h0M266.1 530h0M265.6 531h0M266.5 528h0M266.2 529.1h0M267 527h0M266.7 530.2h0M267.2 530.6h0M267.2 512.6h0M267.2 529.1h0M267.1 531h0M268.5 532.1h0M268.4 528.2h0M268.3 532.1h0M268.4 527.4h0M268.7 531.7h0M269.5 527.3h0M269.7 531.3h0M270.1 531.5h0M269.6 523.6h0M270.4 531.3h0M270.7 527.9h0M271.1 530.7h0M272.1 527.5h0M272.1 526.4h0M272.5 528.7h0M272.8 527.3h0M273 531.9h0M273.7 527.3h0M274.4 521h0M274.5 527.5h0M274.7 527.1h0M274.9 525.6h0M274.9 514.3h0M275.3 532h0M275.9 522.2h0M276 531.9h0M275.9 528.6h0M276.3 531h0M276.5 528.2h0M276.6 531.8h0M276.2 529.4h0M276.3 531.8h0M276.7 526h0M277.7 520.1h0M277.8 531.2h0M278.2 507.6h0M278.2 530.8h0M279 531.5h0M278.9 530.2h0M280 528.6h0M280.1 525.5h0M280.8 525.7h0M280.8 532.7h0M281.5 531.9h0M281.3 532.7h0M281.7 530.8h0M281.7 528.8h0M281.8 530.3h0M282.1 531.5h0M281.6 530.6h0M282.5 530.4h0M283 531.9h0M283 532.6h0M282.8 526h0M282.6 532.3h0M283.8 531.3h0M283.6 532.6h0M284 532.3h0M283.9 527.5h0M284.2 532.7h0M284.7 531.8h0M284.8 532.3h0M286 531.9h0M285.8 526.4h0M286.1 532.7h0M287 530.2h0M287.3 531.3h0M287.3 529.5h0M287.6 531.2h0M287.9 530.6h0M288.4 528.7h0M288.3 532.1h0M288.3 518.7h0M288.3 532h0M289.1 532.1h0M288.9 517.4h0M289.3 525.9h0M290 530.2h0M289.7 532h0M290.5 530h0M290.1 530.7h0M290.3 531.7h0M290.8 530.9h0M290.8 531.7h0M290.9 524h0M291.3 527.9h0M291.4 526.3h0M291.7 531.1h0M292.6 523h0M292.8 530h0M293.4 528.9h0M293.1 520.3h0M293.2 529.8h0M293.6 527.2h0M293.9 525.2h0M293.8 526.4h0M293.7 530.3h0M294.1 523.7h0M294.6 520.9h0M294.5 528.4h0M294.4 529.4h0M294.8 526.2h0M295 529.7h0M295 517.2h0M295.2 526h0M295.1 525.9h0M295.2 523.3h0M295.5 528.9h0M295.5 529.3h0M295.4 527.5h0M296.4 529.9h0M296.4 525.2h0M296.3 529.6h0M296.5 530.5h0M297.3 528.8h0M297.7 528.7h0M297.7 527h0M298.1 525.3h0M298.4 523.8h0M298.9 530.3h0M298.7 529.6h0M299 528.9h0M300 527.6h0M300.5 529.7h0M301 529.9h0M300.9 522.4h0M301.3 524.5h0M302 523.8h0M301.9 529.8h0M302.2 524h0M302.2 527.5h0M302.1 528.6h0M302.7 529.3h0M303.8 526.3h0M303.9 527.6h0M304.1 527.4h0M303.8 509.2h0M304.4 529.7h0M304.8 527.9h0M304.9 519.3h0M305.3 529h0M306 529.9h0M305.8 519.8h0M305.7 526.2h0M306.6 527.3h0M306.4 524.9h0M307.3 525.1h0M307.3 527.5h0M307.4 528.6h0M307.9 521.5h0M308.1 525h0M308.6 528h0M308.2 516.6h0M309 531h0M308.9 527.7h0M309.7 531.2h0M309.9 530.4h0M309.9 526.6h0M310.5 528.7h0M310.9 523.2h0M311.2 531.4h0M311.2 519.6h0M311.2 530.4h0M312.1 517.3h0M311.8 530.4h0M312.3 522.7h0M313 519.2h0M312.6 518.3h0M313 531.2h0M312.7 528.1h0M312.9 527.7h0M313.5 523.9h0M314.9 522h0M314.6 529.2h0M316 530.3h0M316.4 529.1h0M316.6 527.2h0M316.2 528.6h0M316.4 524.7h0M316.9 532h0M316.8 527.1h0M317.6 527.7h0M318.1 529h0M317.9 529.3h0M318.5 531.2h0M319.1 526.9h0M319.4 528.8h0M319.3 529.5h0M319.6 531.5h0M319.6 527.7h0M319.7 531.5h0M320.5 531h0M320.2 531.5h0M321.1 528.7h0M321.2 530.1h0M321.8 530.6h0M322.3 526h0M322.9 531h0M323.2 527.8h0M323.5 524.2h0M323.3 516.1h0M323.6 523.3h0M323.7 527.9h0M323.9 525.7h0M324.6 527.9h0M324.9 530.3h0M324.7 524.7h0M325.3 527.1h0M325.3 528.2h0M325.9 521.1h0M326.6 502.9h0M326.1 526.1h0M326.4 528.9h0M326.5 529.1h0M327.1 528.1h0M327.6 523h0M328.6 526.4h0M328.8 519.7h0M329.9 530.6h0M330.5 527h0M330.6 522.1h0M330.2 526h0M331 528.3h0M330.9 530.4h0M331.5 523.5h0M331.3 530.6h0M331.3 513.9h0M332.1 524h0M332.9 530.1h0M333.5 530.2h0M333.1 528.1h0M335.1 523h0M334.6 518.1h0M334.7 530.2h0M335.1 526.6h0M335.3 528.1h0M336.1 529.5h0M335.8 526.8h0M336.6 529.4h0M336.5 528.6h0M336.4 522.3h0M337.7 529.5h0M338 517.5h0M337.8 530.5h0M337.6 527.5h0M338.6 528.3h0M338.4 528.5h0M338.3 526.2h0M339.1 528.1h0M339.1 523.8h0M338.7 526.1h0M339.3 525.2h0M339.8 523.1h0M340.4 531.1h0M302.6 526h0M303 527.8h0M302.3 525.5h0M301.8 520.3h0M302.7 524.3h0M309.1 516.5h0M309.1 521h0M307.9 510.1h0M308.4 511h0M308.1 524h0M309.2 520.4h0M308.9 509.6h0M308.3 518.5h0M271.7 524.5h0M271.8 524h0M271.6 525h0M271.5 524.7h0M270.6 523.9h0M270.8 528.8h0M288.4 522.4h0M288.8 525.2h0M287.9 526h0M339.6 527.8h0M339.6 523.6h0M340 523.7h0M340.6 523.8h0M319.4 524.2h0M319.5 523.5h0M318.8 527h0M319 524.5h0M318.9 523.9h0M318.8 524.3h0M319.2 526.3h0M318.8 525.7h0M318.8 525.7h0M281.6 527.8h0M281.6 523.2h0M281.4 522.3h0M281.7 524.7h0M281.8 525.9h0M282.5 521.5h0M262.4 516h0M262.8 520.5h0M263.5 523.5h0M263.6 509.8h0M262.3 525.2h0M263 508.7h0M263.2 520.6h0M305 521.6h0M306.1 514.8h0M305.5 516.6h0M304.6 517.2h0M305.4 511.7h0M304.7 522.3h0M305.8 518.1h0M305.8 512.5h0M305.6 510.9h0M276.6 525.4h0M276.3 522.7h0M276.5 527.4h0M277.4 525.2h0M276.6 527.2h0M277.7 524h0M295.2 513.3h0M295.3 519.1h0M295.8 504.9h0M296.1 507.9h0M295.2 506.1h0M294.8 520.5h0M295 509.5h0M321.6 510.2h0M322.5 515.6h0M321.5 527h0M322.5 520.9h0M332.1 518.9h0M333.1 520.6h0M332.6 519.3h0M307.1 521.9h0M306 517.4h0M307 524.3h0M306.9 518.1h0M306.3 522.1h0M306 520h0" stroke="#1e2d5e" stroke-width="2.8" stroke-linecap="round"/>
<path d="M340.2 552.8 340.2 532.3 341.4 532.3 342.4 532.3 343.4 532.8 344.4 532.8 345.4 532.8 346.4 532.8 347.4 532.8 348.4 532.8 349.4 532.8 350.4 532.8 351.4 532.8 352.4 532.8 353.4 532.8 354.4 532.8 355.4 532.8 356.4 532.8 357.4 532.8 358.4 532.8 359.4 532.8 360.4 532.8 361.4 532.8 362.4 532.8 363.4 532.8 364.4 532.8 365.4 532.8 366.4 532.8 367.4 532.8 368.4 532.8 369.4 532.8 370.4 533.4 371.4 533.4 372.4 534.1 373.4 534.8 374.4 535.5 375.4 536.2 376.4 536.2 377.4 536.2 378.4 536.2 379.4 536.2 380.4 536.2 381.4 535.5 382.4 535.5 383.4 534.8 384.4 534.1 385.4 533.4 386.4 532.8 387.4 532.8 388.4 532.8 389.4 532.8 390.4 532.8 391.4 532.8 392.4 532.8 393.4 532.8 394.4 532.8 395.4 532.8 396.4 532.8 397.4 532.8 398.4 532.8 399.4 532.8 400.4 532.8 401.4 532.8 402.4 532.8 403.4 532.8 404.4 532.8 405.4 532.3 406.4 531.9 407.4 531.5 408.3 531.5 409.5 531.5 409.5 552.8Z" fill="#c58216"/>
<path d="M341.4 525.3h0M341.7 524h0M341.9 530.1h0M342.2 530.9h0M342.5 522.6h0M342.9 526.7h0M343.1 528.6h0M344.2 523.9h0M344.1 530.2h0M344.5 531.3h0M344.5 531.4h0M345.2 531.8h0M345.3 528.4h0M345.8 532h0M346.1 528.2h0M346.4 528.5h0M346.3 528.3h0M346.3 519.3h0M346.2 531h0M346.4 527.8h0M346.9 526.5h0M346.9 532.2h0M347.1 532.1h0M346.9 531.8h0M347 518.1h0M347.8 519.1h0M347.6 527h0M347.6 532.4h0M347.8 528.3h0M347.6 531.3h0M347.8 524.8h0M348.2 532h0M348 531.5h0M348.4 530.8h0M349.2 527.3h0M349.8 521.7h0M349.6 513.3h0M350.1 530.6h0M350.5 530.7h0M351.2 516.4h0M351.3 532.2h0M351.7 529.2h0M352.4 532.3h0M351.9 528.2h0M352 528.7h0M352.6 532.5h0M352.6 532.6h0M353.2 525.9h0M353 531.2h0M353.5 525.9h0M354.6 531.2h0M354.7 532.1h0M355 531.9h0M355.5 526.5h0M356.5 532.5h0M356.6 522.9h0M357.2 527.2h0M357.5 527.6h0M358.2 532.7h0M358.2 530.8h0M358.6 530.7h0M358.6 531.9h0M358.9 530.9h0M359.7 531.4h0M359.8 532.1h0M360.4 531.9h0M360.1 526.1h0M360 532.4h0M361 519.4h0M361.5 528.3h0M361.6 529.1h0M361.4 532.5h0M361.6 531.3h0M362.2 526h0M362 531.7h0M362 532.3h0M361.9 532.3h0M362.3 530.1h0M362.4 531.8h0M363.4 531.3h0M363 523.4h0M363.5 519.5h0M363.4 531.1h0M363.7 532.5h0M363.6 525.9h0M363.4 528.5h0M363.8 530h0M363.7 531.6h0M363.9 531.4h0M364.4 529.9h0M364.1 531.8h0M364.2 531.3h0M363.9 532h0M364.2 531.1h0M364.9 531.7h0M365.2 518.9h0M365.1 525.6h0M365.4 522.6h0M366.3 531.5h0M366.2 531.9h0M366.8 527.3h0M366.9 527.5h0M367.3 531.2h0M367.4 528.5h0M368.3 528.4h0M368.3 532h0M368.7 530.8h0M369.2 527h0M369.9 519h0M371.3 529.4h0M371.3 532.8h0M371.4 528.3h0M371.4 522.4h0M371.6 532.9h0M372.3 532.7h0M371.9 533.6h0M372.4 528h0M372.5 533.6h0M372.6 532.3h0M372.9 531.6h0M372.9 534.2h0M373.1 525.1h0M373.8 534.1h0M374 518.3h0M374.3 528.8h0M374.6 534.2h0M374.5 529.8h0M375.4 522.4h0M375.8 524.6h0M376.2 525.7h0M376.6 533.9h0M376.5 530h0M376.6 535.6h0M377.1 533.4h0M377 518.9h0M378.2 535.9h0M378.4 533.9h0M378.1 534.2h0M378.6 534.8h0M378.8 528h0M379.8 529h0M379.9 531.2h0M380.3 532.9h0M380 528.5h0M379.9 533.9h0M380.5 532.2h0M381.2 526.2h0M381.6 533h0M381.6 534h0M382.4 531.4h0M382.6 528h0M382.7 534.5h0M383.1 533.2h0M382.9 533.5h0M383.6 532.7h0M383.5 529.8h0M384.2 530.8h0M384.2 531.7h0M383.9 521.6h0M384 529.4h0M384.7 533.2h0M385.3 527.3h0M385.2 530.4h0M385.3 533.3h0M385 533.2h0M386.3 531.3h0M387.1 532.3h0M388.1 531.5h0M388 527.4h0M388.7 531.6h0M388.8 524.5h0M389.2 526h0M389.8 528.9h0M389.8 527.1h0M389.6 532.3h0M390.9 531.2h0M390.6 522.9h0M390.6 530.3h0M391.3 528.1h0M391.6 532.4h0M392.4 531.8h0M392.2 527.3h0M392.7 525.8h0M392.7 532h0M392.9 527.2h0M392.8 512.6h0M393.8 513.6h0M393.4 520.3h0M393.6 531.2h0M393.5 529.9h0M394 528.6h0M394.5 529h0M395.2 522.6h0M395.1 528.1h0M395.3 526h0M395.4 529.6h0M395.7 529.5h0M395.5 530.1h0M396.1 532.5h0M396.6 517.4h0M396.4 532.1h0M396.6 531.9h0M397.2 527.7h0M397 525.6h0M397.2 526.9h0M397.4 526.7h0M398.4 532.4h0M398.8 525.5h0M398.7 529.6h0M399.2 526.3h0M398.9 526.4h0M399 528.2h0M399.6 529.8h0M400.1 525.6h0M400.1 528.3h0M400.6 527.8h0M401.1 526.8h0M401.3 529.6h0M401.1 525.7h0M401.8 530.2h0M401.9 532h0M403.5 530h0M403.7 528.5h0M404.1 530.1h0M404.6 525.9h0M404.9 531.5h0M404.8 528.6h0M405 527.6h0M405.8 530.7h0M405.8 529.9h0M405.9 528.7h0M406.2 524.8h0M406.3 531.3h0M406.5 531.2h0M407.9 530.6h0M407.7 530.7h0M408.2 526.9h0M408 512.6h0M387.4 514.5h0M387.8 517.1h0M388 502.4h0M388.4 502.3h0M387.5 525.8h0M388.1 515h0M388.8 505.7h0M357.3 506.2h0M357 519.6h0M356.9 523h0M356.4 522.3h0M357.5 514h0M357.4 525.4h0M356.9 517h0M357.2 509.6h0M357.5 505.1h0M368.6 528.5h0M367.7 524.8h0M368.7 529.1h0M404.8 523.5h0M404.8 526.2h0M405.5 523.5h0M405.6 526.6h0M405.4 524.8h0M405.5 523.9h0M406 528.8h0M405.7 522.6h0M347.6 519.8h0M347.4 521.2h0M347.3 512.7h0M347.8 512.4h0M406.9 525.4h0M406.6 526h0M406.8 527.1h0M406.5 525.8h0M406.2 529.2h0M406.8 524.1h0M407 521.3h0M406.7 525.5h0M366.2 526.6h0M367.2 523.6h0M367.5 518.8h0M367.2 517.1h0M366.3 516.2h0M404.6 526.8h0M404.6 525.2h0M404.5 522.5h0M358.2 521.5h0M358.7 521.7h0M359.5 525.5h0M359.3 522h0M358.7 526.9h0M359.3 524.6h0M358.3 529.5h0M359 523.9h0M358.2 524h0M360.5 523.7h0M360.7 527.4h0M360 525.8h0M360.3 526.3h0M360.5 525h0M360.1 530.1h0M360.2 524h0M367.2 524.9h0M366.7 528.6h0M366 527.1h0M367.5 524.7h0M366 529.9h0M367 529.8h0" stroke="#c58216" stroke-width="2.8" stroke-linecap="round"/>
<path d="M407.1 552.8 407.1 531.5 408.3 531.5 409.3 531.1 410.3 530.6 411.3 530.6 412.3 530.6 413.3 530.6 414.3 530.6 415.3 530.6 416.3 530.6 417.3 530.6 418.3 530.6 419.3 530.6 420.3 530.6 421.3 530.6 422.3 530.6 423.3 530.6 424.3 530.6 425.3 530.6 426.3 530.6 427.3 530.6 428.3 530.6 429.3 530.6 430.3 530.6 431.3 531.9 432.3 533.1 433.3 534.4 434.3 535.6 435.3 535.6 436.3 536.8 437.3 536.8 438.3 536.8 439.3 536.8 440.3 536.8 441.3 536.8 442.3 535.9 443.3 534.9 444.3 534 445.3 533 446.3 533 447.3 532.1 448.3 532.1 449.3 532.1 450.3 532.1 451.3 532.1 452.3 532.1 453.3 532.1 454.3 532.1 455.3 532.5 456.3 532.5 457.3 532.9 458.3 533.3 458.4 533.3 459.6 533.3 459.6 552.8Z" fill="#1e2d5e"/>
<path d="M408.7 524.3h0M408.6 516.9h0M409.1 511.4h0M409.3 530.7h0M409.1 528.2h0M409.3 517.9h0M409.2 530.1h0M410.7 527h0M410.8 530.5h0M410.5 528.4h0M411.4 530h0M411.3 523.4h0M411.3 529.5h0M411.9 530.5h0M412 526.5h0M411.9 529.1h0M412.9 527.2h0M413 520.5h0M413.5 525.2h0M413.5 525.6h0M414.2 528.4h0M414.3 524.7h0M414.5 525h0M415.3 523.8h0M415.8 530.2h0M416.5 525.1h0M416.8 525.2h0M417.2 528h0M417.3 524.3h0M417 526.6h0M417.1 526.2h0M417.5 530.4h0M417.6 524.7h0M417.8 516.7h0M418.4 520.7h0M418.7 529.7h0M418.6 527.7h0M418.8 530.3h0M418.7 524.4h0M419.3 524.7h0M419 526.9h0M419.8 527.4h0M419.8 527.9h0M420.5 527.8h0M421.3 523.6h0M421.1 530.5h0M420.9 528.8h0M421.9 529.7h0M422.1 530.5h0M422.6 516h0M423.2 523.3h0M423.1 529.4h0M423 527.2h0M423.4 530.2h0M423.7 524.7h0M423.7 525.8h0M423.4 520.9h0M424.1 530.2h0M424.7 529.5h0M425.2 519.3h0M425.1 529h0M425.6 525.3h0M425.3 528.3h0M425.4 526.1h0M425.8 522.3h0M426.3 526.5h0M426.2 528.6h0M426.6 519.9h0M427.2 520.5h0M427 525.5h0M427.1 527.7h0M427.5 529.3h0M428.1 525.4h0M428.6 528h0M428.4 529.7h0M428.9 526.9h0M429.2 524.3h0M429.9 528.8h0M430.3 524.7h0M430.1 529.4h0M430.2 527.3h0M430.7 528.6h0M430.9 506.5h0M431.4 531.7h0M432.6 526.9h0M432.7 528h0M432.7 531.4h0M432.8 521.4h0M433 531.8h0M434 533.4h0M434.2 528h0M434.4 529.2h0M434.6 534.2h0M434.6 534.9h0M435 534.7h0M435.2 533.7h0M436.1 534.4h0M436.2 535.2h0M436.2 516.7h0M436.2 535.8h0M436.3 536.4h0M436.9 531.8h0M437.4 535h0M437.8 534.8h0M437.8 531h0M438.1 535.8h0M439 523.9h0M439.1 531.9h0M439.6 532.1h0M439.4 530.4h0M439.5 533h0M439.8 524.2h0M439.9 532.4h0M440.3 536.1h0M440.6 535.3h0M441.2 527.2h0M441.7 520.2h0M441.7 524.3h0M441.9 524.5h0M441.9 534.7h0M442.1 534.4h0M442.6 531.5h0M442.4 535.8h0M442.5 535.4h0M442.6 531.4h0M444 532.7h0M444.1 531.5h0M444.3 533.8h0M444.6 532.3h0M444.6 523.7h0M444.7 529.8h0M445 529.6h0M445.3 531h0M445 529.5h0M445.1 524.3h0M445.3 533.1h0M445.7 525.7h0M445.4 521.4h0M445.4 529.3h0M445.4 532.6h0M446.6 528.8h0M446.9 531.3h0M447 527.6h0M447.6 529h0M447.5 527.2h0M447.5 529.7h0M448.3 530h0M448.5 532h0M448.3 532.1h0M449.5 530.8h0M449.6 529.8h0M449.4 530.1h0M449.4 531.8h0M449.7 527.4h0M449.8 530.7h0M450.4 521.2h0M450.5 530.2h0M450.7 531.8h0M452.3 530.1h0M452.1 529.4h0M452.7 524.8h0M453 527.2h0M453.5 524.5h0M453.4 526.8h0M454 521.5h0M453.8 530.5h0M454.8 523.4h0M455.1 527.9h0M455.2 530.3h0M455.1 530.9h0M456.7 530.6h0M456.3 520.1h0M457.1 528.1h0M457.3 529.3h0M457.1 531.3h0M457.3 532.6h0M458 511.3h0M458.1 528.8h0M457.9 527.6h0M457.9 527.3h0M441.4 525.2h0M441.9 523.5h0M440.9 528.4h0M442.2 527.7h0M441.2 524.3h0M411.7 523.2h0M411.2 523.1h0M410.9 525.3h0M410.4 525.2h0M410.4 522.8h0M411.2 525.1h0M411.7 525.3h0M410.4 523.8h0M429 523.3h0M429.3 521.8h0M428.7 521.7h0M428.8 522.6h0M428.2 522.8h0M427.8 522.3h0M429.3 523.7h0M449.3 505.2h0M450.3 519.8h0M450.2 523.6h0M429.1 522.1h0M429.2 525.1h0M428.8 523.7h0M428.9 522.2h0M428.9 522.9h0M429.6 524.5h0M429.8 527h0M428.4 522.1h0M429.7 523.3h0M430.8 527.5h0M430.9 523.9h0M430.5 525.6h0M430.2 525h0M430 524.1h0M430.1 521.4h0M430.1 525.9h0M409.5 520.5h0M408.5 521.4h0M409.5 517.4h0M409.2 520.7h0M408.4 517.7h0M408.8 521.1h0M409.4 523.1h0M408.5 527.3h0M408.8 521.1h0M426.9 523.5h0M427.2 523.8h0M427.9 523.3h0M426.8 522.7h0M436.2 512.7h0M436.1 510.1h0M435.4 528.2h0M435.3 514.5h0" stroke="#1e2d5e" stroke-width="2.8" stroke-linecap="round"/>
<path d="M457.2 552.8 457.2 533.3 458.4 533.3 459.4 533.7 460.4 534.1 461.4 534.1 462.4 534.1 463.4 534.1 464.4 534.1 465.4 534.1 466.4 534.1 467.4 534.1 468.4 533.8 469.4 533.5 470.4 533.3 471.4 533 472.4 533 473.4 532.8 474.4 532.8 475.4 532.8 476.4 532.8 477.4 532.8 478.4 532.8 479.4 532.8 480.4 532.3 481.4 532.3 482.4 531.9 483.4 531.5 484.4 531.1 485.4 530.6 486.4 530.6 487.4 530.6 488.4 530.6 489.4 530.6 490.4 530.6 491.4 530.6 492.4 530.6 493.4 530.6 494.4 530.6 495.4 530.6 496.4 531.5 497.4 532.3 498.4 533.2 499.4 534 500.6 534 500.6 552.8Z" fill="#c58216"/>
<path d="M458.5 521.7h0M458.4 532.5h0M458.8 531.1h0M458.7 532.2h0M459.2 531.5h0M459.2 529.3h0M459.3 522.7h0M459.5 525.3h0M460.2 513.6h0M460.9 533.7h0M461.5 517.6h0M461.7 531.2h0M462 532.6h0M463.3 531.5h0M463.2 529.3h0M463.2 529.7h0M462.9 533.2h0M463.5 529.9h0M464.2 532.4h0M464.3 533.8h0M464.1 526.5h0M464.7 533.7h0M465.8 532.4h0M465.7 533.3h0M466.3 522.1h0M466.6 532.2h0M466.6 523.8h0M467 510.9h0M467.9 520.3h0M467.8 533.7h0M468 530.8h0M468.4 526.5h0M468 531.2h0M468.5 528.5h0M468.6 532.4h0M468.8 533.1h0M469.2 532.7h0M469.1 531.2h0M469 528.4h0M469.5 527.7h0M469.5 533.3h0M469.8 529.5h0M469.7 533.1h0M469.6 531.7h0M469.8 532.8h0M469.6 523.6h0M470.4 530h0M470.6 531.2h0M470.7 532.2h0M470.7 532.8h0M470.5 533.2h0M471 528.2h0M471.4 529.9h0M471 529.5h0M471.6 527h0M471.7 532.7h0M471.8 530.5h0M472.3 532.7h0M472.4 529.5h0M471.9 532.7h0M472.7 526.8h0M472.8 525.1h0M473 532.7h0M473.8 526h0M473.8 531.6h0M474.3 528.4h0M474.9 532.5h0M474.5 529.4h0M474.8 531.9h0M475.1 525.1h0M475 530.5h0M475.3 532.1h0M475.3 530.7h0M475.4 532.3h0M475.5 526.1h0M476 531.5h0M475.9 530.7h0M476.8 530.6h0M476.8 525.5h0M477.3 530.5h0M477.1 528.5h0M477.6 524.1h0M479.4 526.3h0M479.7 525.6h0M481.3 527.3h0M482 506.2h0M482.4 526h0M482.7 516.9h0M482.6 531.9h0M483 519.5h0M483.1 527.6h0M483.4 530.4h0M483.4 525.7h0M484.2 529.9h0M484.4 530.5h0M483.9 524.7h0M484.7 525.5h0M485.2 524h0M485.1 528h0M486.3 530.5h0M486.2 530.4h0M487.1 530.5h0M487 529.1h0M487.9 529.1h0M488.7 522.9h0M489.9 528.5h0M490.7 527.6h0M491.7 521.3h0M491.6 530.5h0M491.6 518.1h0M491.7 523.9h0M492.1 526.7h0M492 527.7h0M492.3 528.4h0M492.7 530.4h0M493 528.9h0M493.9 521.7h0M493.5 526.5h0M494.1 525.8h0M494.2 525.9h0M494 527.8h0M494.1 525.3h0M494.8 524.2h0M495.2 526.6h0M495.5 526.9h0M496.8 529.3h0M497.3 529h0M497 523.5h0M496.9 531.6h0M498.5 531.2h0M498.5 530.8h0M498.5 531.3h0M498.9 529.1h0M499.4 528.2h0M482.9 527.5h0M481.8 528.2h0M481.9 526.5h0M482.7 525.8h0M479.3 511.9h0M478.4 515.2h0M478 515h0M466.5 529.8h0M466.1 518.9h0M466.2 527.3h0M465.8 515.7h0M465.7 525h0M495.8 526.1h0M495.1 521.9h0M495.5 521.2h0M497.3 517.7h0M496.7 512.4h0M496.9 516.5h0M461.8 526.3h0M461.1 528.7h0M461.1 529.3h0M462.1 528.3h0M460.9 531.1h0M461.9 526.6h0M461 530.1h0M472.9 520.6h0M472.4 517.5h0M472.6 522.1h0M472 517.3h0M471.8 524.1h0M487.5 529h0M491.8 496.6h0M491.7 525.2h0M496.6 519.1h0M492.6 496h0M491.3 526.8h0M494.1 512.1h0M496.4 523.6h0M492.7 505.2h0M495.3 528.1h0M492.7 495.9h0M492.2 500.5h0M492.8 505.4h0M491.6 517.2h0M490 521.7h0M496.5 519.8h0M493 504.1h0M493.9 510h0M487.7 521.2h0M495.8 526.7h0M492.3 500.6h0M490.2 522.3h0M492.9 504.1h0M492.6 497.9h0M487.2 518.7h0M489.8 533.6h0M492.8 504.1h0M492.5 495.6h0M492.3 499.6h0M492.5 506.3h0M492.9 509.9h0M492.7 500h0M493.6 513h0M490.8 523.6h0M487.4 530.3h0M492.4 502.3h0M493.6 530.9h0M494.4 533.2h0M498.7 534.7h0M493 507h0M490.6 533.1h0M488.9 532.1h0M493.1 503.8h0M492.4 496.2h0M493.6 514.2h0M492.5 498.6h0M492.6 504.9h0M492.8 505.4h0M493 509.8h0M489.2 523.8h0M491.6 522.7h0M499.1 524.3h0M491.7 519.9h0M492.5 495.8h0M494.1 521.1h0M492.5 507h0M492.9 505.7h0M495.8 517.5h0M492.6 497h0M494.2 509.2h0M497 519.7h0M493 498.5h0M492.6 498.4h0M492.4 497.8h0M492.6 503.6h0M498.8 532h0M492.9 505.3h0M493.1 508.5h0M492.2 496.4h0M492.7 495.7h0M488.9 529.9h0M489.5 517.7h0M492.2 504.8h0M494.8 518.2h0M492.8 499h0M493 509.3h0M488.7 520.1h0M492.7 495.1h0M490.5 517.3h0M492.9 495.6h0M492.6 509h0M494.2 525.1h0M492.3 521.7h0M492.6 511.9h0M494.1 519.4h0M494.2 510.3h0M496.2 522.9h0M492.3 503.3h0M492.5 504.9h0M492.9 510.6h0M495.4 521h0M492.4 529.5h0M495.9 524.8h0M493.9 525.7h0M485.2 528.1h0M492.6 496.7h0M497.5 531.4h0M491.9 507.8h0M492.8 501.4h0M492 497.7h0M492.1 495.7h0M495.7 526.1h0M493.1 499.6h0M492.6 510.4h0M495.6 525.5h0M483.3 528.2h0M492.6 500h0M491.8 497.2h0M491 516.1h0M492.8 515.7h0M492.7 497.8h0M492.8 504.7h0M488.1 534.5h0M497.5 533.2h0M491.1 516h0M490 518.9h0M493.2 521.8h0M492.1 498.3h0M492.8 506.5h0M495.8 513.9h0M492.7 498h0M492.4 495.2h0M495.6 526h0M492.8 495.6h0M499.1 529.7h0M498.9 530.3h0M492.2 501.8h0M493.4 500.7h0M492.4 504h0M492.3 498.4h0M493 522h0M493.2 511.9h0M490.9 513.7h0M493.7 510.9h0M492.5 509.5h0M492.7 504.6h0M491.9 515.9h0M492.4 504h0M492.5 503h0M492.6 506.9h0M492.8 532.4h0M486 527.4h0M492.5 513.8h0M492.5 506.6h0M490.9 511.8h0M492.5 504h0M493.5 509.7h0M493.2 518.8h0M492.3 507.5h0M497.4 520.3h0M492.3 512.4h0M492.4 504.7h0M491.8 514h0M492.9 514.6h0M491.9 507h0M495.7 522.8h0M491.8 509.2h0M490.3 527.5h0M492.7 499.5h0M485.6 532h0M494.6 530.6h0M491.7 510.2h0M494.9 522.7h0M494.3 526.2h0M492.2 499.6h0M491.5 514h0M494.9 515.1h0M495.7 532.6h0M492.6 504.2h0M498.6 525.2h0M491.4 519.6h0M492 514.2h0M491.7 522.7h0M492.8 498.2h0M492.3 498.5h0M489.1 520.6h0M490.2 516.1h0M492.5 500.2h0M492.2 522.3h0M492.4 497.3h0M492.3 505.6h0M492.4 500h0M495 524.3h0M490.8 520.8h0M493.6 526.6h0M492.2 519.4h0M492.7 495.2h0M492.6 502.1h0M490.9 530h0M493 500.7h0M490.8 513.8h0M493.7 518.6h0M492.1 497.9h0M493.3 505.2h0M489.9 512.7h0M493.1 504.1h0M492.3 501.3h0M494.6 517.8h0M492.9 497.8h0M489.5 531.9h0" stroke="#c58216" stroke-width="2.8" stroke-linecap="round"/>
<path d="M498.2 552.8 498.2 534 499.4 534 500.4 534 501.4 534.9 502.4 534.9 503.4 534.9 504.4 534.9 505.4 534.9 506.4 534.9 507.4 534.9 508.4 534.9 509.4 534.9 510.4 535.4 511.4 536 512.4 536.5 513.4 537.1 514.4 537.1 515.4 537.6 516.4 537.6 517.4 537.6 518.4 537.6 519.4 537.6 520.4 537.6 521.4 537.6 522.4 537.6 523.4 536.9 524.4 536.2 525.4 536.2 526.4 535.5 526.5 535.5 527.7 535.5 527.7 552.8Z" fill="#1e2d5e"/>
<path d="M499.5 533.3h0M500 532.9h0M500.3 533.1h0M500.8 532.3h0M500.8 530.7h0M500.8 532.3h0M500.9 518.6h0M501.4 533.6h0M501.4 530.9h0M501.9 532.9h0M502 531.9h0M502.8 534.4h0M502.4 526h0M503 531.3h0M503 526.2h0M502.9 529.9h0M503.6 533.8h0M503.6 532.3h0M503.8 527.1h0M504 532.7h0M504.3 533.8h0M504.7 533.3h0M504.7 522.6h0M504.6 533.1h0M505.2 529.8h0M505.7 530.5h0M505.7 534.6h0M506.1 534.5h0M506.5 526.4h0M506.4 532.1h0M506.8 534h0M506.7 527.6h0M506.9 525h0M507.7 534h0M507.9 529.3h0M507.8 515.8h0M507.9 522.8h0M508.2 523.6h0M508.6 534.5h0M508.5 532.5h0M509.2 523.5h0M509.7 533.8h0M510.7 535h0M510.9 533h0M511.3 527.1h0M511.5 533.7h0M512.3 522.2h0M512.6 535.7h0M512.6 535.5h0M513.4 535.3h0M513.3 535.2h0M513.6 536.2h0M513.7 531.4h0M514.5 534.6h0M514.6 536.1h0M514.7 533.4h0M515.2 534.9h0M515.4 537.1h0M514.9 537.4h0M515.4 533.6h0M515.7 536.4h0M515.7 525.4h0M515.7 532.1h0M516 537.2h0M516.7 537.2h0M516.7 530h0M516.4 524.3h0M516.7 536.1h0M517.2 537.5h0M516.9 533.7h0M517.1 537h0M517.1 537.5h0M517.8 536.5h0M517.4 532.4h0M517.9 537.3h0M518.4 531.9h0M518.4 532.6h0M518.8 536.9h0M519.1 508.1h0M519.5 533h0M519.8 528.8h0M519.5 533.4h0M520.6 536h0M520.7 534.9h0M521.1 527h0M521.3 534.7h0M521 535h0M521.6 534.7h0M521.9 537.5h0M522.6 536.6h0M522.5 518.9h0M522.8 536.9h0M522.9 527.5h0M523.7 535.9h0M523.7 535.7h0M523.5 535h0M524.3 529.7h0M524.3 534.7h0M525.2 529.6h0M525.7 535.4h0M525.5 534.6h0M526.2 528h0M526.1 503.6h0M526.3 532.4h0M526.1 535.4h0M526.2 534.9h0M526.3 526.3h0M526.4 535.1h0M508.8 530.4h0M508.1 529.4h0M508.5 526.6h0M509.4 530.6h0M509.5 527.2h0M509.4 529h0M508.5 527.9h0M509.6 526.5h0M519.9 524.7h0M519.9 522.5h0M520.1 516.6h0M520.1 521.9h0M519 523.7h0M519.5 515.1h0M518.7 516.3h0M519 526h0M519.1 521.4h0M499.5 519.1h0M500 521.3h0M499.9 522.8h0M499 525.7h0M519.7 527.9h0M520.4 526.8h0M521.1 531.8h0M521 530.7h0M519.9 533.9h0M519.8 530h0M520.3 531h0M521 530.9h0M520.9 531.8h0" stroke="#1e2d5e" stroke-width="2.8" stroke-linecap="round"/>
<path d="M525.3 552.8 525.3 535.5 526.5 535.5 527.5 534.8 528.5 534.1 529.5 534.1 530.5 534.1 531.5 534.1 532.5 534.1 533.5 534.1 534.5 534.1 535.5 534.1 536.5 534.1 537.5 534.1 538.5 534.1 539.5 534.1 540.5 534.1 541.5 534.1 542.5 534.1 543.7 534.1 543.7 552.8Z" fill="#c58216"/>
<path d="M526.8 528.5h0M526.5 532.6h0M528.8 529.5h0M528.6 527.7h0M528.9 528.6h0M529.4 521.5h0M529.1 527h0M529.5 533.1h0M529.8 534h0M529.9 530.6h0M530.2 528.7h0M530.8 521.4h0M531.2 531.4h0M531.7 532.9h0M531.9 526.8h0M531.8 527.7h0M532.2 531.7h0M532.1 526h0M532.6 531.5h0M533.2 531h0M533.2 532.8h0M533.2 527.8h0M533.2 531h0M534 529.7h0M534.5 525.5h0M535 530.1h0M535.2 532.8h0M535.3 518.7h0M535.4 531.7h0M535.6 526.3h0M535.6 528.6h0M535.5 528h0M536 529.9h0M536.2 533.8h0M537.1 530.4h0M537.3 522.7h0M537.6 516.9h0M538.1 529.1h0M540 533.8h0M540.1 533.6h0M541.2 534.1h0M541.1 529.8h0M541.1 534h0M541.4 532.1h0M541.1 532.7h0M541.8 529h0M542.2 530.8h0M542.4 534.1h0M542.4 528.3h0M542.2 525.5h0M542 517.8h0M536.8 528.8h0M536.3 525.3h0M537.6 523.5h0M537.1 530.7h0M536.9 528h0M536.8 527.9h0M537.2 523.1h0M536.4 523.3h0M537.2 526.4h0M536.8 525.3h0M538 520.1h0M536.6 524h0M537.9 518.1h0M537.2 519.1h0M537.2 522.7h0M529.2 516.1h0M530.3 525.9h0M530.7 528.9h0M529.3 522.1h0M529.6 531.4h0M529.3 516.8h0" stroke="#c58216" stroke-width="2.8" stroke-linecap="round"/>
<path d="M541.3 552.8 541.3 534.1 542.5 534.1 543.5 534.1 544.5 534.1 545.5 534.1 546.5 534.1 547.5 534.1 548.5 534.1 549.5 534.1 550.5 534.1 551.5 534.1 552.5 534.1 553.5 534.1 554.5 534.1 555.5 534.5 556.5 534.5 557.5 534.9 558.5 535.3 558.6 535.3 559.8 535.3 559.8 552.8Z" fill="#1e2d5e"/>
<path d="M542.7 527.3h0M542.8 530.4h0M542.5 529.9h0M542.5 533.6h0M543.3 521.2h0M543.4 530.2h0M543 531.1h0M543.6 525.7h0M543.8 519h0M544 531.7h0M543.7 532.2h0M544.1 532.5h0M544.5 530h0M544.2 533.5h0M544.8 523.5h0M545.2 520.3h0M545.5 531.1h0M545.2 525.7h0M545.5 525.2h0M546.2 523.2h0M546.9 514.2h0M547.3 528.9h0M549.4 528.9h0M549.8 531.1h0M550 523.4h0M549.7 531h0M550.2 531.7h0M550.7 523.6h0M550.6 525.5h0M550.9 533.1h0M551.4 530.9h0M551.1 533.5h0M551.3 532h0M551.9 530.7h0M551.8 530h0M551.6 533.9h0M551.5 533.8h0M552.3 519.9h0M553 530.9h0M553.1 534h0M553.9 532.6h0M553.7 530.1h0M553.7 528.8h0M554.3 533.9h0M554.1 530.7h0M554.3 532.9h0M554.9 522.1h0M554.7 520.7h0M555.4 523.2h0M555.4 527.5h0M555.8 528.9h0M556.1 526.3h0M556.1 525h0M556.1 529.6h0M556.9 530.7h0M556.9 526.9h0M557.3 534.2h0M557.9 533.1h0M558 533.3h0M557.7 532.9h0M557.8 528.8h0M550.5 528.2h0M550.1 526h0M551.1 529h0M551.3 525.8h0M550.2 525.6h0M550.3 525.3h0M550 530h0M551.3 529.7h0M550.1 528.3h0M554.6 516h0M553.7 521.6h0M553.3 513.4h0M553.5 528.1h0M545.8 519.8h0M545.2 524.2h0M546.1 528h0" stroke="#1e2d5e" stroke-width="2.8" stroke-linecap="round"/>
<path d="M557.4 552.8 557.4 535.3 558.6 535.3 559.6 535.8 560.6 536.2 561.6 536.2 562.6 536.2 563.6 536.2 564.6 536.2 565.6 536.2 566.6 536.2 567.6 536.2 568.6 535.8 569.6 535.8 570.6 535.3 571.6 534.9 572.2 534.9 573.4 534.9 573.4 552.8Z" fill="#c58216"/>
<path d="M559 531.3h0M559.6 533.2h0M559.1 532.6h0M559.7 534.2h0M561.5 531.9h0M561.2 536.1h0M561.5 533.6h0M561.5 533.7h0M561.7 531.7h0M561.7 532.5h0M561.9 534.8h0M561.7 530.8h0M562.1 535.6h0M562.5 530.6h0M563.9 529.7h0M564.5 522.9h0M564.3 521.6h0M564.6 535.4h0M565.4 534.4h0M565.6 532.7h0M566.3 530.1h0M566.8 532.9h0M566.8 534.3h0M567.8 531.3h0M568.5 533.5h0M568.9 531h0M569.3 535.6h0M569.5 533.9h0M569.5 533.3h0M569.4 533.1h0M570 521.3h0M569.7 521.6h0M569.9 534.6h0M570.4 534.9h0M570.9 524.5h0M570.6 519.2h0M571.2 530.7h0M571.3 533.1h0M571.3 530.2h0M571.3 530.9h0M571.8 528h0M565.2 519.8h0M565 525h0M565.2 528.5h0M565 530.9h0M564 532.1h0M564.2 518.8h0M564 527.9h0M564.2 523.2h0M569.8 526.4h0M569.5 532.8h0M570.5 524.4h0M569.3 523h0M570.1 526.7h0" stroke="#c58216" stroke-width="2.8" stroke-linecap="round"/>
<path d="M571 552.8 571 534.9 572.2 534.9 573.2 534.5 574.2 534.1 575.2 534.1 576.2 534.1 577.2 534.1 578.2 534.1 579.2 534.3 580.2 534.3 581.2 534.5 582.2 534.7 582.7 534.7 583.9 534.7 583.9 552.8Z" fill="#1e2d5e"/>
<path d="M572.4 532h0M572.9 527.7h0M572.7 533.1h0M573.1 530.9h0M573.5 534h0M574.1 533.6h0M574.7 532.4h0M574.6 527.8h0M574.8 533.7h0M575.2 532.9h0M575.3 526.4h0M576.3 534h0M576.4 524.8h0M577 530.7h0M577.1 528.7h0M577.7 527.8h0M578.4 523h0M578.4 525.1h0M578.3 533h0M578.9 531.6h0M579.4 517.4h0M579.3 532.6h0M580 530.3h0M581.7 526.9h0M581.3 534.1h0M581.8 525.5h0M582.5 532.8h0M574 530.1h0M574.1 517.5h0M574.8 527.7h0M573.7 517h0M575 522.5h0M574.8 527.9h0M574.6 518.6h0M574.6 519.7h0M574.3 514h0M575.2 514.6h0M574.2 517.2h0M575.3 521.3h0M574.5 518.3h0M574.2 524.9h0M574.7 523.8h0M575.2 519.8h0" stroke="#1e2d5e" stroke-width="2.8" stroke-linecap="round"/>
<path d="M581.5 552.8 581.5 534.7 582.7 534.7 583.7 534.9 584.7 535.1 585.7 535.1 586.7 535.1 587.7 535.1 588.7 534.5 589.7 533.9 590.7 533.3 591.5 533.3 592.7 533.3 592.7 552.8Z" fill="#c58216"/>
<path d="M582.8 534.1h0M582.8 530.2h0M582.8 515.9h0M583.8 529h0M584.1 533.2h0M584.7 532.2h0M584.9 519.4h0M584.8 526.5h0M585.7 534.9h0M585.3 529.6h0M585.9 533.9h0M585.8 523.3h0M586.6 534.3h0M586.4 529.8h0M587 530.6h0M587.2 517.7h0M587.5 533.3h0M587.5 523.6h0M587.7 532.2h0M587.8 534.6h0M588 528.9h0M587.8 529.3h0M589.1 531.4h0M588.8 528.1h0M589.1 530.6h0M589.1 533.3h0M589.6 526.9h0M591.1 529.8h0M590.8 529.7h0M591.4 525h0M590.3 526.1h0M590.6 526.6h0M591.2 523.2h0M591.3 530h0M588.6 524.9h0M587.5 525.5h0M588.3 524.4h0M588.4 531.1h0M588.2 529.1h0M588.4 524.9h0M588.3 524.4h0M587.4 531.8h0M587.3 524.5h0" stroke="#c58216" stroke-width="2.8" stroke-linecap="round"/>
<path d="M590.3 552.8 590.3 533.3 591.5 533.3 592.5 532.7 593.5 532.1 594.5 532.1 595.5 532.1 596.5 532.1 597.5 531.8 598.5 531.8 599.5 531.5 600.5 531.2 600.7 531.2 601.9 531.2 601.9 552.8Z" fill="#1e2d5e"/>
<path d="M591.7 531.3h0M592 525.3h0M592.4 524.8h0M592.4 531.5h0M592.3 531.9h0M592.7 531.7h0M592.6 520.6h0M593.4 529h0M593.1 516.6h0M593.8 529.9h0M593.9 530.4h0M594.4 524.3h0M594.9 532h0M594.6 529.9h0M595.4 529.9h0M595.4 525.8h0M596.3 531.5h0M596.2 527.9h0M596.3 531.4h0M597 531.9h0M596.8 531.1h0M596.8 531.6h0M597.4 532h0M597.4 531.3h0M597.1 531.6h0M597.8 525.7h0M597.6 524.6h0M598.2 530.1h0M598.1 516.5h0M598.6 525.5h0M598.9 527.4h0M599 524.7h0M599 530h0M598.8 526.8h0M598.5 513.5h0M599 529.1h0M599.8 529.9h0M599.5 508.2h0M599.7 530.3h0M600.1 522.2h0M600.3 528.4h0M600.1 523.4h0M597.7 523h0M598.4 524h0M598.3 527h0M598.7 524.8h0M598 524.8h0" stroke="#1e2d5e" stroke-width="2.8" stroke-linecap="round"/>
<path d="M599.5 552.8 599.5 531.2 600.7 531.2 601.7 530.9 602.7 530.6 603.7 530.6 604.7 530.6 605.7 530.6 606.7 530.6 607.7 530.6 608.7 530.6 609.7 530.6 609.8 530.6 611 530.6 611 552.8Z" fill="#c58216"/>
<path d="M600.9 524.1h0M601.2 529.6h0M601.1 526.8h0M601.7 526.7h0M602 530.1h0M602.1 526.5h0M601.8 530.2h0M602.1 530.5h0M602.9 512.7h0M603.2 529.5h0M602.7 523.3h0M602.9 524.9h0M603.4 524h0M603.5 527.2h0M603.7 528.5h0M604 528.3h0M604.1 529h0M603.8 524.7h0M603.8 529.2h0M604.2 522.3h0M604.4 529.8h0M604.7 529.1h0M605 528.7h0M605.6 507.3h0M605.6 527.1h0M606.1 527.5h0M606.4 526.4h0M606.5 529.9h0M607.1 528.7h0M607.5 529.9h0M607.2 527.5h0M607.6 529.8h0M607.3 519.5h0M607.5 529.2h0M607.2 530.3h0M607.4 526.2h0M607.5 522.7h0M607.9 523.5h0M607.8 528.9h0M607.9 528h0M609.4 527.3h0M607.3 527.2h0M606.6 526.7h0M607 523.8h0M601.1 526.2h0M600.8 518.5h0M601.3 521.7h0M601.3 522.9h0M600.4 517.6h0M600.5 519.8h0M600.8 526.8h0M601.5 524.4h0M601.4 519.8h0" stroke="#c58216" stroke-width="2.8" stroke-linecap="round"/>
<path d="M608.6 552.8 608.6 530.6 609.8 530.6 610.8 530.6 611.8 530.6 612.8 530.6 613.8 530.6 614.8 530.6 615.8 531.2 616.8 531.8 617.4 531.8 618.6 531.8 618.6 552.8Z" fill="#1e2d5e"/>
<path d="M610 514.4h0M610.7 526h0M610.9 528.6h0M611.7 530.6h0M611.4 523.4h0M611.6 504.9h0M611.6 529.9h0M612 529.2h0M612 528.3h0M612.1 526.3h0M612.2 516.9h0M612.3 520.1h0M613.1 528.8h0M613 503.5h0M613.1 513.7h0M613.4 523.7h0M613.4 527.8h0M614.5 527.7h0M614.5 528.6h0M614.7 530h0M614.4 529.6h0M614.3 528.1h0M615.2 527.5h0M615.4 528.1h0M615.8 525.5h0M615.8 522.1h0M615.9 527.7h0M616.3 528.6h0M616.7 524h0M616.7 530.8h0M616.6 530.3h0M614.7 521.6h0M613.9 521.5h0M613.8 522.2h0" stroke="#1e2d5e" stroke-width="2.8" stroke-linecap="round"/>
<path d="M616.2 552.8 616.2 531.8 617.4 531.8 618.4 532.3 619.4 532.9 620.4 533.4 621.4 533.4 622.4 533.4 623.4 533.7 624.4 534 624.7 534 625.9 534 625.9 552.8Z" fill="#c58216"/>
<path d="M617.6 527.7h0M618.3 530.2h0M618.3 531.6h0M618.4 521.5h0M619.4 532.4h0M618.9 529.7h0M619.5 530.8h0M619.7 525.7h0M619.6 525.6h0M620.2 532.1h0M620.3 528.7h0M620.3 532.4h0M620.4 532.4h0M620.6 517.7h0M620.8 532.9h0M620.7 526.2h0M621.1 518.3h0M621.4 529.9h0M622.3 529.2h0M622.2 520.8h0M622 530h0M622.9 533.7h0M622.7 512.4h0M622.5 518.3h0M622.9 529.6h0M623.2 519.7h0M623 531.4h0M623.6 515.9h0M623.5 525.9h0M624.1 514.4h0M624.4 532h0M624.5 522.9h0M617 528.9h0M617.7 527.2h0M618.4 529.6h0M617 529.5h0M617.8 523.1h0M617.7 522h0M618.1 524.7h0M618 522.7h0M618.2 525.5h0" stroke="#c58216" stroke-width="2.8" stroke-linecap="round"/>
<path d="M623.5 552.8 623.5 534 624.7 534 625.7 534.3 626.7 534.6 627.7 534.9 628.7 534.9 629.7 534.9 630.2 534.9 631.4 534.9 631.4 552.8Z" fill="#1e2d5e"/>
<path d="M625.1 524.7h0M624.7 533.6h0M625.6 527.3h0M626.1 533.3h0M626.2 529.9h0M626 532.3h0M626.6 532.1h0M626.8 533h0M627.4 526.2h0M627.5 532.5h0M627.7 533.7h0M627.5 534.2h0M627.7 534.1h0M628.2 531.6h0M628.6 533.9h0M628.3 525.1h0M628.9 531.1h0M628.9 518.5h0M629.2 533.8h0M629.3 530.9h0M628.4 530.5h0M628.4 527.5h0" stroke="#1e2d5e" stroke-width="2.8" stroke-linecap="round"/>
<path d="M629 552.8 629 534.9 630.2 534.9 631.2 534.9 631.3 534.9 632.5 534.9 632.5 552.8Z" fill="#c58216"/>
<path d="M630.3 532.7h0M630.8 533.2h0M631 533.4h0" stroke="#c58216" stroke-width="2.8" stroke-linecap="round"/>
<path d="M630.1 552.8 630.1 534.9 631.3 534.9 632.3 534.9 633.3 534.9 634.3 534.9 635.3 534.9 635.5 534.9 636.7 534.9 636.7 552.8Z" fill="#1e2d5e"/>
<path d="M631.5 532.3h0M631.5 518.7h0M632.1 529.7h0M633 531.4h0M633.3 529.7h0M633 530h0M633.2 532.9h0M633.8 533h0M634.6 530.2h0M634.5 529.5h0M635 533.1h0M635.3 521.8h0M635.4 534.7h0M634 525.3h0M634.2 521.3h0M633.6 527.7h0" stroke="#1e2d5e" stroke-width="2.8" stroke-linecap="round"/>
<path d="M634.3 552.8 634.3 534.9 635.5 534.9 636.5 534.9 637.5 534 638.5 534 639.5 533.2 640.5 532.3 640.7 532.3 641.9 532.3 641.9 552.8Z" fill="#c58216"/>
<path d="M635.6 526.9h0M635.9 530.8h0M636.2 518.1h0M636.4 520.7h0M636.1 531.1h0M636.7 531.4h0M636.8 521.1h0M637.2 532.6h0M637.1 529.9h0M637.8 526.1h0M637.8 526h0M637.6 532h0M638.8 525.5h0M639.8 527.2h0M639.9 532.6h0M639.9 529.1h0M640 530.9h0M640.7 529.2h0M638.2 528.6h0M637.9 527.4h0M638.4 527.3h0M637.9 530h0M637.5 528.2h0M637.8 528.6h0" stroke="#c58216" stroke-width="2.8" stroke-linecap="round"/>
<path d="M639.5 552.8 639.5 532.3 640.7 532.3 641.7 531.5 642.7 531.5 643.7 532.3 644.7 533.2 645.2 533.2 646.4 533.2 646.4 552.8Z" fill="#1e2d5e"/>
<path d="M641.3 525.2h0M641.5 528.1h0M641.4 528.8h0M641.7 530.8h0M642.5 530.6h0M643.3 525.3h0M643.9 524.8h0M644.6 527.9h0M644.6 526.9h0M644.5 528.9h0M644.2 530.6h0M645 530.2h0M644.5 522.6h0M644.4 528.4h0M644.7 523.5h0M643.7 518.8h0M644.7 525h0M644 526.8h0M645.1 521.5h0M644 524.1h0" stroke="#1e2d5e" stroke-width="2.8" stroke-linecap="round"/>
<path d="M644 552.8 644 533.2 645.2 533.2 646.2 534 647.2 534.9 648.2 534.9 649.2 534 650.2 534 651.2 533.2 651.4 533.2 652.6 533.2 652.6 552.8Z" fill="#c58216"/>
<path d="M645.3 531.1h0M646 529h0M645.8 531.8h0M646.4 533h0M646.4 529.6h0M646.6 533.5h0M646.5 533.2h0M646.7 528.4h0M647.8 529h0M648.3 530.2h0M649.3 528.8h0M649.4 530.3h0M649.2 533.7h0M650.2 528.6h0M650.7 532h0M651.3 532.7h0M646.4 528.3h0M646.5 522.7h0M647.1 528.1h0M646.4 527.1h0M646.9 521.1h0M647.6 521.5h0M647.1 524h0M647.7 529.5h0" stroke="#c58216" stroke-width="2.8" stroke-linecap="round"/>
<path d="M650.2 552.8 650.2 533.2 651.4 533.2 652.4 532.3 653.4 531.5 654.4 530.6 654.6 530.6 655.8 530.6 655.8 552.8Z" fill="#1e2d5e"/>
<path d="M651.4 523.4h0M651.7 502.6h0M651.6 531.8h0M651.6 520.3h0M651.8 507.9h0M652.4 519.8h0M652.6 518.5h0M653.2 528h0M653.1 526.2h0M653.6 530.9h0M653.5 528.1h0M654.1 529h0" stroke="#1e2d5e" stroke-width="2.8" stroke-linecap="round"/>
<path d="M653.4 552.8 653.4 530.6 654.6 530.6 655.6 530.6 656.6 530.6 656.7 530.6 657.9 530.6 657.9 552.8Z" fill="#c58216"/>
<path d="M654.8 523.4h0M654.9 529.7h0M655 524.7h0M655.2 528.3h0M655.5 530.5h0M656.1 525.5h0M656.1 525.3h0" stroke="#c58216" stroke-width="2.8" stroke-linecap="round"/>
<path d="M655.5 552.8 655.5 530.6 656.7 530.6 657.7 530.6 658.7 530.6 659 530.6 660.2 530.6 660.2 552.8Z" fill="#1e2d5e"/>
<path d="M657.2 528.5h0M657.9 527.8h0M658.1 530.2h0M657.9 521.4h0M658.6 529.5h0M658.6 528h0M658.7 513.2h0" stroke="#1e2d5e" stroke-width="2.8" stroke-linecap="round"/>
<path d="M657.8 552.8 657.8 530.6 659 530.6 660 530.6 661 530.6 662 530.6 662.5 530.6 663.7 530.6 663.7 552.8Z" fill="#c58216"/>
<path d="M659.3 526.8h0M660.8 529.8h0M660.7 529.5h0M661.7 530.1h0M661.8 526.6h0M661.5 521.5h0M662.1 524.7h0" stroke="#c58216" stroke-width="2.8" stroke-linecap="round"/>
<path d="M661.3 552.8 661.3 530.6 662.5 530.6 663.5 530.6 664.3 530.6 665.5 530.6 665.5 552.8Z" fill="#1e2d5e"/>
<path d="M663.2 529h0M663.9 526.9h0M663.8 527.8h0M663.6 530.5h0M664.1 528.1h0M664 530.4h0M663.3 522.3h0M663.4 524.2h0M662 524.6h0M663.1 525.7h0M662.8 526.1h0M662.5 522.8h0M662.8 525.2h0M663.3 527.3h0" stroke="#1e2d5e" stroke-width="2.8" stroke-linecap="round"/>
<path d="M663.1 552.8 663.1 530.6 664.3 530.6 665.3 530.6 666.3 530.6 666.6 530.6 667.8 530.6 667.8 552.8Z" fill="#c58216"/>
<path d="M664.3 529.9h0M664.7 530.5h0M664.8 527.2h0M665.1 528.3h0M664.8 520h0M665.4 521.5h0M665.4 530.5h0M665.4 526.2h0M666.3 527.5h0M665.8 518.8h0M666 518.7h0M666.4 522.8h0M665.8 522.2h0M665.4 524.9h0M666.3 519.7h0M666.1 521.9h0" stroke="#c58216" stroke-width="2.8" stroke-linecap="round"/>
<path d="M665.4 552.8 665.4 530.6 666.6 530.6 667.6 530.6 668.6 530.6 669.2 530.6 670.4 530.6 670.4 552.8Z" fill="#1e2d5e"/>
<path d="M667.2 529.5h0M667.6 527.5h0M667.7 526.3h0M668 525.7h0M668.4 526.8h0M668.4 530.3h0M668.4 526.1h0M668.7 528.2h0M668.8 530.2h0M668.7 530.5h0M668.5 523.2h0M668.4 523.2h0M668.8 521.5h0M668.3 521.6h0" stroke="#1e2d5e" stroke-width="2.8" stroke-linecap="round"/>
<path d="M668 552.8 668 530.6 669.2 530.6 670.2 530.6 671.2 530.6 672.4 530.6 672.4 552.8Z" fill="#c58216"/>
<path d="M669.6 513.5h0M669.5 521.7h0M669.5 525.8h0M670.6 526.9h0M670.4 525.5h0M670.8 528.4h0M670.9 530.4h0M671 530.2h0M671.1 517h0M669.2 516.6h0M669.6 518.4h0M669.5 517.3h0M670.1 519.5h0" stroke="#c58216" stroke-width="2.8" stroke-linecap="round"/>
<path d="M340.5 442.1h0M309 455.6h0M426.3 451.1h0M340.5 482.3h0M324.1 489.3h0M328.6 488h0M273.1 496.7h0M431.7 492.5h0M427.2 501.5h0M432 501.5h0M513.3 425h0M515.8 444.7h0M515.8 450h0M544.8 435h0M631.3 423.6h0M506.9 481.5h0M515.5 484.4h0M631.3 483.3h0M644.6 478.3h0M543.7 503.7h0M318.7 502.5h0M329.5 503.3h0M313 505.9h0M297.3 507.5h0M283.3 510.1h0M256.5 511.6h0M262.5 510.7h0M335 505.7h0M427.3 501.1h0M432.4 501.1h0M409.8 511.2h0M598.2 504.2h0M642 507.2h0M645 508.8h0" stroke="#1e2d5e" stroke-width="2.8" stroke-linecap="round"/>
<path d="M342.1 442.1h0M398.3 466.5h0M346 480h0M369.1 503.1h0M605.6 491.5h0M492.6 435.8h0M492.6 444.3h0M492.6 456.5h0M492.6 458.5h0M492.6 461.5h0M492.6 473h0M492.6 479.3h0M492.6 483h0M492.6 486.6h0M492.6 488.4h0M492.4 490.8h0M492.8 493h0M489 503.7h0M496.5 503.7h0M359.5 508.2h0M386.6 510.7h0M398.3 510.7h0M536.4 503.9h0M563.5 505.4h0M566.9 504.9h0M527.8 508.9h0M619.2 501.5h0M601 504.2h0M665 508.2h0M654 512.3h0" stroke="#c58216" stroke-width="2.8" stroke-linecap="round"/>
<ellipse cx="577.3" cy="420.4" rx="1.35" ry="0.75" fill="#1e2d5e"/>
<line x1="239.6" y1="473.6" x2="684" y2="473.6" stroke="#e8645a" stroke-width="1"/>
<line x1="239.6" y1="490.7" x2="684" y2="490.7" stroke="#8cc96a" stroke-width="1"/>
<line x1="239.6" y1="745.4" x2="239.6" y2="613.6" stroke="#8a8a8a" stroke-width="0.9"/>
<line x1="237.0" y1="745.5" x2="239.6" y2="745.5" stroke="#8a8a8a" stroke-width="1"/>
<text transform="translate(234.5,748.8) scale(1,1.1)" font-size="8.8" text-anchor="end" fill="#222">0</text>
<line x1="237.0" y1="719.5" x2="239.6" y2="719.5" stroke="#8a8a8a" stroke-width="1"/>
<text transform="translate(234.5,722.4) scale(1,1.1)" font-size="8.8" text-anchor="end" fill="#222">2</text>
<line x1="237.0" y1="692.5" x2="239.6" y2="692.5" stroke="#8a8a8a" stroke-width="1"/>
<text transform="translate(234.5,696.1) scale(1,1.1)" font-size="8.8" text-anchor="end" fill="#222">4</text>
<line x1="237.0" y1="666.5" x2="239.6" y2="666.5" stroke="#8a8a8a" stroke-width="1"/>
<text transform="translate(234.5,669.7) scale(1,1.1)" font-size="8.8" text-anchor="end" fill="#222">6</text>
<line x1="237.0" y1="639.5" x2="239.6" y2="639.5" stroke="#8a8a8a" stroke-width="1"/>
<text transform="translate(234.5,643.4) scale(1,1.1)" font-size="8.8" text-anchor="end" fill="#222">8</text>
<line x1="237.0" y1="613.5" x2="239.6" y2="613.5" stroke="#8a8a8a" stroke-width="1"/>
<text transform="translate(234.5,617) scale(1,1.1)" font-size="8.8" text-anchor="end" fill="#222">10</text>
<text transform="translate(221.6,698.5) rotate(-90)" fill="#222"><tspan x="0" y="0" font-size="9.0">&#8722;</tspan><tspan x="6.2" y="0" font-size="9.0">log</tspan><tspan x="18.9" y="1.3" font-size="5.8">10</tspan><tspan x="25.5" y="0" font-size="9.0">(</tspan><tspan x="28.9" y="0" font-size="9.0">p</tspan><tspan x="34.9" y="0" font-size="9.0">)</tspan></text>
<line x1="297" y1="746.3" x2="297" y2="748.3" stroke="#999" stroke-width="0.7"/>
<line x1="374.9" y1="746.3" x2="374.9" y2="748.3" stroke="#999" stroke-width="0.7"/>
<line x1="433.4" y1="746.3" x2="433.4" y2="748.3" stroke="#999" stroke-width="0.7"/>
<line x1="478.9" y1="746.3" x2="478.9" y2="748.3" stroke="#999" stroke-width="0.7"/>
<line x1="513" y1="746.3" x2="513" y2="748.3" stroke="#999" stroke-width="0.7"/>
<line x1="534.5" y1="746.3" x2="534.5" y2="748.3" stroke="#999" stroke-width="0.7"/>
<line x1="550.5" y1="746.3" x2="550.5" y2="748.3" stroke="#999" stroke-width="0.7"/>
<line x1="565.4" y1="746.3" x2="565.4" y2="748.3" stroke="#999" stroke-width="0.7"/>
<line x1="577.5" y1="746.3" x2="577.5" y2="748.3" stroke="#999" stroke-width="0.7"/>
<line x1="587.1" y1="746.3" x2="587.1" y2="748.3" stroke="#999" stroke-width="0.7"/>
<line x1="596.1" y1="746.3" x2="596.1" y2="748.3" stroke="#999" stroke-width="0.7"/>
<line x1="605.2" y1="746.3" x2="605.2" y2="748.3" stroke="#999" stroke-width="0.7"/>
<line x1="613.6" y1="746.3" x2="613.6" y2="748.3" stroke="#999" stroke-width="0.7"/>
<line x1="621.1" y1="746.3" x2="621.1" y2="748.3" stroke="#999" stroke-width="0.7"/>
<line x1="627.5" y1="746.3" x2="627.5" y2="748.3" stroke="#999" stroke-width="0.7"/>
<line x1="630.8" y1="746.3" x2="630.8" y2="748.3" stroke="#999" stroke-width="0.7"/>
<line x1="633.4" y1="746.3" x2="633.4" y2="748.3" stroke="#999" stroke-width="0.7"/>
<line x1="638.1" y1="746.3" x2="638.1" y2="748.3" stroke="#999" stroke-width="0.7"/>
<line x1="643" y1="746.3" x2="643" y2="748.3" stroke="#999" stroke-width="0.7"/>
<line x1="648.3" y1="746.3" x2="648.3" y2="748.3" stroke="#999" stroke-width="0.7"/>
<line x1="653" y1="746.3" x2="653" y2="748.3" stroke="#999" stroke-width="0.7"/>
<line x1="655.7" y1="746.3" x2="655.7" y2="748.3" stroke="#999" stroke-width="0.7"/>
<line x1="657.9" y1="746.3" x2="657.9" y2="748.3" stroke="#999" stroke-width="0.7"/>
<line x1="660.8" y1="746.3" x2="660.8" y2="748.3" stroke="#999" stroke-width="0.7"/>
<line x1="663.4" y1="746.3" x2="663.4" y2="748.3" stroke="#999" stroke-width="0.7"/>
<line x1="665.5" y1="746.3" x2="665.5" y2="748.3" stroke="#999" stroke-width="0.7"/>
<line x1="667.9" y1="746.3" x2="667.9" y2="748.3" stroke="#999" stroke-width="0.7"/>
<line x1="670.2" y1="746.3" x2="670.2" y2="748.3" stroke="#999" stroke-width="0.7"/>
<text transform="translate(296,755) scale(1,1.1)" font-size="8.8" text-anchor="middle" fill="#222">1</text>
<text transform="translate(372.9,755) scale(1,1.1)" font-size="8.8" text-anchor="middle" fill="#222">2</text>
<text transform="translate(432.2,755) scale(1,1.1)" font-size="8.8" text-anchor="middle" fill="#222">3</text>
<text transform="translate(479.2,755) scale(1,1.1)" font-size="8.8" text-anchor="middle" fill="#222">4</text>
<text transform="translate(511.9,755) scale(1,1.1)" font-size="8.8" text-anchor="middle" fill="#222">5</text>
<text transform="translate(534.3,755) scale(1,1.1)" font-size="8.8" text-anchor="middle" fill="#222">6</text>
<text transform="translate(550,755) scale(1,1.1)" font-size="8.8" text-anchor="middle" fill="#222">7</text>
<text transform="translate(565.4,755) scale(1,1.1)" font-size="8.8" text-anchor="middle" fill="#222">8</text>
<text transform="translate(587,755) scale(1,1.1)" font-size="8.8" text-anchor="middle" fill="#222">10</text>
<text transform="translate(604.7,755) scale(1,1.1)" font-size="8.8" text-anchor="middle" fill="#222">12</text>
<text transform="translate(628.2,755) scale(1,1.1)" font-size="8.8" text-anchor="middle" fill="#222">15</text>
<text transform="translate(648.2,755) scale(1,1.1)" font-size="8.8" text-anchor="middle" fill="#222">20</text>
<text transform="translate(667.6,755) scale(1,1.1)" font-size="8.8" text-anchor="middle" fill="#222">27</text>
<text transform="translate(461.6,765.7) scale(1,1.1)" font-size="8.8" text-anchor="middle" fill="#222">Chromosome</text>
<path d="M251.4 746.6 251.4 728.8 252.6 728.8 253.6 728.8 254.6 728.8 255.6 728.8 256.6 728.8 257.6 728.8 258.6 729.6 259.6 729.6 260.6 730.4 261.6 731.2 262.6 730.8 263.6 731.6 264.6 730.4 265.6 729.2 266.6 727.9 267.6 726.7 268.6 726.7 269.6 726.7 270.6 726.7 271.6 726.7 272.6 726.7 273.6 726.7 274.6 726.7 275.6 726.7 276.6 726.7 277.6 726.7 278.6 727.4 279.6 728.1 280.6 728.8 281.6 728.8 282.6 729.5 283.6 730.2 284.6 730.2 285.6 730.2 286.6 730.2 287.6 730.2 288.6 730.2 289.6 730.2 290.6 730.2 291.6 729.8 292.6 729.8 293.6 729.4 294.6 729 295.6 728.6 296.6 728.1 297.6 728.1 298.6 728.1 299.6 728.1 300.6 728.1 301.6 728.1 302.6 728.1 303.6 728.1 304.6 728.1 305.6 728.1 306.6 728.1 307.6 728.1 308.6 727.4 309.6 727.4 310.6 726.8 311.6 726.1 312.6 725.4 313.6 724.7 314.6 724.7 315.6 724.7 316.6 724.7 317.6 724.7 318.6 724.7 319.6 724.7 320.6 724.7 321.6 724.7 322.6 724.7 323.6 724.7 324.6 724.7 325.6 724.7 326.6 724.7 327.6 724.7 328.6 724.7 329.6 724.7 330.6 724.7 331.6 724.7 332.6 724.7 333.6 724.7 334.6 724.7 335.6 724.7 336.6 724.7 337.6 725.5 338.6 725.5 339.6 726.3 340.6 727.2 341.4 728 342.6 728 342.6 746.6Z" fill="#1e2d5e"/>
<path d="M252.7 708.5h0M252.9 718.2h0M252.8 727.3h0M253.4 727.8h0M253.1 713.6h0M253.6 728.7h0M254.2 721h0M254.5 726.5h0M254.9 727.6h0M255.2 726.3h0M255.4 727.9h0M255.6 720.2h0M255.9 727h0M255.7 724.7h0M256.6 724h0M256.7 720.4h0M257.1 723.6h0M257.4 727.3h0M257.5 727.8h0M258 725h0M257.8 726.4h0M258.6 726.4h0M259.4 724.9h0M259.6 719.7h0M260 724.8h0M259.7 719.9h0M260.2 724.9h0M261.1 727.6h0M261.1 729.9h0M261.2 728h0M261.1 730h0M261.2 728.7h0M261.1 721.7h0M262.6 723.8h0M262.4 730.5h0M262.6 730h0M262.6 722.2h0M264 730.2h0M263.7 724.8h0M263.8 722.8h0M264.5 725.8h0M264.4 729.5h0M264.7 729.5h0M264.8 729.4h0M265.3 720.6h0M266.3 726.7h0M266.4 725.4h0M266.9 707h0M267 726.2h0M267.1 726.3h0M267.7 719.4h0M267.8 724.1h0M267.6 714.9h0M268.5 720.8h0M268.1 712.6h0M268.4 724.9h0M268.5 725.4h0M269.1 722.9h0M269.1 725.1h0M269.2 726.3h0M269.2 721.5h0M269.6 725.2h0M269.9 702.2h0M270.4 717.3h0M270.9 720.3h0M270.7 724.6h0M271.9 721.7h0M271.9 723.5h0M271.7 723.8h0M271.8 725.1h0M272.4 726.6h0M272.8 726.1h0M272.7 724.4h0M273.3 724.1h0M273.1 709h0M273.1 722.5h0M274.1 722.5h0M273.8 716.1h0M274.4 721.3h0M274.4 719.9h0M274.6 726.6h0M274.8 721.9h0M275.5 723.1h0M276.3 724.7h0M276.3 711.1h0M276.3 721.8h0M276.9 721.7h0M277.3 719.7h0M278.1 719.7h0M278.2 715h0M279.1 715.9h0M279.5 722.4h0M281 728.2h0M280.6 718.8h0M280.9 728.1h0M280.8 727.3h0M281.3 724.2h0M281.1 715h0M281.4 727.2h0M282 728.7h0M282 723.6h0M282 728.3h0M282 714.4h0M282.4 724.6h0M283.2 724.4h0M283.1 728.3h0M284.5 717.3h0M284.2 716.5h0M284.1 724.7h0M284.2 718.8h0M285 727.5h0M284.8 729h0M284.9 729.9h0M285.8 723.3h0M286.3 728.3h0M286.3 729.4h0M286.5 718.8h0M286.5 727.4h0M286.9 728.9h0M286.8 729.5h0M288 726.4h0M288.5 727.9h0M288.4 729.9h0M288.5 714.3h0M288.2 729.6h0M288.3 730.2h0M288.1 728.1h0M289 725.3h0M288.8 724h0M288.7 729.5h0M289.1 729.6h0M289.4 723.6h0M289.6 725.2h0M290.4 725.6h0M290.6 728.1h0M290.2 728.7h0M290.2 719.1h0M290.6 727.7h0M290.9 730.1h0M291.7 728.2h0M292.4 727.3h0M292.2 725.6h0M292.5 727.5h0M292.8 727.7h0M293 724.5h0M293 726.8h0M293.4 728h0M293.3 726.8h0M293.4 724.9h0M294.5 726.1h0M294.8 714.8h0M295.4 724.1h0M295.3 726.2h0M295.6 708.8h0M295.8 727.2h0M295.9 725.8h0M296.8 727.6h0M296.7 718.5h0M297.3 707h0M298 726h0M298.3 726.7h0M298.2 727.7h0M299 723.9h0M299 722.9h0M299.6 722.9h0M299.8 728h0M299.7 713.6h0M299.8 723.3h0M300.2 726.6h0M300.2 727.5h0M300.9 724.8h0M301.5 726.9h0M301.6 721h0M302 721.6h0M301.6 723.1h0M302.4 724.4h0M302.5 727.9h0M302.6 727.7h0M302.9 725.3h0M302.8 725.9h0M304 727.8h0M304.1 728h0M304.3 725.2h0M304.5 727h0M304.9 719.8h0M305.2 721.2h0M305.3 726.6h0M306.5 727.2h0M306.1 708.3h0M306.6 721.7h0M306.7 727.5h0M307.5 714h0M308.6 725.4h0M309.5 727.1h0M309.8 720.8h0M310.3 704h0M310.9 725.6h0M311.2 726.1h0M311.4 724.9h0M311.7 723.2h0M311.7 723h0M312 722.4h0M313 725.1h0M312.8 724.1h0M313.5 720.6h0M313.2 725.1h0M314.5 721.2h0M314.9 722.6h0M314.6 711.1h0M314.8 717.4h0M314.8 720.9h0M315 722.6h0M315.3 722.9h0M315.3 724.2h0M316 722.2h0M315.6 718.3h0M316.2 718.9h0M316.3 721.3h0M316.8 721.7h0M317.7 719.9h0M318.1 717.1h0M318.4 722.7h0M318.6 720.2h0M318.8 723.4h0M318.9 724.1h0M318.7 722.2h0M319.4 723h0M319.3 724.3h0M320 719.8h0M319.6 719.9h0M319.8 702.1h0M320.4 724h0M320.4 722.3h0M320.7 721.6h0M321.3 720.2h0M321.2 724.1h0M321.3 724.2h0M321.7 721h0M322.1 720.5h0M321.7 719.8h0M322.5 719.2h0M323 724.5h0M323.1 713.9h0M322.7 724.7h0M322.7 723.9h0M322.7 716.2h0M323.2 714.6h0M323.2 724.7h0M323.6 717.9h0M324.5 724.6h0M324.1 723.9h0M325.1 722.6h0M324.9 722.1h0M325.3 723.5h0M325.7 724.1h0M326.8 724.1h0M326.6 722.9h0M327.1 724.5h0M327.2 721.9h0M328.1 723.1h0M327.7 706.9h0M327.8 721.2h0M328.3 711.6h0M328.4 712.7h0M328.7 718.3h0M329.2 724.1h0M329.8 724.1h0M330.1 716.1h0M329.9 717.5h0M330.4 718.2h0M330.5 724.1h0M330.7 712.2h0M331 721.9h0M330.8 722.7h0M331.7 723.7h0M332 704.2h0M331.9 723.9h0M332.5 717h0M332.8 721.3h0M334 724.1h0M333.8 703h0M334.2 721.5h0M334.2 720.3h0M335.4 719h0M335.6 715.6h0M335.3 723h0M335.1 713h0M335.6 724.7h0M335.8 717.9h0M336 722.3h0M336.4 724.4h0M336.6 723.2h0M337 717.7h0M337.6 721.5h0M337.8 725.1h0M337.9 720.8h0M338.3 718.2h0M338.6 715.1h0M338.7 724.8h0M339.4 725h0M339.2 721.4h0M339.4 726.2h0M339.5 717.3h0M339.8 721.7h0M339.9 726h0M340.6 724.5h0M340.9 726.2h0M340.7 727h0M340.8 722.6h0M341.4 725.1h0M341.2 720.3h0M303.1 719.9h0M302 720.1h0M302.2 724h0M303.3 720.9h0M302.6 719.8h0M302 722.4h0M257.2 720.2h0M257.2 722.2h0M257.1 723.1h0M256.2 722.2h0M257.4 719.1h0M285.7 720.5h0M285.8 724.8h0M285.6 716.5h0M285.4 712.6h0M286 716.3h0M286.1 716h0M252.4 718.7h0M252.2 718.9h0M252.2 719.8h0M253 723.3h0M253 720.7h0M252.4 721.3h0M252.8 719.6h0M252.3 723.3h0M305 721.9h0M304.2 720.9h0M305.2 723h0M304.6 723.3h0M305.2 720.7h0M303.9 721.7h0M304.4 721.4h0M304.6 722.7h0M303.6 724.9h0M296.6 714h0M295.8 714.8h0M296.3 706.8h0M296.3 704.3h0M296.7 712.1h0M296.5 715.2h0M296.2 704.3h0M296.5 721.1h0M296.6 710.3h0M339.5 721.2h0M339.5 710.9h0M340.3 719.3h0M339.3 717h0M339.7 711.4h0M340.7 711.5h0M339.2 721.1h0M302.6 710.7h0M303.4 716.3h0M303.4 708.7h0M303 712.2h0M303.4 707.3h0M302.9 718h0M304 723.1h0M286 726.5h0M285.1 727h0M286.1 724.1h0M284.9 722.6h0M285.7 719.9h0M286.1 727.4h0M285.3 723.9h0M324.1 717.1h0M324.5 708h0M323.8 705.4h0M325.1 704.8h0M324.1 718h0M324.3 712.1h0M323.7 706.2h0M257.3 718h0M257.8 725h0M256.6 718.6h0M319.6 715.7h0M319.5 718.2h0M318.7 718.4h0M318.1 717.5h0M275.4 718h0M276.5 719.7h0M276.4 718.3h0M332.6 711.6h0M333.3 716.8h0M333 711.7h0M332.8 713.4h0M333 711.7h0M284.9 714.7h0M285.4 723h0M285.1 707.9h0M284.8 722.6h0M284.8 710.2h0M284.8 718.5h0M285.7 721.8h0M286.1 708.7h0" stroke="#1e2d5e" stroke-width="2.8" stroke-linecap="round"/>
<path d="M340.2 746.6 340.2 728 341.4 728 342.4 728 343.4 728.8 344.4 728.8 345.4 728.8 346.4 728.8 347.4 728.8 348.4 728.8 349.4 728.8 350.4 728.8 351.4 728.8 352.4 728.4 353.4 727.9 354.4 727.9 355.4 727.5 356.4 727.1 357.4 726.7 358.4 726.7 359.4 726.7 360.4 726.7 361.4 726.7 362.4 726.7 363.4 727 364.4 727 365.4 727.3 366.4 727.6 367.4 727.8 368.4 728.1 369.4 728.1 370.4 728.1 371.4 728.1 372.4 728.1 373.4 728.1 374.4 728.1 375.4 728.1 376.4 728.1 377.4 728.1 378.4 728.1 379.4 728.1 380.4 728.1 381.4 728.1 382.4 728.1 383.4 728.1 384.4 728.1 385.4 728.1 386.4 728.1 387.4 728.1 388.4 728.1 389.4 728.1 390.4 728.1 391.4 728.6 392.4 729 393.4 729 394.4 729.4 395.4 729.8 396.4 730.2 397.4 730.2 398.4 730.2 399.4 730.2 400.4 730.2 401.4 730.2 402.4 730.2 403.4 730.2 404.4 730.2 405.4 729.1 406.4 728 407.4 726.9 408.3 726.9 409.5 726.9 409.5 746.6Z" fill="#c58216"/>
<path d="M341.6 724.4h0M341.6 724.5h0M341.7 724.8h0M342.2 724.2h0M342 724.8h0M342.2 723.7h0M342 726.2h0M342.3 726.1h0M342.6 718.9h0M342.9 724.8h0M343.4 728.2h0M343.2 724.7h0M342.9 723.5h0M343.2 724.4h0M343.9 722.6h0M344.2 728.6h0M344.9 717.4h0M344.7 728.6h0M345.1 715.5h0M344.9 725.9h0M345.5 727.9h0M346.3 725h0M346.2 728.2h0M346.2 727.8h0M346.8 726.5h0M346.8 726.8h0M346.7 723.7h0M347.8 726.5h0M348.1 722.9h0M348.2 722.7h0M348 728.7h0M348.2 723.8h0M348.5 725.1h0M348.6 727.1h0M348.9 727.3h0M349.3 724.7h0M349 722.7h0M349.2 728.2h0M349 725.5h0M348.9 724.7h0M349 727.1h0M349.4 723.8h0M349.4 725.8h0M350 725.4h0M350.9 716.8h0M351.2 721.7h0M351.5 726.4h0M351.5 717.2h0M352.1 725.6h0M352.3 725.1h0M352.4 724.5h0M352.7 721.4h0M353.3 723.4h0M353.2 721.1h0M353.1 727.6h0M353.9 726.2h0M354 724.8h0M354 726.8h0M354.5 721.1h0M354.7 720.8h0M354.7 725.4h0M354.9 722.6h0M354.4 727.3h0M355.1 718.9h0M355.1 727h0M355.8 727.5h0M355.5 722.8h0M355.7 721.1h0M356.4 716.7h0M356.2 714.6h0M356.2 727h0M356.5 715.2h0M357.5 725.1h0M357.5 720.5h0M357.9 726.7h0M359.2 723h0M359.1 721h0M359.2 715.4h0M360.8 724.7h0M362.1 726.2h0M362.8 725.3h0M363.2 725.8h0M363.7 727h0M364.5 724.3h0M365.2 723.6h0M365.1 727h0M365.4 721.9h0M365.8 724.6h0M366.2 725.6h0M366.1 726.4h0M366.5 724.2h0M367.2 718.8h0M367.2 721.7h0M367.4 723.2h0M367 722.3h0M367.1 725.2h0M367.5 727.4h0M367.7 727.7h0M367.7 727.5h0M368.3 724.2h0M368.3 726.3h0M368.9 724.9h0M369 712.9h0M369 724.9h0M369.9 716.3h0M369.7 724.2h0M369.5 726.6h0M369.7 721.4h0M370.8 720.7h0M370.9 725.1h0M370.8 713.4h0M370.8 724.2h0M371.1 727.5h0M371.8 727.5h0M371.5 727.7h0M371.9 725.9h0M371.7 723.8h0M372.2 722.5h0M372.2 724.4h0M372.8 721.2h0M372.9 717.2h0M373.1 726.2h0M373.3 725.9h0M373.8 722.5h0M373.4 723.4h0M374.7 720.2h0M374.7 727.5h0M374.7 725.2h0M374.8 727.6h0M375 725.4h0M375.3 719.8h0M375.6 727.8h0M376.2 725.9h0M375.9 724.1h0M376.4 724.7h0M376.9 726.9h0M376.7 721.5h0M377.2 727.3h0M378 726.5h0M378.7 726.8h0M378.7 724.3h0M379.1 723.2h0M378.9 727.6h0M380.3 727h0M380.8 727.6h0M380.8 726.1h0M381.5 725.7h0M382 710.5h0M382.6 720h0M383.2 726.8h0M383.4 725.9h0M383.9 727.3h0M383.9 721.2h0M384 721.7h0M385.1 716.8h0M385.1 724.1h0M385.7 715.4h0M386.6 723.2h0M386.5 725.7h0M386.8 726.6h0M387.3 722.5h0M387.3 721.8h0M387.4 704.2h0M388.7 708.4h0M388.4 717.3h0M389.2 724.4h0M389.4 728h0M389.5 727.2h0M390.2 723.8h0M390.5 722.8h0M390.7 725.9h0M390.7 726.7h0M390.6 725.5h0M390.7 726.8h0M391 719.7h0M391 727.1h0M391.5 727.2h0M392.1 727.6h0M392.4 726.5h0M393 726.4h0M394.2 729.2h0M395.3 706.4h0M395.6 714.1h0M395.7 714.1h0M396 719.7h0M396.1 728.5h0M397.8 729.2h0M397.8 727.5h0M397.6 723.7h0M398.2 727.1h0M398.8 728.8h0M398.5 729.1h0M399.4 728.9h0M399.5 729.2h0M399.7 724.9h0M400 727.4h0M400.8 726.7h0M400.8 717.2h0M400.9 728.9h0M401.1 712.3h0M401.6 719.4h0M401.7 723.3h0M402.5 728.8h0M402.8 697h0M402.9 729.5h0M403 729.7h0M402.9 729.2h0M403 722.6h0M403.8 729.2h0M403.6 720.4h0M404 727.2h0M404 723h0M405.6 727.6h0M406 722.1h0M407.4 727h0M407.8 724.8h0M355 711.4h0M354.8 708.8h0M354 709h0M354.5 715.8h0M354.1 723.3h0M394.4 722.7h0M394.3 715.9h0M394.6 724.8h0M390.6 719.1h0M390.5 719.9h0M391 717.5h0M394.9 720.7h0M395.2 718.8h0M396 712.8h0M398.3 726.7h0M399 722.9h0M399.1 726.4h0M398.2 724.4h0M366.8 724.8h0M366.3 719.6h0M367.3 722.1h0M366.8 719.2h0M403 722.6h0M402.9 720.5h0M403.9 717.3h0M403.7 721.2h0M403.4 715.8h0M402.7 720.9h0M403.8 724.6h0M403 718.4h0M364.4 719.3h0M365.1 721.2h0M365.4 719h0M365.3 721.4h0M365 721.2h0M364.8 721.4h0M365.2 720.3h0M388.7 722h0M389.9 724.1h0M390 719.2h0M389.8 724.3h0M375.7 721.2h0M376.1 722.9h0M375.7 720h0M375.8 719.9h0M376.5 721h0M376.5 721.1h0M376.9 719.9h0M376.7 722.3h0M354.9 705.2h0M354.5 700.5h0M354.8 701.6h0M354.2 706h0M353.9 704.1h0M354 699.9h0M354 723.3h0" stroke="#c58216" stroke-width="2.8" stroke-linecap="round"/>
<path d="M407.1 746.6 407.1 726.9 408.3 726.9 409.3 725.8 410.3 724.7 411.3 724.7 412.3 724.7 413.3 724.7 414.3 724.7 415.3 724.7 416.3 724.7 417.3 724.7 418.3 724.7 419.3 724.7 420.3 724.7 421.3 724.7 422.3 724.7 423.3 724.7 424.3 724.7 425.3 724.7 426.3 724.7 427.3 724.7 428.3 724.7 429.3 724.7 430.3 724.7 431.3 725.5 432.3 726.3 433.3 727.2 434.3 728 435.3 728 436.3 728.8 437.3 728.8 438.3 728.8 439.3 728.8 440.3 728.8 441.3 728.8 442.3 728.8 443.3 728.8 444.3 728.4 445.3 728.4 446.3 727.9 447.3 727.5 448.3 727.1 449.3 726.7 450.3 726.7 451.3 726.7 452.3 726.7 453.3 726.7 454.3 726.7 455.3 727.9 456.3 727.9 457.3 729.2 458.3 730.4 458.4 730.4 459.6 730.4 459.6 746.6Z" fill="#1e2d5e"/>
<path d="M408.5 721.8h0M409.3 710.6h0M409 713.1h0M409.2 717.3h0M409 722.1h0M409.2 713.4h0M409.1 713h0M409.4 722.9h0M409.7 716.6h0M409.8 725.6h0M410.2 716h0M409.9 724.5h0M411.3 722.1h0M411 724.7h0M410.9 724.4h0M411.3 721.5h0M412.1 721.3h0M412.2 722.5h0M411.9 718.9h0M412.8 720.6h0M412.5 724h0M413.3 721.2h0M413.3 718h0M413.5 723.9h0M413.4 715h0M414 722.7h0M414.3 723.6h0M414.8 722.8h0M414.9 724.3h0M415.4 724.6h0M416.3 716.2h0M415.8 722.5h0M416.3 721.4h0M416.7 718.8h0M416.8 717.3h0M417.5 723.1h0M417.6 723.1h0M418.5 719.5h0M418.4 719.6h0M419.2 722.6h0M419.3 724h0M419.7 720.8h0M419.7 724.6h0M419.4 716.7h0M419.7 721.4h0M419.6 694.8h0M420.6 713.9h0M420.5 717.2h0M421.1 721.9h0M421.5 722.2h0M422.5 721.5h0M422.4 723.5h0M423.4 722.1h0M423.7 723.2h0M424 721.4h0M424.1 718.4h0M424.5 722.5h0M424.7 720.3h0M425 722.4h0M425.2 723.8h0M424.8 719.3h0M425.5 717h0M425.8 719.5h0M425.9 722.1h0M426.3 722.1h0M425.9 724.3h0M426.8 722.5h0M427.2 723.8h0M427.6 721.4h0M427.4 723.3h0M427.4 724.1h0M428.1 713.3h0M428.3 722.6h0M429.3 719.8h0M429.1 721.9h0M429.6 724.7h0M429.8 723.4h0M430.1 724.6h0M430.8 717h0M431.3 724h0M431.9 721.7h0M432.7 719.8h0M433.1 718.4h0M433.4 724.1h0M433.5 719.4h0M433.7 724.8h0M434.3 716.9h0M434 725.2h0M434.2 726.6h0M434.2 724.4h0M434.5 723.1h0M434.7 726.2h0M434.6 727.5h0M434.8 726.3h0M435.2 727.6h0M435.2 724.5h0M435.7 721.6h0M435.3 727.3h0M435.8 726.3h0M435.9 726.3h0M436.2 728.1h0M437.1 722.5h0M437.4 727.9h0M437.5 719.6h0M437.6 728.5h0M437.5 719.8h0M438.1 720.1h0M437.8 727.1h0M438.1 726.8h0M438.1 726.6h0M438.5 728.4h0M438.4 728.2h0M438.9 725.8h0M439.7 727.4h0M439.6 726.2h0M440.8 721.9h0M440.6 727.4h0M441.5 727.5h0M441.4 722.1h0M442.2 727.9h0M441.8 726.3h0M442.4 723.3h0M442.3 726.2h0M444.8 712.7h0M444.7 724.9h0M444.7 709.7h0M445.2 712.9h0M445.1 721.2h0M445.3 727.4h0M445.7 723h0M445.9 720.5h0M446.3 725.7h0M446.2 723.1h0M445.9 725.8h0M446.2 726.2h0M446.7 726.9h0M446.4 713.9h0M446.8 720.3h0M447.6 723.7h0M447.6 723.9h0M448.5 726.4h0M448.4 726h0M449.2 724.8h0M449.1 727.1h0M449.8 719.9h0M450.8 724.9h0M450.3 723.2h0M451.2 724.8h0M451.7 724.6h0M451.7 726.3h0M452.7 725.1h0M452.7 721.1h0M452.7 726.7h0M452.4 719.3h0M453.1 723.5h0M452.9 718.6h0M453.3 725.6h0M453.5 716.5h0M453.3 725.6h0M453.7 723.2h0M453.9 714.5h0M454.6 725.4h0M455.1 724h0M455 721.4h0M455.8 727.7h0M455.7 722.1h0M455.9 725.7h0M456.8 727.2h0M456.8 717.8h0M457 723.6h0M458.1 727.4h0M457.9 727.5h0M458.3 729.2h0M457.8 729.8h0M414.9 716.6h0M414.7 719.9h0M413.9 721.6h0M414.4 717.1h0M419.1 705.8h0M418.4 701.7h0M418.8 717.2h0M418.4 711h0M446.8 715.7h0M447.7 716.3h0M448.2 703.1h0M447 702h0M447.1 709.1h0M447 710.5h0M419.3 719.2h0M420.4 720.1h0M419.9 721.7h0M419.3 720.5h0M419.2 716.1h0M408.9 711.6h0M408.8 714h0M409 711.9h0M408.7 722.3h0M419.7 714.6h0M419.1 712.2h0M420.1 722.1h0M426.8 708.4h0M427.9 713.3h0M427.8 708.5h0M427.4 702.2h0M439.5 723.5h0M439.7 701.4h0M439.3 715.1h0M438.6 706.4h0M439.8 705.8h0M439.8 702h0M439.4 710.1h0M438.4 701.7h0M416.1 707h0M414.9 710.4h0M415.7 694h0M415.8 699.9h0M415.9 700.6h0" stroke="#1e2d5e" stroke-width="2.8" stroke-linecap="round"/>
<path d="M457.2 746.6 457.2 730.4 458.4 730.4 459.4 731.6 460.4 732.9 461.4 732.9 462.4 732.9 463.4 732.9 464.4 732.9 465.4 732.9 466.4 732.9 467.4 732.9 468.4 731.6 469.4 730.4 470.4 729.2 471.4 727.9 472.4 727.9 473.4 726.7 474.4 726.7 475.4 726.7 476.4 726.7 477.4 726.7 478.4 726.7 479.4 726.7 480.4 726.7 481.4 726.7 482.4 725.7 483.4 724.8 484.4 723.8 485.4 722.9 486.4 722.9 487.4 721.9 488.4 721.9 489.4 721.9 490.4 721.9 491.4 721.9 492.4 721.9 493.4 721.9 494.4 721.9 495.4 721.9 496.4 723 497.4 724.2 498.4 725.3 499.4 726.4 500.6 726.4 500.6 746.6Z" fill="#c58216"/>
<path d="M458.9 726.1h0M458.7 718.4h0M459.2 731.3h0M459.6 715.8h0M459.7 729.3h0M459.8 731.3h0M460.1 729.1h0M460.4 729h0M460.8 731.7h0M460.8 724.6h0M460.8 725.3h0M461.3 732h0M461.3 726.4h0M461.3 732.3h0M461.1 719.8h0M461.5 730.4h0M461.6 729.4h0M461.7 722.1h0M461.5 729.5h0M461.7 732.3h0M461.9 727.1h0M462.1 730.2h0M462 728.9h0M462 732.7h0M462.7 723.9h0M462.8 722.8h0M463 730.4h0M463.1 729h0M463.7 728.8h0M463.5 731.2h0M464 728.4h0M464.7 726.8h0M464.5 732.4h0M465.1 732.1h0M466.4 732.5h0M466 713.8h0M466.4 729.7h0M466.8 729.2h0M466.8 722.1h0M466.5 721.9h0M467.4 731.3h0M467.7 729.4h0M467.6 730.3h0M468.1 730.7h0M469.2 725.6h0M469 729.6h0M469.3 724.5h0M469.1 726.4h0M469.3 724.4h0M469.1 726h0M470.3 726.6h0M471.2 726.4h0M471 725.5h0M470.9 726.1h0M471.5 716.1h0M472.3 727.4h0M472.5 726.1h0M472.4 720h0M472.9 719h0M473.7 725.6h0M474 722.4h0M474.2 723.4h0M475 723h0M475.1 723.8h0M475.5 720.1h0M476.2 726.6h0M476.6 713.3h0M476.5 720.7h0M476.4 713.8h0M476.9 725.4h0M477 722.7h0M477.2 719.8h0M477.4 721.5h0M477.5 725.6h0M477.6 722.4h0M478.8 725.5h0M478.5 725.4h0M479.4 721h0M479.1 725.7h0M479.3 726.4h0M479.1 726.4h0M479.3 722.2h0M480.2 726.6h0M480.9 707.6h0M480.5 719.2h0M480.5 704.6h0M481.4 720.1h0M481.8 712.3h0M481.9 725.2h0M481.9 725.6h0M482.9 723.9h0M483.5 721.5h0M484.5 723.8h0M485.1 720.1h0M485.4 723.7h0M485.7 718.9h0M486.4 721.9h0M486.2 722.4h0M486.8 716.8h0M486.7 718.6h0M487.4 713.8h0M487.7 708.8h0M487.5 716.6h0M487.6 710.7h0M487.7 720.4h0M487.9 717.1h0M488.2 718.6h0M489.1 719.7h0M489.8 720.9h0M490.2 716.3h0M490 708.6h0M490.7 716.2h0M490.8 721.2h0M490.8 711.1h0M491.4 717.7h0M493 713.2h0M493.1 719.8h0M493 721.2h0M493.5 720.2h0M493.5 721h0M493.7 708.5h0M494.1 719.2h0M494.6 708.1h0M494.7 715.8h0M495.1 719.5h0M495 721.3h0M495.2 720.8h0M495.1 713.2h0M495 720.9h0M495.5 721h0M495.7 719.9h0M495.6 719.9h0M496.2 721.5h0M496.5 707.2h0M497.1 721.2h0M497.3 714.8h0M497.2 722.1h0M497.5 722.8h0M497.8 719.6h0M498.3 716.1h0M498.3 723.9h0M498.2 719.9h0M498.3 722.9h0M498.9 721.9h0M498.8 720.3h0M499.3 724.8h0M491.8 713.7h0M490.4 712.2h0M491.4 712.8h0M490.5 713.7h0M491 712.5h0M490.9 713.2h0M491.4 717.2h0M490.7 715.6h0M482.4 713.2h0M481 713.7h0M482.2 721.2h0M465.5 724.2h0M464.3 726.9h0M464.6 718.8h0M465 722.8h0M464.9 728.4h0M464.6 724.9h0M465.4 727.4h0M465.2 719.5h0M470.6 725.3h0M470.8 714.1h0M470 717.7h0M470.5 717.7h0M461.9 726.6h0M461.9 725.8h0M462.7 724.1h0M462.3 724.2h0M461.5 724.4h0M461.9 727.9h0M461.8 725.8h0M462.4 724.6h0M461.3 724.3h0M473.8 723.5h0M473.5 715.8h0M473.1 715.7h0M472.7 717.3h0M473.9 719.1h0M473.5 722.9h0M473.9 722.8h0M473.9 715.8h0M472.8 723.4h0M495.6 713.2h0M494.8 712.9h0M495.5 710.4h0M495 716.2h0M494.9 708.8h0M494.8 714.9h0M492.7 704.8h0M493.4 709.3h0M492.3 696.8h0M493 687.8h0M492.6 690.3h0M492.7 704h0M492.3 688.2h0M490.8 724.8h0M491.8 708h0M492.5 688.2h0M492.9 692.3h0M492.4 689.8h0M491 721.2h0M491.3 708.7h0M490.7 716.7h0M493.8 727.7h0M492.5 697.9h0M491.9 691.4h0M493.6 708.3h0M493.1 700.9h0M493.1 692.4h0M488.3 728.7h0M495.2 719.8h0M484.3 727.6h0M497.1 724.7h0M495.5 721.4h0M492.9 694.6h0M489.5 723.8h0M492.5 698.4h0M492.3 687.5h0M493.2 696.5h0M491.8 699.6h0M493 705.9h0M492.5 689.2h0M493.1 716.4h0M493.7 708.1h0M491.9 706.3h0M499.2 728.3h0M492.8 691.1h0M492.8 695.3h0M492.9 697.6h0M488.4 726.6h0M491.7 712.8h0M492.5 688h0M491.7 704.4h0M494 724h0M488.4 726.3h0M490.9 728.2h0M491.9 688.6h0M491.9 691.9h0M493 690.1h0M492.9 702.9h0M492.2 705.8h0M487.9 728.9h0M492.3 694.9h0M492.7 709.6h0M492.9 706.4h0M493.1 689h0M491.3 723.3h0M493.4 715.6h0M492.8 691.2h0M488.2 727.2h0M493.4 710.2h0M496.6 727.9h0M493 701h0M492.4 704.6h0M494.6 712.4h0M499.3 724h0M492.5 727.5h0M488.8 716.9h0M492.8 702.4h0M492.6 699.9h0M492.4 687.5h0M492.7 688.5h0M491 721.4h0M492.4 690h0M492.3 692.5h0M485.4 728.6h0M492.5 688.9h0M492.8 719.5h0M492.1 692.6h0M495.7 714.8h0M490.4 714.9h0M493.1 702h0M493.7 719.3h0M493 688h0M492.3 695h0M492.7 690.6h0M491.5 722.3h0M493.3 708.2h0M491.9 695.7h0M493.2 694h0M492.1 705.9h0M489.8 724.2h0M498.4 712.3h0M489.8 710.4h0M493.4 725.6h0M493.7 715.2h0M492.7 693.3h0M493.1 709.8h0M493.2 692.4h0M491.1 715.9h0M492.4 727.8h0M492.4 694.8h0M490.3 722.8h0M492.8 695.6h0M490.4 711.4h0M492.7 698h0M490.4 715.3h0M492.3 701.5h0M493.1 697.6h0M495.7 724.7h0M493.9 715.9h0M492.2 697.2h0M492.9 695.3h0M493.1 697.4h0M493.6 713.5h0M492.4 701h0M492.3 691.3h0M492.8 689.8h0M493.3 716.6h0M491.4 718.5h0M493.7 708.7h0M492.5 699.1h0M492.6 698.2h0M492.1 689.5h0M491.7 698.5h0M492.8 696.2h0M492.6 705.1h0M493.7 710.6h0M491.8 713.4h0M493.2 701.6h0M493.4 721.1h0M490.4 727h0M492 723.3h0M492.7 697.6h0M490.8 713.1h0M491.9 705.9h0M492.2 698.8h0M494.4 711.6h0M492.8 699.6h0M492.5 694.9h0M493.1 706.3h0M492.6 700.9h0M490.6 714.1h0M492.6 703h0M492 690.6h0M493.9 712.5h0M492.9 692.5h0M493 688.8h0M492.9 722.9h0M492.4 701.8h0M485.6 717.5h0M490 716.2h0M493.2 696.3h0M491.1 707.2h0M495.6 727.1h0M492.4 695.6h0M492.4 698.5h0M494.6 714.3h0M494.1 711.4h0M493.3 705.5h0M494.3 714.7h0M492.7 717.2h0M492.9 693h0M492.7 693.6h0M490.3 723.9h0M491.5 710.2h0M492.4 706.2h0M492.9 702.1h0" stroke="#c58216" stroke-width="2.8" stroke-linecap="round"/>
<path d="M498.2 746.6 498.2 726.4 499.4 726.4 500.4 726.4 501.4 727.5 502.4 727.5 503.4 727.5 504.4 727.5 505.4 727.5 506.4 727.5 507.4 727.5 508.4 727.5 509.4 727.5 510.4 728 511.4 728.6 512.4 729.1 513.4 729.7 514.4 729.7 515.4 730.2 516.4 730.2 517.4 730.2 518.4 730.2 519.4 730.2 520.4 730.2 521.4 730.2 522.4 730.2 523.4 729.5 524.4 728.8 525.4 728.8 526.4 728.1 526.5 728.1 527.7 728.1 527.7 746.6Z" fill="#1e2d5e"/>
<path d="M499.7 725h0M500.3 713.8h0M501.1 724.1h0M501.6 721.3h0M501.9 719.9h0M501.5 726.6h0M501.4 722.4h0M502.2 726.1h0M502.9 725.9h0M502.7 725.7h0M502.7 719.1h0M502.8 725h0M503.4 726.7h0M504.1 716.2h0M503.9 727h0M504.3 722.2h0M504.5 724h0M504.6 726.5h0M505.4 724.8h0M505.3 721.4h0M505.8 721.6h0M505.9 723.1h0M506.3 712.9h0M506.6 726.8h0M506.8 727h0M506.4 723.3h0M506.7 721.7h0M506.6 725.5h0M507.3 716.6h0M507.2 725.4h0M507.1 726.4h0M506.9 722.1h0M507.6 725.8h0M507.7 720.2h0M507.5 715.9h0M507.9 725.7h0M508.2 724.2h0M508.1 725.5h0M508.2 723.8h0M508.9 727.4h0M508.5 719.9h0M509.3 725.4h0M509.8 723.6h0M509.5 726h0M511 727.3h0M511.3 727.9h0M511.2 726.4h0M511.5 726.9h0M511.9 717.6h0M511.5 728.1h0M511.7 727.1h0M511.5 725h0M511.4 723.8h0M512 726.7h0M512.8 725.4h0M513.4 719.6h0M513.7 728.4h0M513.9 728.3h0M514.2 721.9h0M514.8 727.3h0M514.8 730.1h0M515.3 723.8h0M515.4 727.6h0M515 726.9h0M515.3 716.8h0M515.4 720.2h0M515.7 728.3h0M516 729.9h0M516.2 721h0M516.2 724.9h0M516.7 712.3h0M517.3 728.7h0M517.1 730.2h0M517.3 729.5h0M518.1 729.3h0M518.8 729.2h0M518.9 727.3h0M518.6 717h0M518.8 728.3h0M518.6 725.4h0M518.5 729.1h0M519.5 718.3h0M519.6 729.9h0M519.4 726.3h0M519.6 727.1h0M520.1 722.3h0M520.1 721.2h0M520.3 724h0M520.9 730.2h0M520.7 723.4h0M521 725.9h0M522.3 729.2h0M522.6 729.9h0M523.3 718.5h0M523.7 728.5h0M523.9 729.1h0M524.6 721.2h0M524.6 727.5h0M525.3 722.8h0M525.8 727.1h0M525.4 717.9h0M503.2 713.2h0M503.3 720.3h0M503.4 720h0M502.5 715.9h0M503.1 715.3h0M502.6 717.7h0M503.5 721.5h0M509.7 705.7h0M509.8 705.8h0M509.5 710.7h0M509.1 719.6h0M509.5 724.2h0M510.3 706.8h0M509.9 710.9h0M510.2 708.9h0M510.1 705.5h0M504.4 717.1h0M504.3 713h0M504.6 713.2h0M504.2 723h0M504.5 713.8h0M504 717.9h0M504.3 716.7h0M504.2 712.6h0M504.3 720.9h0M504 719.9h0M503.5 716.5h0M504.2 718h0" stroke="#1e2d5e" stroke-width="2.8" stroke-linecap="round"/>
<path d="M525.3 746.6 525.3 728.1 526.5 728.1 527.5 727.4 528.5 726.7 529.5 726.7 530.5 726.7 531.5 726.7 532.5 726.7 533.5 726.7 534.5 726.7 535.5 726.7 536.5 726.7 537.5 726.7 538.5 726.7 539.5 727.7 540.5 728.6 541.5 729.6 542.5 729.6 543.7 729.6 543.7 746.6Z" fill="#c58216"/>
<path d="M526.8 714.7h0M527.1 727.2h0M528.2 724.6h0M528 723.2h0M528.8 724.5h0M528.6 719.5h0M529.3 726h0M529.5 724h0M529.3 718h0M529.1 720.6h0M529.8 725h0M530.3 716.9h0M530.3 725.4h0M530.3 725h0M531.4 724.3h0M531.1 722.5h0M531 717.7h0M532 725.6h0M532.2 726.1h0M532.8 725.7h0M532.6 726.4h0M533.3 724.1h0M533.7 723h0M534.3 713h0M534.4 719.9h0M535.4 724.8h0M535.3 714.6h0M535.7 724.3h0M535.7 719h0M536.6 724.9h0M536.7 722.2h0M537.6 721.1h0M537.5 723.5h0M537.6 725.6h0M537.9 725.5h0M538.5 724.8h0M538.7 716.2h0M538.8 726.3h0M539 724.1h0M540.1 726.3h0M540.5 727.8h0M540.5 725.8h0M540.8 726h0M540.8 725.4h0M540.9 724h0M541.3 721.4h0M541.2 715.8h0M541.4 715.7h0M540.7 716.2h0M540.7 725.2h0M540.8 725.5h0M540.7 717h0M540.3 718.2h0M541.6 719.1h0M541.3 718.4h0M533.4 718.3h0M533.7 719.8h0M533.5 710.8h0M532.7 711.3h0M532.7 717.5h0M533.8 712.1h0M533.5 719.9h0M532.7 715.6h0M533.6 713.7h0M526.8 724.5h0M526.5 718.7h0M526.5 722.7h0M526.6 721.5h0M526.1 718.3h0M527.4 722.4h0M527.3 722.6h0" stroke="#c58216" stroke-width="2.8" stroke-linecap="round"/>
<path d="M541.3 746.6 541.3 729.6 542.5 729.6 543.5 730.6 544.5 731.6 545.5 731.6 546.5 731.6 547.5 731.6 548.5 731.6 549.5 731.6 550.5 731.6 551.5 731.6 552.5 731.6 553.5 731.6 554.5 731.6 555.5 730.6 556.5 730.6 557.5 729.6 558.5 728.6 558.6 728.6 559.8 728.6 559.8 746.6Z" fill="#1e2d5e"/>
<path d="M543.2 730h0M544 730.4h0M543.9 722.6h0M544 727.7h0M543.9 730.1h0M543.9 700.3h0M544.1 728.9h0M544.3 725.3h0M544.5 726.1h0M544.5 726.8h0M544 728.1h0M544.7 728.6h0M545.4 720.7h0M545.3 729.9h0M545 730.5h0M545.5 727.8h0M545.9 731.5h0M546.3 726.4h0M546.3 722.3h0M546.4 728h0M546.7 729.6h0M546.8 731h0M546.8 728.4h0M546.6 726h0M547.6 728.2h0M547.8 727.6h0M548.4 727.9h0M548.2 730.8h0M548.6 726.2h0M548.9 731.5h0M549 721.6h0M548.8 729.3h0M549.1 716.8h0M549.9 714.7h0M549.9 729.4h0M550.5 727.4h0M550.7 731h0M550.9 730.5h0M551.1 726.1h0M551.5 727.7h0M551.9 730.1h0M551.7 729.4h0M552.2 726.4h0M552.7 729.4h0M553 728.7h0M553 728.5h0M553.8 729.4h0M554.4 731h0M554.4 720.3h0M554.6 727.3h0M555.7 727.2h0M555.7 729.8h0M555.8 726h0M555.7 729.3h0M556.9 720.6h0M556.6 727.4h0M558 727.2h0M557.5 728.5h0M558.2 723.9h0M546.2 722.5h0M545.7 726.7h0M546 727h0M546.1 726.7h0M546.1 723.2h0M546.5 726.6h0M548.7 726.5h0M549 722.5h0M549 723.5h0M549.5 720.1h0M549.1 726.7h0M549.6 723.4h0M548.9 724.2h0M548.2 720.7h0M549.2 723.6h0M556.7 711h0M555.6 715.7h0M556.3 713.7h0M555.6 723.3h0M556.1 717.3h0M556.2 723.4h0M555.5 715.3h0M555.9 720.5h0M555.7 726.7h0" stroke="#1e2d5e" stroke-width="2.8" stroke-linecap="round"/>
<path d="M557.4 746.6 557.4 728.6 558.6 728.6 559.6 727.7 560.6 726.7 561.6 726.7 562.6 726.7 563.6 726.7 564.6 726.7 565.6 726.7 566.6 726.7 567.6 726.7 568.6 727.1 569.6 727.1 570.6 727.5 571.6 727.9 572.2 727.9 573.4 727.9 573.4 746.6Z" fill="#c58216"/>
<path d="M559.9 725.1h0M559.9 718.2h0M560 724.2h0M560.1 709h0M560.5 722.1h0M560.5 722.4h0M560.6 726.4h0M561.3 726.7h0M561.4 726.3h0M561.6 720.1h0M561.8 726.3h0M561.7 722.6h0M562.5 725.6h0M563 722.7h0M562.8 725.3h0M563.4 721.1h0M563.6 726.3h0M563.7 717.3h0M564.5 721.1h0M564.5 716.4h0M564.2 724h0M564.2 717.4h0M565.2 725.9h0M565.3 723.7h0M565.2 726.2h0M565.7 726.3h0M566.1 725.6h0M565.7 724h0M566.5 716.3h0M566.4 724.1h0M566.3 710.7h0M566.5 694.8h0M566.3 711h0M566.6 715.9h0M566.9 712.7h0M566.8 723.3h0M567.7 718.3h0M567.8 725h0M568.2 725.4h0M568.2 716h0M568.2 724.3h0M568.2 721.1h0M568.4 726.4h0M568.7 723.8h0M568.9 725.1h0M569.6 725.4h0M569.5 724.1h0M569.7 726.6h0M571.4 726h0M571.5 720.4h0M571.3 726.4h0M571.4 725.6h0M571.8 714.5h0M571.8 721.3h0M571.4 718.7h0M572 716.8h0M571.2 722h0M571 722.7h0M571.3 721h0M571.2 716h0M571.5 722.2h0M571.6 721.6h0M571.6 722h0M565.4 711.5h0M565.7 715.9h0M565.1 710.1h0M566 713.3h0M565.2 710.6h0" stroke="#c58216" stroke-width="2.8" stroke-linecap="round"/>
<path d="M571 746.6 571 727.9 572.2 727.9 573.2 728.4 574.2 728.8 575.2 728.8 576.2 728.8 577.2 728.8 578.2 728.8 579.2 728.8 580.2 728.8 581.2 728.8 582.2 728.9 582.7 728.9 583.9 728.9 583.9 746.6Z" fill="#1e2d5e"/>
<path d="M573.7 725.4h0M573.3 726h0M573.3 727.8h0M574.1 727.7h0M573.9 728.4h0M573.8 723.3h0M574.6 728.1h0M574.7 721.6h0M574.3 725.9h0M574.5 727.3h0M574.9 719h0M574.7 708.8h0M574.7 726.9h0M575.1 728.4h0M574.9 723h0M574.9 728.4h0M575.6 721.5h0M576.1 722.2h0M576.2 724h0M576.4 723.9h0M576.7 725.1h0M576.3 726.3h0M576.5 726.4h0M577.2 725.5h0M577.5 719.9h0M577.7 723.8h0M578.1 720.3h0M578.3 724.7h0M578.2 724.2h0M578.7 728h0M578.3 719.4h0M578.2 727.6h0M578.2 725h0M578.6 726.4h0M579.1 726.5h0M578.8 724.5h0M578.8 717.4h0M579.1 725.5h0M579.6 713.9h0M579.7 721h0M580.4 724.3h0M580.5 725.6h0M581.2 724.3h0M580.9 728.4h0M580.9 727.2h0M580.7 727.9h0M581.1 723.6h0M581.7 726.8h0M581.8 726.6h0M581.9 723.9h0M582 727h0M581.7 721.2h0M581.9 716.7h0M582 726.8h0M582.1 724.6h0M581.1 719.9h0M582.1 724.6h0M582 724.6h0M580.9 724.2h0M580.9 724h0M582.2 721.4h0M581.6 720.7h0" stroke="#1e2d5e" stroke-width="2.8" stroke-linecap="round"/>
<path d="M581.5 746.6 581.5 728.9 582.7 728.9 583.7 728.9 584.7 728.9 585.7 728.9 586.7 728.9 587.7 728.9 588.7 728.1 589.7 727.2 590.7 726.4 591.5 726.4 592.7 726.4 592.7 746.6Z" fill="#c58216"/>
<path d="M583.5 726.9h0M583.8 727.2h0M584.6 724.9h0M584.5 723h0M584.3 725.3h0M584.7 717.9h0M585.2 727.3h0M584.8 727.5h0M584.8 712.2h0M585.6 718.2h0M586.2 728.5h0M586.1 726.8h0M586.3 723.7h0M586.4 719.3h0M586.8 727.6h0M586.9 726.1h0M587.2 727.9h0M587.4 728.4h0M587.8 720.9h0M588 724h0M588.9 725.3h0M589.2 718.1h0M589.7 720.7h0M589.4 726.9h0M589.2 726.7h0M590.3 719h0M591.2 718.2h0M590.9 714.7h0M591.4 709.3h0M587 723.3h0M588.1 722.6h0M588.3 724.4h0" stroke="#c58216" stroke-width="2.8" stroke-linecap="round"/>
<path d="M590.3 746.6 590.3 726.4 591.5 726.4 592.5 725.6 593.5 724.7 594.5 724.7 595.5 724.7 596.5 724.7 597.5 725 598.5 725 599.5 725.2 600.5 725.5 600.7 725.5 601.9 725.5 601.9 746.6Z" fill="#1e2d5e"/>
<path d="M592.7 721.8h0M592.6 719h0M592.7 717h0M592.8 724.7h0M592.8 724.5h0M593.1 715.3h0M593 722.2h0M593.4 724h0M593.8 720.7h0M594.3 718.6h0M594.5 723.4h0M594.8 723.7h0M594.9 723.9h0M595 723.5h0M595.9 720.3h0M595.8 720.3h0M596.1 722.3h0M596.4 724.6h0M596.2 713.4h0M596.1 714.1h0M596.6 721.6h0M597.5 720.9h0M598.5 719.3h0M598.2 721.7h0M598.4 721.3h0M599 720.1h0M599 723.6h0M599.1 723.2h0M600.1 722.7h0M600.2 720h0M593.2 715.9h0M593.7 717.8h0M593.4 716.7h0M594.4 714.7h0" stroke="#1e2d5e" stroke-width="2.8" stroke-linecap="round"/>
<path d="M599.5 746.6 599.5 725.5 600.7 725.5 601.7 725.8 602.7 726 603.7 726 604.7 726 605.7 726 606.7 726.2 607.7 726.3 608.7 726.4 609.7 726.4 609.8 726.4 611 726.4 611 746.6Z" fill="#c58216"/>
<path d="M600.9 724.7h0M601.1 706.4h0M602.4 719.3h0M603.1 724.9h0M602.7 723.4h0M602.8 724.4h0M603.5 722.6h0M604.1 724.8h0M604.5 725.1h0M606.4 725.9h0M606.8 723.7h0M608.2 723.1h0M608.6 725.9h0M609.5 725.4h0M609.3 725.7h0M609.6 715h0M605.9 714h0M605.4 710.6h0M605.8 721.1h0M606 720.3h0M604.6 708.2h0" stroke="#c58216" stroke-width="2.8" stroke-linecap="round"/>
<path d="M608.6 746.6 608.6 726.4 609.8 726.4 610.8 726.6 611.8 726.7 612.8 726.7 613.8 726.7 614.8 726.7 615.8 727.4 616.8 728.1 617.4 728.1 618.6 728.1 618.6 746.6Z" fill="#1e2d5e"/>
<path d="M610 723.8h0M610.2 723.7h0M610 725.7h0M610.5 725h0M610.5 719.3h0M610.7 723.3h0M611.2 724.3h0M610.9 723.1h0M611.6 706.1h0M611.4 710.5h0M611.5 720.5h0M612.3 713.7h0M612.4 715.1h0M612.6 726.5h0M613.4 726h0M613.9 721.9h0M615 723h0M615 724.8h0M615.4 722.4h0M616.3 717.4h0M616.1 720.7h0M615.9 722.5h0M616.6 716.7h0M617.3 726.7h0M617.3 726.9h0M616.9 725.5h0M617 727.7h0M615 709.7h0M614.5 722h0M614.3 709.4h0M614.2 707.6h0M614.2 719.6h0" stroke="#1e2d5e" stroke-width="2.8" stroke-linecap="round"/>
<path d="M616.2 746.6 616.2 728.1 617.4 728.1 618.4 728.8 619.4 729.5 620.4 730.2 621.4 730.2 622.4 730.2 623.4 728.7 624.4 727.2 624.7 727.2 625.9 727.2 625.9 746.6Z" fill="#c58216"/>
<path d="M617.6 727.8h0M618 724.1h0M618.2 722.7h0M618.8 724.9h0M618.6 728.4h0M618.7 726.4h0M619.1 726.1h0M619.5 720.9h0M621.1 729.6h0M622.1 725.9h0M621.9 721.6h0M622.1 730.2h0M622.3 727.7h0M622.2 728.5h0M622.6 725.6h0M623.2 713.9h0M623.6 723.2h0M623.9 719h0M624.1 722.1h0M624 719.3h0M624 715h0M618.9 723.2h0M619.5 720h0M619.5 725.2h0M619.5 720.5h0M618.9 724h0M619.9 720.8h0M618.7 721.4h0M619.7 722.7h0" stroke="#c58216" stroke-width="2.8" stroke-linecap="round"/>
<path d="M623.5 746.6 623.5 727.2 624.7 727.2 625.7 725.7 626.7 724.1 627.7 722.6 628.7 722.6 629.7 722.6 630.2 722.6 631.4 722.6 631.4 746.6Z" fill="#1e2d5e"/>
<path d="M625.5 725.2h0M625.6 724.8h0M625.5 722.9h0M625.6 710h0M626.1 724.7h0M626.3 723.6h0M627.1 721.5h0M627.2 722.3h0M626.9 722.5h0M627.4 714h0M627.4 722.5h0M628.1 714.9h0M628.7 708h0M628.5 714.1h0M628.4 719.3h0M629 720.2h0M629.2 720.5h0M629.6 722.5h0M629.3 707.7h0M629.4 722.5h0M627.7 718h0M627.6 720.3h0M627.5 719.2h0M627.6 721.2h0M626.7 714.8h0M627.4 716.7h0M627.7 718.4h0" stroke="#1e2d5e" stroke-width="2.8" stroke-linecap="round"/>
<path d="M629 746.6 629 722.6 630.2 722.6 631.2 722.6 631.3 722.6 632.5 722.6 632.5 746.6Z" fill="#c58216"/>
<path d="M630.5 721.8h0M630.4 721.1h0M630.4 720.4h0M631.1 719h0M631.2 717.1h0M631.1 720h0" stroke="#c58216" stroke-width="2.8" stroke-linecap="round"/>
<path d="M630.1 746.6 630.1 722.6 631.3 722.6 632.3 722.6 633.3 723.4 634.3 724.2 635.3 725.1 635.5 725.1 636.7 725.1 636.7 746.6Z" fill="#1e2d5e"/>
<path d="M631.8 721.2h0M632 715.1h0M632.3 720.7h0M632.7 717.8h0M632.7 720.9h0M633.2 720.2h0M632.9 719.9h0M633.5 716.5h0M634.8 722.7h0M634.9 714h0M635.3 722.5h0M635.4 720.4h0M635.5 719.7h0M635.9 718.4h0M635.6 714.5h0M635.3 712.7h0M635.9 709.7h0M635.3 709.1h0" stroke="#1e2d5e" stroke-width="2.8" stroke-linecap="round"/>
<path d="M634.3 746.6 634.3 725.1 635.5 725.1 636.5 725.9 637.5 727 638.5 727 639.5 727.3 640.5 727.6 640.7 727.6 641.9 727.6 641.9 746.6Z" fill="#c58216"/>
<path d="M635.7 722.4h0M635.9 707.1h0M635.9 720.5h0M636.3 715.8h0M636.1 725.4h0M636.1 723.4h0M636.2 723.9h0M636.4 723.6h0M636.6 725.3h0M637.4 723.6h0M637.1 723.7h0M638.2 723.1h0M638.1 723.4h0M638.3 723.3h0M638.4 725.4h0M639.4 727h0M640.1 726.7h0M640.1 723h0M640.3 722.7h0M640.4 727.5h0M640.4 725.8h0M636.7 714.6h0M638 716.8h0M637.6 711.8h0M636.7 713.1h0M636.7 720h0" stroke="#c58216" stroke-width="2.8" stroke-linecap="round"/>
<path d="M639.5 746.6 639.5 727.6 640.7 727.6 641.7 727.8 642.7 727.4 643.7 726.8 644.7 726.1 645.2 726.1 646.4 726.1 646.4 746.6Z" fill="#1e2d5e"/>
<path d="M641.2 709.7h0M641 719.9h0M641.7 722.7h0M642.6 714.2h0M642.4 722.7h0M642.3 725.4h0M643.2 727.3h0M643 712.4h0M643.2 721.3h0M644 725.3h0M643.7 720.3h0M644.5 726.6h0M644.3 722.4h0M645.2 722.2h0" stroke="#1e2d5e" stroke-width="2.8" stroke-linecap="round"/>
<path d="M644 746.6 644 726.1 645.2 726.1 646.2 725.4 647.2 724.7 648.2 724.7 649.2 725 650.2 725 651.2 725.2 651.4 725.2 652.6 725.2 652.6 746.6Z" fill="#c58216"/>
<path d="M645.4 724.2h0M645.5 721.9h0M646.1 723.6h0M647 723.8h0M647 721.1h0M648 722.5h0M648.4 722.9h0M649.1 722.2h0M648.7 723.9h0M649.5 723.3h0M649.6 722.1h0M649.8 724.4h0M650.3 720.6h0M650.3 724.6h0M650.5 724.2h0M650.9 725.2h0M651.3 721h0M651.2 718.6h0M647.9 711.8h0M648.7 709.7h0M649.2 706.6h0M648.7 708h0M648 705.9h0" stroke="#c58216" stroke-width="2.8" stroke-linecap="round"/>
<path d="M650.2 746.6 650.2 725.2 651.4 725.2 652.4 725.5 653.4 725.8 654.4 726 654.6 726 655.8 726 655.8 746.6Z" fill="#1e2d5e"/>
<path d="M651.5 724.2h0M651.6 719.9h0M652.1 725.1h0M652.4 718.2h0M652.5 723h0M652.8 716.5h0M652.9 720.5h0M652.7 721.5h0M652.6 723.3h0M653.6 724.4h0M653.7 723.1h0M653.8 724.2h0M654.1 725h0M653.9 724.4h0M653.2 721.2h0M653.7 716.8h0M653.7 719.1h0M652.7 721.9h0M652.9 719.8h0M653.6 718.3h0" stroke="#1e2d5e" stroke-width="2.8" stroke-linecap="round"/>
<path d="M653.4 746.6 653.4 726 654.6 726 655.6 726 656.6 726 656.7 726 657.9 726 657.9 746.6Z" fill="#c58216"/>
<path d="M655.1 721.5h0M655.5 723h0M655.6 719.4h0M655.8 723.8h0M656.1 715.6h0M656.6 725.2h0" stroke="#c58216" stroke-width="2.8" stroke-linecap="round"/>
<path d="M655.5 746.6 655.5 726 656.7 726 657.7 726 658.7 726 659 726 660.2 726 660.2 746.6Z" fill="#1e2d5e"/>
<path d="M657.1 723.6h0M657 723.6h0M657.2 724.4h0M657.3 725.7h0M657.7 721.7h0M658.2 725.9h0M658 719.1h0M658.2 723.4h0M658.5 724.2h0M656.9 718.3h0M657.1 717.8h0M656 721.9h0M656.8 719.1h0M657.3 722.8h0M656.5 717h0M657.2 719.7h0M657.3 716.4h0" stroke="#1e2d5e" stroke-width="2.8" stroke-linecap="round"/>
<path d="M657.8 746.6 657.8 726 659 726 660 726 661 726 662 726 662.5 726 663.7 726 663.7 746.6Z" fill="#c58216"/>
<path d="M659.1 722.3h0M660.4 724.9h0M660.9 721.4h0M661 718.6h0M661.2 722h0M661.9 722.4h0M661.8 714.2h0M661.9 724.4h0M661.9 725.1h0M662.3 716.7h0M660.3 716.8h0M660 717.3h0M660 717.4h0" stroke="#c58216" stroke-width="2.8" stroke-linecap="round"/>
<path d="M661.3 746.6 661.3 726 662.5 726 663.5 726 664.3 726 665.5 726 665.5 746.6Z" fill="#1e2d5e"/>
<path d="M663.1 715h0M663.9 724.8h0M663.8 721.7h0M663.8 724.5h0M664.1 725.7h0" stroke="#1e2d5e" stroke-width="2.8" stroke-linecap="round"/>
<path d="M663.1 746.6 663.1 726 664.3 726 665.3 726 666.3 726 666.6 726 667.8 726 667.8 746.6Z" fill="#c58216"/>
<path d="M664.7 725.1h0M664.9 709.8h0M665 725.4h0M665.8 724.4h0M666.3 725.2h0" stroke="#c58216" stroke-width="2.8" stroke-linecap="round"/>
<path d="M665.4 746.6 665.4 726 666.6 726 667.6 726 668.6 726 669.2 726 670.4 726 670.4 746.6Z" fill="#1e2d5e"/>
<path d="M667.3 718.7h0M667.4 724.2h0M667.5 722.6h0M667.2 724.1h0M667.7 714.8h0M667.9 725.1h0M668.3 723.5h0M668.5 714.9h0M668.7 723.7h0M668.6 725.7h0" stroke="#1e2d5e" stroke-width="2.8" stroke-linecap="round"/>
<path d="M668 746.6 668 726 669.2 726 670.2 726 671.2 726 672.4 726 672.4 746.6Z" fill="#c58216"/>
<path d="M669.5 723.6h0M669.8 724.9h0M670 717.9h0M669.7 725.6h0M669.7 725.3h0M669.9 722.5h0M670.8 718h0M670.8 724.9h0M670.7 723.2h0M671.1 717.7h0M670.7 721.9h0M669.9 718.4h0" stroke="#c58216" stroke-width="2.8" stroke-linecap="round"/>
<path d="M276.9 687.1h0M276.9 692h0M276.9 695h0M276.9 699h0M326 693.5h0M334 692.2h0M447.4 694.5h0M505.1 691.5h0M510.1 700.1h0M542.6 698.3h0M447.9 694h0M334.4 692.1h0M326.2 692.9h0M258.3 705.8h0M289 704.5h0M283.6 707h0M309.3 704.2h0M322.7 696.8h0M335.8 705.1h0M448 705.3h0M420.9 706.2h0M578.2 696h0M578.2 699.5h0M578.4 703h0M631.8 695.2h0M631.8 699.8h0" stroke="#1e2d5e" stroke-width="2.8" stroke-linecap="round"/>
<path d="M392.9 684.5h0M356.2 694.5h0M360.4 699h0M492.6 625.4h0M492.6 658.3h0M492.6 663.6h0M488.3 678h0M492.6 676h0M492.6 679h0M492.6 682h0M492.6 685h0M492.6 688h0M492.6 691h0M492.6 694h0M637.1 689.4h0M356.6 694.3h0M394.2 710.3h0M641.7 705.7h0" stroke="#c58216" stroke-width="2.8" stroke-linecap="round"/>
<line x1="239.6" y1="667.4" x2="684" y2="667.4" stroke="#e8645a" stroke-width="1"/>
<line x1="239.6" y1="684.5" x2="684" y2="684.5" stroke="#8cc96a" stroke-width="1"/>
</svg>
</body></html>
